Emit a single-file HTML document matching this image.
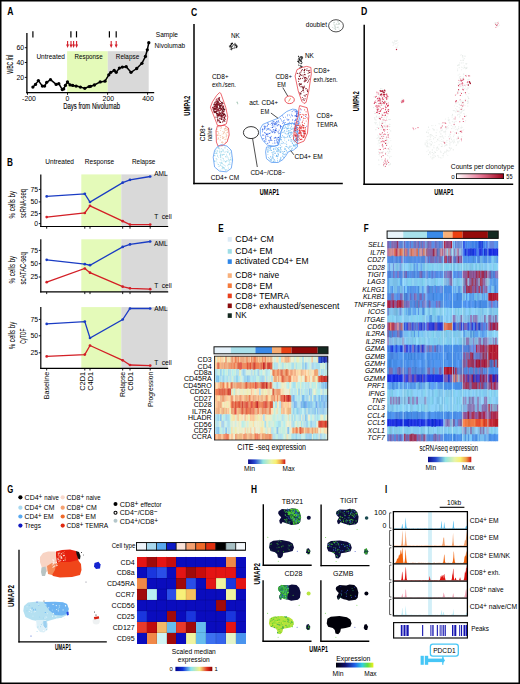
<!DOCTYPE html><html><head><meta charset="utf-8"><style>html,body{margin:0;padding:0;background:#fff;width:520px;height:684px;overflow:hidden}svg{display:block}</style></head><body>
<svg width="520" height="684" viewBox="0 0 520 684" font-family="Liberation Sans, sans-serif">
<rect x="0.00" y="0.00" width="520.00" height="684.00" fill="#fff" />
<text x="7.3" y="14.6" font-size="10.6" font-weight="bold" textLength="6.2" lengthAdjust="spacingAndGlyphs">A</text>
<text x="7.1" y="165.7" font-size="10.6" font-weight="bold" textLength="5.9" lengthAdjust="spacingAndGlyphs">B</text>
<text x="190.9" y="15.9" font-size="10.6" font-weight="bold" textLength="6.2" lengthAdjust="spacingAndGlyphs">C</text>
<text x="361.1" y="14.6" font-size="10.6" font-weight="bold" textLength="6.3" lengthAdjust="spacingAndGlyphs">D</text>
<text x="218.3" y="231.7" font-size="10.6" font-weight="bold" textLength="5.4" lengthAdjust="spacingAndGlyphs">E</text>
<text x="363.8" y="231.7" font-size="10.6" font-weight="bold" textLength="4.9" lengthAdjust="spacingAndGlyphs">F</text>
<text x="7.3" y="492.6" font-size="10.6" font-weight="bold" textLength="6.0" lengthAdjust="spacingAndGlyphs">G</text>
<text x="251.1" y="492.7" font-size="10.6" font-weight="bold" textLength="6.0" lengthAdjust="spacingAndGlyphs">H</text>
<text x="385.0" y="492.7" font-size="10.6" font-weight="bold" textLength="2.2" lengthAdjust="spacingAndGlyphs">I</text>
<rect x="67.10" y="51.20" width="40.70" height="41.50" fill="#e4fab9" />
<rect x="107.80" y="51.20" width="40.90" height="41.50" fill="#d9d9d9" />
<line x1="26.90" y1="33.00" x2="26.90" y2="93.30" stroke="#000" stroke-width="1.3" />
<line x1="26.30" y1="92.70" x2="154.20" y2="92.70" stroke="#000" stroke-width="1.3" />
<line x1="24.80" y1="47.70" x2="26.90" y2="47.70" stroke="#000" stroke-width="0.9" />
<text x="24.2" y="50.1" font-size="6.90" text-anchor="end" >60</text>
<line x1="24.80" y1="62.50" x2="26.90" y2="62.50" stroke="#000" stroke-width="0.9" />
<text x="24.2" y="64.9" font-size="6.90" text-anchor="end" >40</text>
<line x1="24.80" y1="77.40" x2="26.90" y2="77.40" stroke="#000" stroke-width="0.9" />
<text x="24.2" y="79.8" font-size="6.90" text-anchor="end" >20</text>
<line x1="27.50" y1="92.70" x2="27.50" y2="94.80" stroke="#000" stroke-width="0.9" />
<line x1="67.50" y1="92.70" x2="67.50" y2="94.80" stroke="#000" stroke-width="0.9" />
<line x1="107.60" y1="92.70" x2="107.60" y2="94.80" stroke="#000" stroke-width="0.9" />
<line x1="147.60" y1="92.70" x2="147.60" y2="94.80" stroke="#000" stroke-width="0.9" />
<text x="29.0" y="101.0" font-size="6.90" text-anchor="middle" >-200</text>
<text x="67.5" y="101.0" font-size="6.90" text-anchor="middle" >0</text>
<text x="108.3" y="101.0" font-size="6.90" text-anchor="middle" >200</text>
<text x="148.0" y="101.0" font-size="6.90" text-anchor="middle" >400</text>
<text x="63.2" y="108.8" font-size="8.69" textLength="56.8" lengthAdjust="spacingAndGlyphs" stroke="#000" stroke-width="0.12">Days from Nivolumab</text>
<text x="13.2" y="73.8" font-size="8.69" textLength="19.2" lengthAdjust="spacingAndGlyphs" transform="rotate(-90 13.2 73.8)" stroke="#000" stroke-width="0.12">WBC /nl</text>
<text x="36.4" y="59.2" font-size="7.31" textLength="28.6" lengthAdjust="spacingAndGlyphs" >Untreated</text>
<text x="74.6" y="59.2" font-size="7.31" textLength="28.0" lengthAdjust="spacingAndGlyphs" >Response</text>
<text x="115.8" y="59.2" font-size="7.31" textLength="23.4" lengthAdjust="spacingAndGlyphs" >Relapse</text>
<text x="155.8" y="37.2" font-size="7.31" textLength="22.2" lengthAdjust="spacingAndGlyphs" >Sample</text>
<text x="154.6" y="48.0" font-size="7.31" textLength="30.5" lengthAdjust="spacingAndGlyphs" >Nivolumab</text>
<line x1="32.90" y1="31.20" x2="32.90" y2="37.40" stroke="#000" stroke-width="1.2" />
<line x1="70.90" y1="31.20" x2="70.90" y2="37.40" stroke="#000" stroke-width="1.2" />
<line x1="76.50" y1="31.20" x2="76.50" y2="37.40" stroke="#000" stroke-width="1.2" />
<line x1="109.40" y1="31.20" x2="109.40" y2="37.40" stroke="#000" stroke-width="1.2" />
<line x1="116.20" y1="31.20" x2="116.20" y2="37.40" stroke="#000" stroke-width="1.2" />
<line x1="67.60" y1="41.00" x2="67.60" y2="45.50" stroke="#d3202a" stroke-width="1.1" />
<polygon points="66.1,44.6 69.1,44.6 67.6,47.9" fill="#d3202a" stroke="none" stroke-width="1" />
<line x1="71.00" y1="41.00" x2="71.00" y2="45.50" stroke="#d3202a" stroke-width="1.1" />
<polygon points="69.5,44.6 72.5,44.6 71.0,47.9" fill="#d3202a" stroke="none" stroke-width="1" />
<line x1="73.60" y1="41.00" x2="73.60" y2="45.50" stroke="#d3202a" stroke-width="1.1" />
<polygon points="72.1,44.6 75.1,44.6 73.6,47.9" fill="#d3202a" stroke="none" stroke-width="1" />
<line x1="76.60" y1="41.00" x2="76.60" y2="45.50" stroke="#d3202a" stroke-width="1.1" />
<polygon points="75.1,44.6 78.1,44.6 76.6,47.9" fill="#d3202a" stroke="none" stroke-width="1" />
<line x1="111.20" y1="41.00" x2="111.20" y2="45.50" stroke="#d3202a" stroke-width="1.1" />
<polygon points="109.7,44.6 112.7,44.6 111.2,47.9" fill="#d3202a" stroke="none" stroke-width="1" />
<line x1="116.20" y1="41.00" x2="116.20" y2="45.50" stroke="#d3202a" stroke-width="1.1" />
<polygon points="114.7,44.6 117.7,44.6 116.2,47.9" fill="#d3202a" stroke="none" stroke-width="1" />
<polyline points="32.9,87.1 35.5,84.4 38.4,80.6 42.4,86.1 44.6,86.1 46.7,82.3 50.5,79.7 56.2,84.4 58.8,83.7 62.3,89.6 63.7,88.9 65.4,85.4 67.5,82.0 70.1,84.9 72.7,85.4 76.1,86.1 80.4,87.1 84.8,88.3 89.1,86.6 90.6,86.3 94.4,85.0 100.2,81.9 105.0,81.2 108.8,74.8 110.8,72.3 114.2,70.4 116.2,72.3 119.4,68.1 122.3,67.1 126.2,66.7 131.0,72.3 136.7,68.5 141.9,63.3 145.4,56.5 147.3,49.8 148.8,42.7" fill="none" stroke="#000" stroke-width="1.5" stroke-linejoin="round"/>
<circle cx="32.9" cy="87.1" r="1.65" fill="#000"/>
<circle cx="35.5" cy="84.4" r="1.65" fill="#000"/>
<circle cx="38.4" cy="80.6" r="1.65" fill="#000"/>
<circle cx="42.4" cy="86.1" r="1.65" fill="#000"/>
<circle cx="44.6" cy="86.1" r="1.65" fill="#000"/>
<circle cx="46.7" cy="82.3" r="1.65" fill="#000"/>
<circle cx="50.5" cy="79.7" r="1.65" fill="#000"/>
<circle cx="56.2" cy="84.4" r="1.65" fill="#000"/>
<circle cx="58.8" cy="83.7" r="1.65" fill="#000"/>
<circle cx="62.3" cy="89.6" r="1.65" fill="#000"/>
<circle cx="63.7" cy="88.9" r="1.65" fill="#000"/>
<circle cx="65.4" cy="85.4" r="1.65" fill="#000"/>
<circle cx="67.5" cy="82.0" r="1.65" fill="#000"/>
<circle cx="70.1" cy="84.9" r="1.65" fill="#000"/>
<circle cx="72.7" cy="85.4" r="1.65" fill="#000"/>
<circle cx="76.1" cy="86.1" r="1.65" fill="#000"/>
<circle cx="80.4" cy="87.1" r="1.65" fill="#000"/>
<circle cx="84.8" cy="88.3" r="1.65" fill="#000"/>
<circle cx="89.1" cy="86.6" r="1.65" fill="#000"/>
<circle cx="90.6" cy="86.3" r="1.65" fill="#000"/>
<circle cx="94.4" cy="85.0" r="1.65" fill="#000"/>
<circle cx="100.2" cy="81.9" r="1.65" fill="#000"/>
<circle cx="105.0" cy="81.2" r="1.65" fill="#000"/>
<circle cx="108.8" cy="74.8" r="1.65" fill="#000"/>
<circle cx="110.8" cy="72.3" r="1.65" fill="#000"/>
<circle cx="114.2" cy="70.4" r="1.65" fill="#000"/>
<circle cx="116.2" cy="72.3" r="1.65" fill="#000"/>
<circle cx="119.4" cy="68.1" r="1.65" fill="#000"/>
<circle cx="122.3" cy="67.1" r="1.65" fill="#000"/>
<circle cx="126.2" cy="66.7" r="1.65" fill="#000"/>
<circle cx="131.0" cy="72.3" r="1.65" fill="#000"/>
<circle cx="136.7" cy="68.5" r="1.65" fill="#000"/>
<circle cx="141.9" cy="63.3" r="1.65" fill="#000"/>
<circle cx="145.4" cy="56.5" r="1.65" fill="#000"/>
<circle cx="147.3" cy="49.8" r="1.65" fill="#000"/>
<circle cx="148.8" cy="42.7" r="1.65" fill="#000"/>
<text x="45.3" y="163.8" font-size="7.31" textLength="28.7" lengthAdjust="spacingAndGlyphs" >Untreated</text>
<text x="84.8" y="163.8" font-size="7.31" textLength="29.4" lengthAdjust="spacingAndGlyphs" >Response</text>
<text x="132.0" y="163.8" font-size="7.31" textLength="23.4" lengthAdjust="spacingAndGlyphs" >Relapse</text>
<rect x="81.30" y="174.40" width="40.00" height="52.10" fill="#e4fab9" />
<rect x="121.30" y="174.40" width="46.40" height="52.10" fill="#d9d9d9" />
<line x1="40.80" y1="174.40" x2="40.80" y2="227.10" stroke="#000" stroke-width="1.2" />
<line x1="40.20" y1="226.50" x2="168.20" y2="226.50" stroke="#000" stroke-width="1.2" />
<line x1="38.80" y1="189.40" x2="40.80" y2="189.40" stroke="#000" stroke-width="0.9" />
<text x="38.2" y="191.8" font-size="6.90" text-anchor="end" >75</text>
<line x1="38.80" y1="201.90" x2="40.80" y2="201.90" stroke="#000" stroke-width="0.9" />
<text x="38.2" y="204.3" font-size="6.90" text-anchor="end" >50</text>
<line x1="38.80" y1="213.60" x2="40.80" y2="213.60" stroke="#000" stroke-width="0.9" />
<text x="38.2" y="216.0" font-size="6.90" text-anchor="end" >25</text>
<line x1="38.80" y1="223.60" x2="40.80" y2="223.60" stroke="#000" stroke-width="0.9" />
<text x="38.2" y="226.0" font-size="6.90" text-anchor="end" >0</text>
<line x1="46.70" y1="226.50" x2="46.70" y2="228.70" stroke="#000" stroke-width="0.9" />
<line x1="84.80" y1="226.50" x2="84.80" y2="228.70" stroke="#000" stroke-width="0.9" />
<line x1="90.00" y1="226.50" x2="90.00" y2="228.70" stroke="#000" stroke-width="0.9" />
<line x1="122.70" y1="226.50" x2="122.70" y2="228.70" stroke="#000" stroke-width="0.9" />
<line x1="130.00" y1="226.50" x2="130.00" y2="228.70" stroke="#000" stroke-width="0.9" />
<line x1="150.20" y1="226.50" x2="150.20" y2="228.70" stroke="#000" stroke-width="0.9" />
<polyline points="46.7,196.4 84.8,193.8 90.0,202.0 122.7,182.7 130.0,179.8 150.2,176.5" fill="none" stroke="#1a3cc4" stroke-width="1.3" />
<polyline points="46.7,217.1 84.8,213.0 90.0,205.8 122.7,221.2 130.0,224.6 150.2,224.6" fill="none" stroke="#d31f26" stroke-width="1.3" />
<circle cx="46.7" cy="196.4" r="1.35" fill="#1a3cc4"/>
<circle cx="84.8" cy="193.8" r="1.35" fill="#1a3cc4"/>
<circle cx="90.0" cy="202.0" r="1.35" fill="#1a3cc4"/>
<circle cx="122.7" cy="182.7" r="1.35" fill="#1a3cc4"/>
<circle cx="130.0" cy="179.8" r="1.35" fill="#1a3cc4"/>
<circle cx="150.2" cy="176.5" r="1.35" fill="#1a3cc4"/>
<circle cx="46.7" cy="217.1" r="1.35" fill="#d31f26"/>
<circle cx="84.8" cy="213.0" r="1.35" fill="#d31f26"/>
<circle cx="90.0" cy="205.8" r="1.35" fill="#d31f26"/>
<circle cx="122.7" cy="221.2" r="1.35" fill="#d31f26"/>
<circle cx="130.0" cy="224.6" r="1.35" fill="#d31f26"/>
<circle cx="150.2" cy="224.6" r="1.35" fill="#d31f26"/>
<text x="154.2" y="176.3" font-size="7.42" textLength="13.4" lengthAdjust="spacingAndGlyphs" >AML</text>
<text x="154.2" y="219.1" font-size="7.42" textLength="4.0" lengthAdjust="spacingAndGlyphs" >T</text>
<text x="161.7" y="219.1" font-size="7.42" textLength="10.0" lengthAdjust="spacingAndGlyphs" >cell</text>
<text x="15.4" y="204.7" font-size="8.69" text-anchor="middle" textLength="27.6" lengthAdjust="spacingAndGlyphs" transform="rotate(-90 15.4 204.7)" >% cells by</text>
<text x="25.9" y="203.6" font-size="8.69" text-anchor="middle" textLength="28.9" lengthAdjust="spacingAndGlyphs" transform="rotate(-90 25.9 203.6)" >scRNA-seq</text>
<rect x="81.30" y="239.30" width="40.00" height="52.60" fill="#e4fab9" />
<rect x="121.30" y="239.30" width="46.40" height="52.60" fill="#d9d9d9" />
<line x1="40.80" y1="239.30" x2="40.80" y2="292.50" stroke="#000" stroke-width="1.2" />
<line x1="40.20" y1="291.90" x2="168.20" y2="291.90" stroke="#000" stroke-width="1.2" />
<line x1="38.80" y1="250.40" x2="40.80" y2="250.40" stroke="#000" stroke-width="0.9" />
<text x="38.2" y="252.8" font-size="6.90" text-anchor="end" >75</text>
<line x1="38.80" y1="263.70" x2="40.80" y2="263.70" stroke="#000" stroke-width="0.9" />
<text x="38.2" y="266.1" font-size="6.90" text-anchor="end" >50</text>
<line x1="38.80" y1="277.00" x2="40.80" y2="277.00" stroke="#000" stroke-width="0.9" />
<text x="38.2" y="279.4" font-size="6.90" text-anchor="end" >25</text>
<line x1="46.70" y1="291.90" x2="46.70" y2="294.10" stroke="#000" stroke-width="0.9" />
<line x1="84.80" y1="291.90" x2="84.80" y2="294.10" stroke="#000" stroke-width="0.9" />
<line x1="90.00" y1="291.90" x2="90.00" y2="294.10" stroke="#000" stroke-width="0.9" />
<line x1="122.70" y1="291.90" x2="122.70" y2="294.10" stroke="#000" stroke-width="0.9" />
<line x1="130.00" y1="291.90" x2="130.00" y2="294.10" stroke="#000" stroke-width="0.9" />
<line x1="150.20" y1="291.90" x2="150.20" y2="294.10" stroke="#000" stroke-width="0.9" />
<polyline points="46.7,259.8 84.8,264.2 90.0,265.2 122.7,246.9 130.0,244.4 150.2,241.5" fill="none" stroke="#1a3cc4" stroke-width="1.3" />
<polyline points="46.7,282.2 84.8,268.5 90.0,272.7 122.7,286.7 130.0,288.3 150.2,289.2" fill="none" stroke="#d31f26" stroke-width="1.3" />
<circle cx="46.7" cy="259.8" r="1.35" fill="#1a3cc4"/>
<circle cx="84.8" cy="264.2" r="1.35" fill="#1a3cc4"/>
<circle cx="90.0" cy="265.2" r="1.35" fill="#1a3cc4"/>
<circle cx="122.7" cy="246.9" r="1.35" fill="#1a3cc4"/>
<circle cx="130.0" cy="244.4" r="1.35" fill="#1a3cc4"/>
<circle cx="150.2" cy="241.5" r="1.35" fill="#1a3cc4"/>
<circle cx="46.7" cy="282.2" r="1.35" fill="#d31f26"/>
<circle cx="84.8" cy="268.5" r="1.35" fill="#d31f26"/>
<circle cx="90.0" cy="272.7" r="1.35" fill="#d31f26"/>
<circle cx="122.7" cy="286.7" r="1.35" fill="#d31f26"/>
<circle cx="130.0" cy="288.3" r="1.35" fill="#d31f26"/>
<circle cx="150.2" cy="289.2" r="1.35" fill="#d31f26"/>
<text x="154.2" y="246.1" font-size="7.42" textLength="13.4" lengthAdjust="spacingAndGlyphs" >AML</text>
<text x="154.2" y="288.3" font-size="7.42" textLength="4.0" lengthAdjust="spacingAndGlyphs" >T</text>
<text x="161.7" y="288.3" font-size="7.42" textLength="10.0" lengthAdjust="spacingAndGlyphs" >cell</text>
<text x="15.4" y="269.6" font-size="8.69" text-anchor="middle" textLength="27.6" lengthAdjust="spacingAndGlyphs" transform="rotate(-90 15.4 269.6)" >% cells by</text>
<text x="25.9" y="268.3" font-size="8.69" text-anchor="middle" textLength="32.2" lengthAdjust="spacingAndGlyphs" transform="rotate(-90 25.9 268.3)" >scATAC-seq</text>
<rect x="81.30" y="307.10" width="40.00" height="61.20" fill="#e4fab9" />
<rect x="121.30" y="307.10" width="46.40" height="61.20" fill="#d9d9d9" />
<line x1="40.80" y1="307.10" x2="40.80" y2="368.90" stroke="#000" stroke-width="1.2" />
<line x1="40.20" y1="368.30" x2="168.20" y2="368.30" stroke="#000" stroke-width="1.2" />
<line x1="38.80" y1="319.40" x2="40.80" y2="319.40" stroke="#000" stroke-width="0.9" />
<text x="38.2" y="321.8" font-size="6.90" text-anchor="end" >75</text>
<line x1="38.80" y1="335.80" x2="40.80" y2="335.80" stroke="#000" stroke-width="0.9" />
<text x="38.2" y="338.2" font-size="6.90" text-anchor="end" >50</text>
<line x1="38.80" y1="352.80" x2="40.80" y2="352.80" stroke="#000" stroke-width="0.9" />
<text x="38.2" y="355.2" font-size="6.90" text-anchor="end" >25</text>
<line x1="46.70" y1="368.30" x2="46.70" y2="370.50" stroke="#000" stroke-width="0.9" />
<line x1="84.80" y1="368.30" x2="84.80" y2="370.50" stroke="#000" stroke-width="0.9" />
<line x1="90.00" y1="368.30" x2="90.00" y2="370.50" stroke="#000" stroke-width="0.9" />
<line x1="122.70" y1="368.30" x2="122.70" y2="370.50" stroke="#000" stroke-width="0.9" />
<line x1="130.00" y1="368.30" x2="130.00" y2="370.50" stroke="#000" stroke-width="0.9" />
<line x1="150.20" y1="368.30" x2="150.20" y2="370.50" stroke="#000" stroke-width="0.9" />
<polyline points="46.7,323.9 84.8,321.6 90.0,338.0 122.7,319.5 130.0,308.5 150.2,308.5" fill="none" stroke="#1a3cc4" stroke-width="1.3" />
<polyline points="46.7,356.4 84.8,354.6 90.0,345.5 122.7,360.3 130.0,365.0 150.2,365.6" fill="none" stroke="#d31f26" stroke-width="1.3" />
<circle cx="46.7" cy="323.9" r="1.35" fill="#1a3cc4"/>
<circle cx="84.8" cy="321.6" r="1.35" fill="#1a3cc4"/>
<circle cx="90.0" cy="338.0" r="1.35" fill="#1a3cc4"/>
<circle cx="122.7" cy="319.5" r="1.35" fill="#1a3cc4"/>
<circle cx="130.0" cy="308.5" r="1.35" fill="#1a3cc4"/>
<circle cx="150.2" cy="308.5" r="1.35" fill="#1a3cc4"/>
<circle cx="46.7" cy="356.4" r="1.35" fill="#d31f26"/>
<circle cx="84.8" cy="354.6" r="1.35" fill="#d31f26"/>
<circle cx="90.0" cy="345.5" r="1.35" fill="#d31f26"/>
<circle cx="122.7" cy="360.3" r="1.35" fill="#d31f26"/>
<circle cx="130.0" cy="365.0" r="1.35" fill="#d31f26"/>
<circle cx="150.2" cy="365.6" r="1.35" fill="#d31f26"/>
<text x="154.2" y="311.2" font-size="7.42" textLength="13.4" lengthAdjust="spacingAndGlyphs" >AML</text>
<text x="154.2" y="364.5" font-size="7.42" textLength="4.0" lengthAdjust="spacingAndGlyphs" >T</text>
<text x="161.7" y="364.5" font-size="7.42" textLength="10.0" lengthAdjust="spacingAndGlyphs" >cell</text>
<text x="15.4" y="335.5" font-size="8.69" text-anchor="middle" textLength="27.6" lengthAdjust="spacingAndGlyphs" transform="rotate(-90 15.4 335.5)" >% cells by</text>
<text x="25.9" y="336.2" font-size="8.69" text-anchor="middle" textLength="15.3" lengthAdjust="spacingAndGlyphs" transform="rotate(-90 25.9 336.2)" >CyTOF</text>
<text x="49.3" y="371.8" font-size="7.95" text-anchor="end" textLength="27.4" lengthAdjust="spacingAndGlyphs" transform="rotate(-90 49.3 371.8)" >Baseline</text>
<text x="85.5" y="371.8" font-size="7.95" text-anchor="end" textLength="19.0" lengthAdjust="spacingAndGlyphs" transform="rotate(-90 85.5 371.8)" >C2D1</text>
<text x="93.1" y="371.8" font-size="7.95" text-anchor="end" textLength="19.0" lengthAdjust="spacingAndGlyphs" transform="rotate(-90 93.1 371.8)" >C4D1</text>
<text x="125.3" y="371.8" font-size="7.95" text-anchor="end" textLength="25.3" lengthAdjust="spacingAndGlyphs" transform="rotate(-90 125.3 371.8)" >Relapse</text>
<text x="132.9" y="371.8" font-size="7.95" text-anchor="end" textLength="19.0" lengthAdjust="spacingAndGlyphs" transform="rotate(-90 132.9 371.8)" >C6D1</text>
<text x="152.8" y="371.8" font-size="7.95" text-anchor="end" textLength="35.3" lengthAdjust="spacingAndGlyphs" transform="rotate(-90 152.8 371.8)" >Progression</text>
<line x1="194.00" y1="24.00" x2="194.00" y2="184.20" stroke="#000" stroke-width="1.5" />
<line x1="193.30" y1="183.50" x2="342.80" y2="183.50" stroke="#000" stroke-width="1.5" />
<text x="190.3" y="105.8" font-size="9.54" text-anchor="middle" font-weight="bold" textLength="20" lengthAdjust="spacingAndGlyphs" transform="rotate(-90 190.3 105.8)" >UMPA2</text>
<text x="269.5" y="194.5" font-size="9.54" text-anchor="middle" font-weight="bold" textLength="19.4" lengthAdjust="spacingAndGlyphs" >UMAP1</text>
<path d="M219.7 104.8h0M221.5 105.0h0M222.2 106.9h0M219.5 121.8h0M213.0 108.9h0M215.2 106.5h0M214.5 108.8h0M216.8 111.5h0M217.2 105.9h0M214.8 104.2h0M219.6 97.5h0M216.1 100.0h0M225.2 119.5h0M224.6 117.3h0M219.1 110.4h0M223.8 109.6h0M222.6 121.9h0M213.2 107.0h0M222.4 106.8h0M219.0 120.5h0M213.1 107.5h0M220.6 110.3h0M223.5 114.6h0M223.2 119.7h0M219.2 120.5h0M220.1 113.6h0M219.0 105.4h0M222.1 115.7h0M219.4 108.1h0M225.8 116.1h0M218.2 102.7h0M216.7 106.9h0M218.6 104.1h0M218.4 111.0h0M215.6 108.0h0M219.1 115.1h0M216.9 103.7h0M215.3 104.3h0M217.1 101.0h0M224.4 117.3h0M220.5 103.5h0M218.7 120.0h0M220.8 113.3h0M224.2 110.9h0M217.3 111.0h0M215.8 111.5h0M216.6 106.5h0M216.9 109.4h0" stroke="#8c1a28" stroke-width="1.20" stroke-linecap="round" fill="none"/>
<path d="M217.8 120.2h0M220.4 105.8h0M217.7 117.9h0M220.5 107.8h0M214.9 104.8h0M223.5 108.6h0M214.6 112.2h0M216.6 107.9h0M223.0 111.2h0M221.4 119.4h0M219.6 100.6h0M222.7 113.8h0M223.0 114.1h0M220.6 122.4h0M222.3 115.8h0M221.3 115.3h0M224.3 117.6h0M218.7 115.4h0M222.2 102.3h0M218.2 101.6h0M214.1 112.0h0M219.3 98.9h0M223.1 107.7h0M221.8 102.6h0M220.3 122.2h0M217.0 103.9h0M217.4 107.5h0M224.8 121.2h0M221.7 118.1h0M221.6 102.7h0M221.5 115.9h0M216.3 106.6h0M224.3 117.3h0M219.2 99.5h0M219.0 98.9h0M213.8 104.8h0M215.9 101.8h0M214.5 106.5h0M221.2 115.1h0M220.3 105.1h0M224.5 114.4h0M214.2 104.9h0" stroke="#5a0a14" stroke-width="1.20" stroke-linecap="round" fill="none"/>
<path d="M215.9 112.2h0M218.3 102.6h0M223.7 111.7h0M218.6 114.8h0M220.0 122.1h0M218.5 108.8h0M219.7 118.6h0M214.3 109.9h0M221.8 119.3h0M216.5 110.9h0M220.2 118.0h0M221.1 109.5h0M221.3 109.7h0M220.3 116.0h0M215.8 102.8h0M223.2 111.0h0M213.7 108.5h0M217.2 109.5h0M217.4 104.2h0M225.5 115.0h0M215.8 104.5h0M218.7 109.4h0M213.9 109.5h0M224.4 120.2h0M224.7 109.6h0M220.1 105.8h0M219.0 99.9h0M217.6 110.1h0M219.5 112.1h0M217.7 101.2h0M214.3 106.5h0M222.0 105.2h0M214.5 108.5h0M224.7 118.4h0M221.0 103.5h0M216.0 104.7h0M222.8 107.5h0M223.4 120.9h0M217.5 102.1h0M217.8 120.0h0M218.4 98.0h0" stroke="#7a0f1c" stroke-width="1.20" stroke-linecap="round" fill="none"/>
<path d="M224.2 115.9h0M214.6 111.8h0M222.5 112.5h0M217.1 114.9h0M220.7 101.4h0M219.4 113.2h0M216.4 101.4h0M225.4 115.9h0M217.9 121.7h0M214.8 102.4h0M214.9 106.6h0M218.1 98.7h0M213.4 108.4h0M216.1 109.9h0M220.1 118.8h0M219.3 115.7h0M218.3 110.4h0M212.5 107.4h0M217.3 108.9h0M219.4 103.9h0M220.0 107.3h0M218.3 103.9h0M219.1 98.5h0M215.5 107.9h0M217.2 103.5h0M219.2 110.5h0M223.7 113.2h0M216.9 105.7h0M223.5 114.1h0M223.4 106.4h0M219.2 113.6h0M219.5 115.4h0M217.2 100.1h0M217.5 119.7h0M216.3 101.7h0M217.9 109.1h0M219.2 100.3h0M214.8 112.6h0M216.7 99.2h0" stroke="#a0283a" stroke-width="1.20" stroke-linecap="round" fill="none"/>
<path d="M223.5 114.9h0M217.8 105.0h0M219.7 106.7h0M224.2 113.9h0M213.5 110.1h0M222.4 113.6h0M221.9 108.8h0M219.6 108.3h0M222.5 109.9h0M216.2 112.2h0M221.4 116.3h0M219.8 105.8h0M215.5 111.8h0M217.1 102.7h0M221.4 114.0h0M220.6 105.5h0M216.4 113.6h0M224.6 109.6h0M217.2 113.4h0M222.8 103.2h0M215.2 109.4h0M216.4 104.1h0M214.3 112.1h0M220.5 106.8h0M223.8 109.5h0M219.4 114.3h0M220.9 114.1h0M222.3 111.0h0M214.5 108.8h0M221.4 116.0h0M214.7 111.5h0M217.9 114.1h0M223.9 108.2h0M218.1 104.3h0" stroke="#5a0a14" stroke-width="1.20" stroke-linecap="round" fill="none"/>
<path d="M220.7 108.4h0M216.0 117.2h0M217.9 104.5h0M221.9 108.6h0M221.3 116.1h0M216.1 104.5h0M218.6 116.0h0M221.3 112.0h0M217.4 115.5h0M214.3 103.9h0M223.2 115.4h0M222.1 103.9h0M216.8 108.1h0M217.4 106.1h0M218.2 114.7h0M218.9 115.1h0M221.4 109.5h0M215.8 108.8h0M222.0 112.3h0M215.0 108.3h0M216.0 106.2h0M215.4 112.1h0M214.3 103.9h0M217.8 115.0h0" stroke="#7a0f1c" stroke-width="1.20" stroke-linecap="round" fill="none"/>
<path d="M215.4 111.6h0M219.1 112.2h0M222.8 103.3h0M216.7 105.7h0M217.0 114.2h0M221.5 105.1h0M221.9 117.9h0M222.0 106.2h0M223.6 106.2h0M220.6 113.2h0M218.2 113.8h0M213.8 111.2h0M222.8 116.9h0M224.0 117.9h0M220.6 115.7h0M223.2 111.7h0M219.5 104.1h0M217.2 115.8h0M221.4 115.0h0M217.8 107.5h0M215.5 105.0h0M217.6 116.8h0M217.2 106.2h0M215.3 105.7h0M219.3 103.1h0M216.9 103.6h0M214.2 107.3h0M221.8 108.3h0M221.3 109.5h0M220.6 108.8h0M219.9 114.2h0M221.7 116.7h0" stroke="#8c1a28" stroke-width="1.20" stroke-linecap="round" fill="none"/>
<path d="M217.4 131.6h0M226.0 138.8h0M226.5 132.7h0M224.7 129.7h0M222.0 141.6h0M218.8 133.7h0M223.2 138.5h0M222.6 131.5h0M222.1 134.2h0M218.4 132.8h0M224.7 132.4h0M220.5 130.5h0M216.7 131.3h0M218.7 135.5h0M217.6 129.3h0M222.6 136.6h0M221.6 127.4h0M220.1 140.1h0M227.4 129.1h0M223.5 137.3h0M228.1 135.7h0M226.2 134.1h0M225.2 133.7h0M224.7 128.5h0" stroke="#f8d4bc" stroke-width="1.00" stroke-linecap="round" fill="none"/>
<path d="M218.5 138.7h0M225.5 142.2h0M226.3 135.1h0M226.3 130.1h0M224.6 132.0h0M222.4 138.3h0M218.0 131.6h0M223.5 132.1h0M217.0 131.4h0M224.0 137.3h0M227.3 129.2h0M223.1 138.0h0M218.8 126.9h0M225.2 130.4h0M218.2 137.8h0M225.7 128.6h0M217.2 135.4h0M226.0 128.3h0M226.3 136.8h0M220.7 135.6h0M227.5 132.5h0M225.4 128.0h0M221.0 128.4h0M224.3 128.9h0M222.9 142.5h0M217.1 135.1h0M227.3 129.8h0M217.6 135.1h0" stroke="#eeb898" stroke-width="1.00" stroke-linecap="round" fill="none"/>
<path d="M217.9 139.2h0M225.3 139.6h0M222.4 142.1h0M221.1 127.1h0M220.6 137.4h0M219.9 135.6h0M227.1 139.3h0M221.5 142.5h0M222.2 136.9h0M222.4 144.1h0M220.2 139.8h0M218.8 133.9h0M228.0 131.2h0M223.3 133.7h0M223.6 133.6h0M226.8 135.2h0M224.9 139.6h0M226.2 136.7h0" stroke="#f4c4a8" stroke-width="1.00" stroke-linecap="round" fill="none"/>
<path d="M228.8 161.0h0M230.1 164.4h0M222.0 163.4h0M228.7 159.5h0M226.9 169.8h0M225.0 148.2h0M223.0 149.7h0M223.2 164.7h0M222.3 154.8h0M220.8 154.9h0M220.4 165.0h0M217.7 147.8h0M227.5 149.6h0M222.0 168.8h0M221.7 148.7h0M226.2 161.7h0M225.6 170.3h0M226.1 151.4h0M220.1 170.0h0M220.1 151.3h0M227.5 151.8h0M229.4 162.0h0M229.6 160.0h0M221.0 159.9h0M216.8 153.5h0M222.0 146.0h0M225.2 169.6h0M227.6 152.5h0M230.5 152.9h0M216.9 159.5h0M230.2 150.6h0M223.9 161.1h0M226.3 170.0h0" stroke="#a8dcee" stroke-width="1.00" stroke-linecap="round" fill="none"/>
<path d="M229.4 160.5h0M219.4 152.0h0M228.0 165.9h0M228.3 158.2h0M223.6 159.3h0M220.7 159.3h0M223.6 154.3h0M223.3 151.7h0M229.4 153.4h0M228.8 152.6h0M224.4 154.4h0M228.3 167.9h0M222.8 168.2h0M224.2 160.6h0M221.9 160.8h0M220.4 163.8h0M222.6 167.6h0M225.6 169.7h0M219.4 151.0h0M217.8 164.2h0M228.0 157.8h0M227.7 160.7h0M220.6 156.7h0M230.5 157.4h0M231.2 155.1h0M220.3 153.7h0M221.3 151.4h0M218.3 147.7h0M222.0 157.8h0M225.4 166.0h0M217.8 151.2h0M221.1 152.2h0M223.3 150.9h0M216.6 161.0h0M227.4 165.3h0M231.0 158.8h0M219.9 152.3h0M228.3 168.2h0M224.4 169.0h0M227.4 156.8h0M222.2 151.2h0M221.8 154.2h0M218.5 157.3h0M224.6 165.3h0M226.2 157.2h0M219.5 148.7h0M226.4 154.3h0M230.1 162.7h0M217.1 162.8h0M219.9 149.2h0M231.3 156.6h0M231.0 160.3h0M217.5 155.2h0M219.5 152.0h0M221.3 162.8h0" stroke="#bce6f2" stroke-width="1.00" stroke-linecap="round" fill="none"/>
<path d="M220.7 154.9h0M228.2 151.1h0M218.8 148.5h0M222.6 155.0h0M228.5 164.3h0M214.4 155.5h0M223.0 150.2h0M220.4 157.3h0M214.8 153.3h0M225.0 147.2h0M218.6 147.3h0M229.6 153.9h0M229.7 154.8h0M215.2 153.3h0M221.8 162.4h0M214.7 161.5h0M219.0 166.5h0M216.2 158.6h0M231.1 159.9h0M221.6 151.8h0M220.8 156.0h0M225.6 156.7h0M223.1 158.5h0M221.8 166.1h0M216.9 153.0h0M223.3 167.5h0M215.0 155.8h0M224.4 168.0h0M218.9 147.6h0M215.8 151.3h0M214.9 161.5h0M216.5 153.2h0M230.4 159.4h0M217.6 150.9h0M226.7 160.9h0M220.2 155.6h0M229.5 164.1h0M217.6 156.1h0M225.3 161.7h0M214.8 160.7h0M223.1 168.7h0M218.5 164.6h0M222.0 163.5h0M223.8 154.6h0M222.5 166.9h0M220.0 162.5h0M223.2 167.3h0M220.1 165.4h0M215.9 150.2h0M225.0 152.2h0M225.4 161.8h0M226.8 155.9h0" stroke="#94d2e8" stroke-width="1.00" stroke-linecap="round" fill="none"/>
<polygon points="219.4,92.6 220.8,93.3 225.7,107.2 227.8,117.0 226.4,123.9 220.8,126.0 217.4,125.3 215.3,119.7 210.4,107.2 212.5,101.7 216.7,95.4" fill="none" stroke="#e8414a" stroke-width="0.8" />
<polygon points="217.4,126.0 224.3,125.3 228.5,128.0 229.2,135.0 227.1,142.0 222.9,145.4 218.0,146.1 216.4,142.0 216.0,130.8" fill="none" stroke="#e8414a" stroke-width="0.8" />
<polygon points="221.5,144.7 227.0,146.1 231.3,150.3 232.6,160.0 231.3,168.3 226.4,171.8 219.4,171.1 214.6,167.0 213.2,157.2 214.6,150.3 218.0,146.1" fill="none" stroke="#5b9cf3" stroke-width="0.8" />
<path d="M229.4 46.0h0M230.3 49.0h0M232.0 43.9h0M231.3 43.3h0M236.7 47.4h0M236.6 47.5h0M232.3 48.6h0M230.5 45.5h0M230.0 47.0h0M231.1 44.1h0M231.9 43.8h0M235.0 43.3h0M230.1 46.3h0M235.1 45.7h0M230.9 46.3h0" stroke="#222" stroke-width="1.20" stroke-linecap="round" fill="none"/>
<path d="M235.7 45.1h0M234.0 48.2h0M233.7 44.8h0M232.5 43.5h0M236.0 47.7h0M231.7 48.6h0M232.0 46.3h0M232.3 43.0h0M237.2 46.2h0M236.3 45.2h0M230.9 45.1h0M236.4 46.6h0M235.7 44.6h0M236.0 45.5h0M231.4 44.5h0M230.4 45.5h0" stroke="#111" stroke-width="1.20" stroke-linecap="round" fill="none"/>
<path d="M231.6 49.7h0M230.7 46.7h0M234.5 47.0h0M230.4 46.9h0M234.3 44.6h0M231.6 47.6h0M231.5 47.3h0M232.3 45.9h0M231.3 49.6h0" stroke="#444" stroke-width="1.20" stroke-linecap="round" fill="none"/>
<ellipse cx="251" cy="132.6" rx="7.6" ry="6.0" fill="none" stroke="#222" stroke-width="0.9"/>
<line x1="252.60" y1="138.70" x2="257.30" y2="167.00" stroke="#222" stroke-width="0.8" />
<ellipse cx="336" cy="25.8" rx="7.4" ry="6.1" fill="none" stroke="#222" stroke-width="0.8"/>
<path d="M337.1 24.6h0M338.5 23.9h0M339.0 29.0h0M337.9 27.4h0M333.8 24.1h0M338.2 24.5h0M339.0 23.9h0M337.5 21.9h0M332.8 27.4h0M335.8 29.4h0" stroke="#c8d4cc" stroke-width="1.00" stroke-linecap="round" fill="none"/>
<path d="M336.5 24.0h0M334.0 22.6h0M335.6 29.2h0M338.1 27.1h0M335.2 25.0h0M334.2 28.7h0M335.2 26.8h0M338.4 21.8h0M334.8 26.9h0M337.1 27.6h0M334.3 25.2h0M334.2 22.4h0M339.1 23.3h0M335.5 27.9h0M339.5 23.9h0" stroke="#b8c8c0" stroke-width="1.00" stroke-linecap="round" fill="none"/>
<text x="305.8" y="27.2" font-size="6.89" textLength="21.2" lengthAdjust="spacingAndGlyphs" >doublet</text>
<path d="M301.2 58.6h0M298.9 62.3h0M300.6 59.9h0M301.7 57.7h0M300.1 65.5h0M301.4 61.4h0M300.1 60.3h0M301.7 56.6h0M300.2 61.2h0M299.0 58.7h0M301.6 59.8h0M300.6 60.3h0M298.6 65.0h0" stroke="#222" stroke-width="1.20" stroke-linecap="round" fill="none"/>
<path d="M300.0 67.8h0M299.5 59.4h0M301.2 63.3h0M302.1 57.0h0M299.2 60.2h0M298.5 56.4h0M300.6 56.9h0M299.2 57.9h0M301.0 66.6h0M301.8 66.4h0M302.1 58.6h0M301.4 67.4h0M298.5 61.3h0M297.8 61.3h0" stroke="#111" stroke-width="1.20" stroke-linecap="round" fill="none"/>
<path d="M302.4 57.4h0M302.0 62.7h0M298.7 56.3h0M299.1 58.1h0M298.2 59.8h0M298.6 62.6h0M301.1 63.7h0M301.8 66.5h0M302.6 57.7h0M299.3 60.3h0M301.0 66.2h0M300.3 57.6h0M299.2 63.1h0" stroke="#444" stroke-width="1.20" stroke-linecap="round" fill="none"/>
<path d="M305.1 96.5h0M304.5 81.8h0M301.5 70.6h0M305.2 98.8h0M304.2 100.4h0M307.2 79.1h0M308.5 71.0h0M303.8 92.0h0M303.2 76.1h0M307.6 89.9h0M298.9 79.4h0M305.2 78.8h0M305.7 88.7h0M305.7 95.1h0M301.0 71.9h0M310.0 72.4h0M302.6 78.4h0M309.7 70.4h0M305.6 81.3h0M304.2 81.6h0M305.3 74.7h0M308.4 76.9h0" stroke="#a0283a" stroke-width="1.10" stroke-linecap="round" fill="none"/>
<path d="M305.0 77.4h0M299.9 79.1h0M303.7 87.4h0M304.0 70.6h0M304.4 70.6h0M306.7 94.5h0M308.5 80.9h0M300.0 92.6h0M299.2 73.6h0M302.3 97.5h0M304.1 77.2h0M306.2 80.5h0M304.3 86.0h0M306.1 77.7h0M303.3 90.0h0M300.8 86.8h0M300.1 93.4h0M304.6 69.4h0M299.6 76.0h0M307.2 90.5h0M307.0 68.8h0M299.2 76.1h0M305.5 77.5h0M300.5 84.4h0M309.5 72.4h0" stroke="#8c1a28" stroke-width="1.10" stroke-linecap="round" fill="none"/>
<path d="M302.9 90.4h0M305.8 80.2h0M299.2 84.6h0M304.1 74.8h0M303.4 88.2h0M304.7 74.3h0M309.2 72.6h0M308.1 70.6h0M304.5 70.6h0M308.1 73.3h0M301.5 84.1h0M305.0 69.2h0M300.4 74.4h0M304.4 80.8h0M304.5 78.8h0M299.5 76.5h0M305.4 79.9h0M300.6 78.4h0M302.3 87.5h0M307.6 82.3h0M298.6 81.2h0M303.8 98.9h0M298.5 78.5h0M301.7 91.6h0M306.8 78.6h0M304.6 87.0h0M302.1 75.0h0M306.2 88.6h0" stroke="#7a0f1c" stroke-width="1.10" stroke-linecap="round" fill="none"/>
<path d="M302.3 69.6h0M309.1 75.8h0M306.8 70.2h0M304.2 95.2h0M307.5 91.6h0M301.1 93.8h0M300.9 83.8h0M301.1 75.4h0M300.0 72.7h0M302.9 99.8h0M309.3 79.1h0M297.3 73.4h0M303.1 88.6h0M299.3 83.6h0M302.0 86.4h0M300.5 93.9h0M299.6 85.8h0M303.2 87.0h0M303.2 90.0h0M304.3 72.2h0" stroke="#5a0a14" stroke-width="1.10" stroke-linecap="round" fill="none"/>
<path d="M262.8 135.1h0M269.5 133.5h0M275.0 130.8h0M269.0 140.4h0M274.9 143.0h0M268.6 124.3h0M274.9 123.6h0M266.5 134.4h0M275.7 130.3h0M262.4 129.3h0M272.3 132.5h0M280.5 127.9h0M265.6 137.7h0M271.8 131.1h0M278.5 137.4h0M274.8 132.6h0M270.9 139.0h0M273.2 121.6h0M275.6 129.8h0M274.5 140.8h0M271.7 123.3h0M277.8 139.0h0" stroke="#2a5ae6" stroke-width="1.10" stroke-linecap="round" fill="none"/>
<path d="M275.4 130.5h0M273.1 131.3h0M275.1 123.0h0M274.9 132.6h0M274.3 138.0h0M280.3 125.6h0M277.4 142.9h0M276.1 128.8h0M278.8 124.6h0M279.1 133.3h0M262.8 129.0h0M269.3 142.0h0M265.4 136.0h0M275.9 122.7h0M278.1 131.9h0M272.2 123.1h0M270.3 130.0h0M270.4 138.7h0M275.8 137.7h0M267.9 123.1h0M265.2 126.3h0M267.4 134.2h0M278.5 140.0h0M276.2 130.8h0M267.4 125.8h0M272.4 127.4h0M274.9 124.7h0M271.8 140.3h0M267.7 143.2h0" stroke="#1f4ad8" stroke-width="1.10" stroke-linecap="round" fill="none"/>
<path d="M274.6 131.2h0M277.6 141.6h0M269.6 137.3h0M272.0 131.8h0M266.0 141.1h0M262.7 130.6h0M269.3 129.8h0M278.8 133.8h0M270.5 140.4h0M276.7 140.9h0M279.0 122.2h0M277.3 137.6h0M267.5 125.7h0M268.0 129.4h0M276.9 124.2h0M264.4 129.2h0M273.0 122.1h0M265.5 139.1h0M264.7 126.9h0M277.6 122.8h0" stroke="#7aa6f4" stroke-width="1.10" stroke-linecap="round" fill="none"/>
<path d="M268.2 133.2h0M264.6 128.5h0M279.1 130.1h0M271.3 136.2h0M277.8 125.6h0M263.7 135.1h0M263.8 138.6h0M270.2 133.0h0M273.8 129.6h0M276.5 123.3h0M276.7 139.9h0M272.5 124.6h0M275.6 124.2h0M262.5 131.7h0M277.1 142.5h0M273.2 126.8h0M264.2 126.8h0M266.2 133.8h0M280.9 126.4h0M275.7 124.5h0M274.1 121.8h0M266.1 139.1h0M278.2 120.9h0" stroke="#5a8cf2" stroke-width="1.10" stroke-linecap="round" fill="none"/>
<path d="M274.9 140.5h0M268.3 134.3h0M274.7 142.7h0M267.8 128.4h0M267.4 136.2h0M266.8 126.6h0M274.1 132.6h0M267.4 133.2h0M266.6 130.4h0M273.8 125.7h0M265.3 141.4h0M277.6 121.8h0M272.8 143.3h0M263.9 129.6h0M267.7 123.9h0M274.9 126.8h0M275.3 127.0h0M266.2 128.9h0M274.9 138.0h0M270.2 124.2h0M276.3 124.3h0M271.1 127.6h0M276.7 121.9h0M276.3 138.1h0M268.5 136.2h0" stroke="#9abcf6" stroke-width="1.10" stroke-linecap="round" fill="none"/>
<path d="M277.1 125.8h0M268.9 128.5h0M264.7 132.5h0M281.1 126.6h0M265.2 133.1h0M280.4 126.6h0M267.9 129.1h0M265.2 127.7h0M270.6 137.4h0M267.1 136.0h0M274.8 124.5h0M264.6 128.1h0M273.2 129.7h0M278.6 121.0h0M264.2 126.0h0M272.2 125.2h0M276.6 121.3h0M264.6 140.9h0M262.8 138.7h0M273.4 123.8h0M275.4 137.4h0" stroke="#3f6ff0" stroke-width="1.10" stroke-linecap="round" fill="none"/>
<path d="M288.9 119.7h0M283.5 117.4h0M280.2 118.9h0M297.0 119.4h0M287.0 119.1h0M296.4 119.2h0M287.5 115.8h0M289.6 115.1h0M289.7 122.3h0M284.1 122.9h0M281.5 120.1h0" stroke="#5a8cf2" stroke-width="1.00" stroke-linecap="round" fill="none"/>
<path d="M292.5 120.0h0M282.3 115.9h0M294.0 110.4h0M296.7 113.7h0M283.8 122.4h0M288.2 123.4h0M287.9 120.1h0M297.4 121.5h0M282.7 123.3h0M296.5 115.7h0M288.2 119.8h0M296.5 112.1h0M292.4 115.9h0M296.5 114.0h0" stroke="#3f6ff0" stroke-width="1.00" stroke-linecap="round" fill="none"/>
<path d="M292.8 119.8h0M287.8 114.6h0M283.4 120.5h0M290.7 117.1h0M280.6 118.6h0M282.1 121.5h0M284.6 123.5h0M296.1 118.6h0M284.6 120.2h0M291.3 115.1h0M283.7 121.8h0M294.8 115.9h0M292.1 115.6h0M291.7 114.2h0M295.4 111.0h0M294.5 120.5h0M292.6 111.3h0M285.5 122.5h0M285.4 117.2h0M292.0 111.7h0" stroke="#7aa6f4" stroke-width="1.00" stroke-linecap="round" fill="none"/>
<path d="M294.4 130.3h0M295.6 131.0h0M295.2 111.8h0M296.0 126.6h0M297.7 113.3h0M297.6 116.3h0M297.8 134.3h0M296.3 122.7h0M297.3 127.5h0M295.5 139.6h0M294.3 124.3h0M294.6 123.6h0M296.0 120.3h0M294.9 122.1h0M295.3 115.8h0M297.2 115.9h0M295.2 126.8h0M297.9 131.7h0" stroke="#3a5ae0" stroke-width="1.10" stroke-linecap="round" fill="none"/>
<path d="M296.8 114.2h0M295.0 128.9h0M295.5 119.9h0M296.6 116.5h0M296.4 110.9h0M294.3 128.9h0M295.8 125.4h0M296.6 116.8h0M297.1 131.3h0M297.3 125.5h0M296.0 115.9h0M297.2 111.9h0" stroke="#2a4ad8" stroke-width="1.10" stroke-linecap="round" fill="none"/>
<path d="M279.8 152.0h0M278.0 155.1h0M292.9 128.4h0M284.6 138.0h0M286.6 150.4h0M278.3 154.1h0M291.6 124.6h0M288.6 130.5h0M291.5 126.2h0M275.4 153.1h0M285.0 143.6h0M285.4 148.7h0M295.4 136.1h0M279.8 150.2h0M290.5 130.1h0M291.4 134.3h0M292.7 132.4h0M287.1 137.3h0M281.8 146.9h0M289.9 146.1h0M288.7 128.5h0M282.8 156.5h0M291.7 148.8h0M284.6 154.7h0M287.5 126.0h0M289.6 147.7h0M280.9 149.6h0M288.6 148.6h0M273.1 152.1h0M277.3 149.2h0M286.2 150.9h0M288.2 133.5h0M278.1 151.4h0M291.6 126.8h0M283.9 128.5h0M269.1 148.1h0M285.3 126.6h0M273.8 149.4h0M286.2 134.1h0M282.8 155.9h0M276.2 156.5h0M292.1 133.6h0M290.1 132.7h0M273.8 148.9h0M276.8 156.3h0M280.4 136.5h0M267.8 152.3h0M296.5 135.3h0M292.5 143.5h0M287.3 128.7h0M271.5 159.0h0M283.5 153.0h0M293.7 137.4h0M296.5 143.2h0M288.6 133.8h0M296.2 141.7h0M277.0 150.3h0M277.5 156.7h0M291.2 146.3h0M287.5 136.5h0M296.2 144.7h0M269.3 158.5h0M286.3 141.9h0M271.9 152.6h0M268.6 157.5h0M290.0 146.6h0M285.3 149.6h0M273.1 161.5h0" stroke="#86c6f2" stroke-width="1.00" stroke-linecap="round" fill="none"/>
<path d="M291.1 141.4h0M278.6 149.6h0M292.2 142.9h0M283.3 137.0h0M270.4 147.0h0M280.4 139.2h0M294.1 130.2h0M296.1 140.5h0M288.5 133.1h0M273.1 158.0h0M285.9 137.6h0M286.4 146.4h0M276.7 155.9h0M270.7 149.1h0M284.1 131.9h0M291.1 133.0h0M277.4 148.4h0M280.9 157.4h0M267.2 149.2h0M280.8 160.0h0M283.8 157.4h0M280.8 152.3h0M286.7 128.8h0M296.0 138.9h0M275.0 161.2h0M293.8 139.7h0M294.7 145.6h0M271.5 150.4h0M271.4 160.9h0M291.1 132.3h0M290.4 128.1h0M282.9 151.7h0M273.0 154.5h0M291.2 132.2h0M288.0 147.3h0M294.8 131.2h0M289.0 125.3h0M270.5 159.8h0M282.0 143.6h0M290.6 137.7h0M280.1 159.6h0M295.1 128.2h0M274.9 153.4h0M294.9 141.7h0M270.4 156.8h0M289.7 136.6h0M295.1 139.3h0M277.9 156.2h0M276.5 155.4h0M289.4 135.4h0M277.4 160.9h0M272.7 157.9h0M277.9 151.1h0M283.3 142.8h0M270.3 148.0h0M291.6 139.8h0M284.6 151.5h0M287.6 128.7h0M268.0 150.7h0M296.9 139.0h0M293.6 145.7h0M289.2 137.1h0M287.1 152.1h0M285.3 154.1h0M297.0 137.3h0" stroke="#58a8ec" stroke-width="1.00" stroke-linecap="round" fill="none"/>
<path d="M276.1 147.7h0M286.3 131.2h0M284.8 128.1h0M267.8 151.6h0M295.1 146.7h0M291.7 129.5h0M293.2 145.0h0M293.1 140.1h0M286.7 144.3h0M274.0 151.3h0M288.0 131.3h0M288.1 135.1h0M287.9 133.9h0M278.8 150.3h0M272.9 156.8h0M284.6 149.2h0M293.2 128.2h0M296.8 137.4h0M277.9 153.2h0M274.2 159.5h0M280.5 151.9h0M283.0 132.3h0M296.3 132.3h0M272.6 156.0h0M296.7 135.8h0M285.3 133.3h0M280.3 145.2h0M295.2 127.2h0M273.5 149.0h0M279.6 160.8h0M284.3 137.1h0M290.4 135.0h0M282.5 135.7h0M284.6 130.6h0M275.7 149.2h0M294.0 141.3h0M282.7 153.7h0M280.7 147.5h0M273.5 161.4h0M270.1 160.1h0M293.8 144.7h0M293.8 131.5h0M278.6 154.7h0M280.8 158.5h0M293.9 145.7h0M281.3 139.5h0M288.1 128.0h0M288.8 140.0h0M295.7 131.0h0M283.8 154.4h0M295.5 131.3h0M295.8 145.2h0M276.6 151.3h0M289.8 132.4h0M294.9 131.1h0M280.5 148.3h0M290.4 132.8h0M278.9 147.5h0M281.7 137.4h0M294.6 136.9h0M295.2 144.3h0M296.3 144.8h0M295.6 140.2h0M286.0 127.5h0" stroke="#6cb6f0" stroke-width="1.00" stroke-linecap="round" fill="none"/>
<path d="M294.3 142.2h0M273.5 158.8h0M284.6 148.2h0M288.5 140.4h0M288.7 132.5h0M292.3 148.1h0M295.8 131.8h0M285.7 146.5h0M291.9 141.1h0M269.6 148.7h0M268.6 151.9h0M269.3 150.4h0M292.3 135.5h0M296.0 139.2h0M290.0 132.9h0M274.0 161.1h0M286.9 146.7h0M280.0 151.8h0M291.6 149.5h0M271.8 158.8h0M278.0 148.8h0M289.0 128.6h0M288.7 126.8h0M272.8 152.4h0M282.6 132.5h0M271.1 157.2h0M277.5 158.7h0M281.1 143.3h0M296.3 142.5h0M280.3 139.2h0M274.3 160.2h0M281.0 149.8h0M288.4 140.3h0M292.7 148.4h0M273.9 155.5h0M294.0 146.3h0M268.6 147.7h0M271.7 159.7h0M270.6 150.4h0M268.6 149.2h0M279.3 144.1h0M289.1 131.8h0M275.0 148.3h0M272.9 153.5h0M277.4 151.3h0M281.1 151.2h0M295.9 147.5h0M290.4 139.9h0M292.0 136.5h0M290.3 147.0h0M289.7 149.8h0M284.7 140.1h0M289.3 130.5h0M285.1 133.3h0M282.2 141.6h0M271.3 146.9h0M267.9 154.5h0M281.9 130.3h0M281.1 140.4h0M292.2 129.4h0M291.7 128.9h0M274.1 152.0h0M293.4 138.3h0" stroke="#a0d4f4" stroke-width="1.00" stroke-linecap="round" fill="none"/>
<path d="M302.5 122.0h0M305.0 118.5h0M301.7 116.6h0M303.6 118.2h0M305.7 114.7h0M300.0 114.6h0M302.9 130.7h0M300.1 128.8h0M298.1 135.9h0M303.8 114.9h0M304.7 109.9h0M297.1 129.7h0" stroke="#e02a2a" stroke-width="1.00" stroke-linecap="round" fill="none"/>
<path d="M297.4 135.1h0M305.6 116.5h0M300.1 112.4h0M296.5 133.3h0M300.3 119.9h0M306.8 126.3h0M298.9 130.5h0M298.6 123.6h0M303.3 132.8h0M295.7 135.5h0M301.2 109.8h0M299.9 118.3h0M299.7 123.0h0" stroke="#5a6ee8" stroke-width="1.00" stroke-linecap="round" fill="none"/>
<path d="M294.6 134.3h0M294.5 135.3h0M301.4 134.1h0M297.4 122.9h0M297.1 123.4h0M304.2 130.8h0M299.0 115.1h0M303.1 120.2h0M303.9 115.2h0M304.5 135.7h0M306.2 121.1h0M298.1 128.1h0M300.7 132.4h0M301.8 116.8h0M298.7 121.2h0M298.6 121.6h0M294.9 132.6h0M302.2 125.3h0M300.5 114.6h0M298.1 123.5h0M304.4 123.4h0M300.5 128.4h0M307.6 118.9h0" stroke="#f06060" stroke-width="1.00" stroke-linecap="round" fill="none"/>
<path d="M300.3 131.7h0M302.4 124.6h0M302.1 122.7h0M306.1 111.8h0M301.6 117.5h0M300.0 128.4h0M295.2 129.5h0M303.9 133.4h0M300.4 108.9h0M300.1 133.6h0M304.5 133.7h0M297.6 125.1h0M296.3 135.4h0M296.6 127.7h0M302.2 114.4h0M306.5 114.8h0M300.7 135.0h0M299.6 130.5h0M301.4 126.6h0M296.1 128.4h0M306.9 117.4h0M299.1 132.8h0" stroke="#e84040" stroke-width="1.00" stroke-linecap="round" fill="none"/>
<path d="M303.2 130.6h0M295.7 135.0h0M297.6 139.2h0M296.8 140.2h0M295.3 135.2h0M305.1 133.9h0M303.2 137.4h0M299.2 133.4h0M303.8 125.7h0M304.1 133.9h0M301.4 135.3h0M296.7 125.8h0M305.2 127.6h0M300.0 125.2h0M302.9 125.8h0M300.0 127.2h0M300.9 132.3h0M300.9 139.6h0M298.0 136.8h0" stroke="#d01818" stroke-width="1.20" stroke-linecap="round" fill="none"/>
<path d="M304.0 135.8h0M304.7 131.9h0M304.0 136.4h0M300.6 139.5h0M298.4 125.2h0M297.7 140.7h0M303.8 137.2h0M299.7 127.5h0M299.9 133.1h0M303.6 127.6h0M296.2 128.0h0M304.5 131.0h0M301.1 127.4h0M300.0 133.7h0M297.0 138.1h0M298.0 137.1h0M297.1 134.3h0M301.9 136.4h0M297.4 129.4h0M299.8 130.7h0M303.6 137.0h0M303.2 131.4h0M305.2 131.1h0M305.4 133.2h0M295.4 130.6h0M301.8 139.2h0M302.9 127.7h0M301.9 135.8h0M299.6 129.8h0M296.0 136.1h0" stroke="#e02a2a" stroke-width="1.20" stroke-linecap="round" fill="none"/>
<path d="M296.5 138.9h0M295.9 126.9h0M297.3 136.5h0M298.7 133.2h0M297.7 135.4h0M300.0 130.8h0M295.9 138.0h0M297.9 139.5h0M303.9 131.9h0M299.2 133.2h0M295.5 128.5h0M295.8 128.0h0M295.7 136.5h0M298.1 125.3h0M299.6 131.9h0M301.1 128.4h0" stroke="#e84040" stroke-width="1.20" stroke-linecap="round" fill="none"/>
<path d="M297.9 129.0h0M299.6 138.3h0M297.1 125.6h0M301.5 139.5h0M296.2 136.6h0M299.8 138.1h0M305.5 129.1h0M299.1 128.0h0M304.6 130.4h0M296.9 130.3h0M302.9 135.8h0M302.8 130.4h0M301.2 127.9h0M303.7 128.6h0M303.5 136.2h0M296.2 127.3h0M299.6 133.1h0M301.1 133.7h0M302.0 130.7h0M296.3 133.9h0M295.5 132.8h0M299.2 140.0h0M299.2 135.9h0M299.9 126.4h0M301.4 130.1h0" stroke="#f06060" stroke-width="1.20" stroke-linecap="round" fill="none"/>
<polygon points="260.3,128.8 262.7,124.5 269.4,121.6 278.1,118.3 286.7,111.5 292.5,109.1 296.3,109.6 298.8,113.5 299.2,118.3 298.3,125.0 292.5,123.1 283.8,125.0 281.0,131.7 279.5,140.4 278.1,145.2 274.2,146.2 267.5,145.2 262.7,140.4 260.3,134.6" fill="none" stroke="#5b9cf3" stroke-width="0.8" />
<polygon points="283.8,125.0 292.5,123.1 296.0,126.0 298.0,135.0 297.3,147.1 293.5,150.0 288.2,151.9 285.8,155.8 282.9,159.6 278.1,162.5 271.3,162.5 266.5,158.7 265.6,151.9 266.5,147.1 274.2,146.2 278.1,145.2 279.5,140.4 281.0,131.7" fill="none" stroke="#5b9cf3" stroke-width="0.8" />
<polygon points="306.7,66.4 310.9,67.5 311.3,73.8 308.8,90.8 306.1,102.4 304.0,103.5 301.8,101.3 298.2,90.8 295.1,76.0 297.0,69.6 301.8,67.5" fill="none" stroke="#e8414a" stroke-width="0.8" />
<polygon points="299.7,105.6 307.1,107.7 308.8,116.2 307.5,133.0 304.0,141.1 297.6,143.7 293.4,139.4 294.4,128.8 298.2,116.2 299.1,107.7" fill="none" stroke="#e8414a" stroke-width="0.8" />
<ellipse cx="289.6" cy="99.8" rx="4.7" ry="3.8" fill="none" stroke="#e8414a" stroke-width="0.9"/>
<line x1="288.60" y1="101.50" x2="290.60" y2="98.20" stroke="#f08030" stroke-width="0.8" />
<path d="M237.1 102.4h0M237.7 103.7h0M237.4 102.6h0M237.1 102.0h0" stroke="#a8c8b8" stroke-width="1.20" stroke-linecap="round" fill="none"/>
<line x1="282.80" y1="87.60" x2="287.70" y2="96.00" stroke="#222" stroke-width="0.8" />
<line x1="270.90" y1="113.00" x2="278.10" y2="118.30" stroke="#222" stroke-width="0.8" />
<line x1="290.60" y1="150.50" x2="293.90" y2="154.80" stroke="#222" stroke-width="0.8" />
<text x="230.9" y="38.0" font-size="6.89" textLength="8.9" lengthAdjust="spacingAndGlyphs" >NK</text>
<text x="211.9" y="79.2" font-size="6.50" >CD8<tspan font-size="92%" baseline-shift="1.0">+</tspan></text>
<text x="211.9" y="87.4" font-size="6.89" textLength="24.1" lengthAdjust="spacingAndGlyphs" >exh./sen.</text>
<text x="204.6" y="133.0" font-size="6.50" text-anchor="middle" transform="rotate(-90 204.6 133.0)" >CD8<tspan font-size="92%" baseline-shift="1.0">+</tspan></text>
<text x="212.2" y="134.3" font-size="6.89" text-anchor="middle" textLength="13.8" lengthAdjust="spacingAndGlyphs" transform="rotate(-90 212.2 134.3)" >naive</text>
<text x="210.7" y="180.2" font-size="6.50" >CD4<tspan font-size="92%" baseline-shift="1.0">+</tspan> CM</text>
<text x="250.4" y="174.6" font-size="6.50" >CD4<tspan font-size="92%" baseline-shift="1.0">−</tspan>/CD8<tspan font-size="92%" baseline-shift="1.0">−</tspan></text>
<text x="249.2" y="104.6" font-size="6.50" >act. CD4<tspan font-size="92%" baseline-shift="1.0">+</tspan></text>
<text x="260.6" y="114.2" font-size="6.89" textLength="8.6" lengthAdjust="spacingAndGlyphs" >EM</text>
<text x="275.4" y="79.0" font-size="6.50" >CD8<tspan font-size="92%" baseline-shift="1.0">+</tspan></text>
<text x="277.2" y="87.2" font-size="6.89" textLength="8.6" lengthAdjust="spacingAndGlyphs" >EM</text>
<text x="305.0" y="57.8" font-size="6.89" textLength="8.9" lengthAdjust="spacingAndGlyphs" >NK</text>
<text x="313.5" y="73.3" font-size="6.50" >CD8<tspan font-size="92%" baseline-shift="1.0">+</tspan></text>
<text x="313.5" y="81.6" font-size="6.89" textLength="24.1" lengthAdjust="spacingAndGlyphs" >exh./sen.</text>
<text x="316.6" y="118.3" font-size="6.50" >CD8<tspan font-size="92%" baseline-shift="1.0">+</tspan></text>
<text x="316.6" y="126.7" font-size="6.89" textLength="20.8" lengthAdjust="spacingAndGlyphs" >TEMRA</text>
<text x="294.6" y="159.0" font-size="6.50" >CD4<tspan font-size="92%" baseline-shift="1.0">+</tspan> EM</text>
<line x1="364.20" y1="24.80" x2="364.20" y2="185.00" stroke="#000" stroke-width="1.5" />
<line x1="363.40" y1="184.30" x2="513.20" y2="184.30" stroke="#000" stroke-width="1.5" />
<text x="358.8" y="101.2" font-size="9.54" text-anchor="middle" font-weight="bold" textLength="20" lengthAdjust="spacingAndGlyphs" transform="rotate(-90 358.8 101.2)" >UMPA2</text>
<text x="444.0" y="195.2" font-size="9.54" text-anchor="middle" font-weight="bold" textLength="19.4" lengthAdjust="spacingAndGlyphs" >UMAP1</text>
<path d="M385.1 128.2h0M378.5 112.0h0M381.3 124.7h0M383.4 97.4h0M377.9 144.0h0M390.0 164.6h0M380.4 142.5h0M380.6 119.1h0M380.4 98.4h0M382.7 114.3h0M383.6 90.0h0M383.4 101.3h0M383.1 125.8h0M374.6 103.7h0M381.4 138.1h0M377.6 135.1h0M381.8 121.0h0M387.5 134.9h0M383.8 161.5h0M386.1 101.2h0M385.9 144.2h0M377.0 103.9h0M377.4 98.2h0M380.9 91.6h0M382.4 117.3h0M384.9 120.2h0M383.0 95.4h0M382.6 89.0h0M389.9 151.7h0M389.8 138.4h0M378.5 141.0h0M386.3 149.0h0M386.9 154.8h0M387.2 145.2h0M391.6 149.3h0M388.3 153.4h0M389.8 164.1h0M375.9 123.3h0M374.4 117.8h0M376.5 122.5h0M376.8 111.8h0M387.1 161.5h0M374.8 119.6h0M384.9 96.5h0M384.2 122.3h0M379.6 123.8h0M379.9 155.9h0M381.0 110.7h0M375.2 122.4h0M381.4 102.2h0M381.1 127.1h0M388.9 165.1h0M374.6 118.8h0M385.6 142.6h0M381.6 122.1h0M387.2 148.6h0M390.8 140.6h0M377.6 137.8h0M382.7 140.6h0M378.7 159.9h0M386.9 101.0h0M390.1 148.5h0M374.2 111.6h0M379.9 109.2h0M383.5 118.1h0M381.2 138.2h0M380.1 127.4h0M389.4 133.6h0M381.3 139.5h0M378.6 142.8h0M388.2 137.6h0M376.7 98.9h0M387.4 120.5h0M385.2 123.9h0M390.0 149.0h0M377.2 105.6h0M378.0 114.7h0" stroke="#f0f3f1" stroke-width="1.20" stroke-linecap="round" fill="none"/>
<path d="M379.5 116.9h0M382.7 135.2h0M384.4 106.5h0M391.0 156.4h0M379.8 142.9h0M383.0 121.0h0M383.7 166.1h0M384.4 166.7h0M377.2 124.8h0M385.7 94.3h0M381.5 104.2h0M375.8 119.3h0M390.0 124.5h0M379.6 100.0h0M387.9 140.8h0M379.4 122.1h0M376.7 110.5h0M387.1 163.4h0M377.9 109.2h0M379.3 145.9h0M382.2 90.8h0M382.6 94.0h0M381.2 104.9h0M389.0 156.1h0M374.9 117.7h0M379.0 164.7h0M382.5 122.0h0M386.9 125.0h0M381.0 135.3h0M379.7 125.0h0M388.7 119.4h0M385.5 121.9h0M384.0 98.8h0M376.1 108.3h0M384.7 98.5h0M374.9 122.6h0M389.0 164.9h0M378.5 117.0h0M388.9 142.2h0M389.2 124.2h0M378.8 160.1h0M382.9 152.4h0M375.5 102.0h0M386.4 118.8h0M383.3 122.9h0M376.4 103.8h0M375.4 123.8h0M378.8 137.4h0M374.7 96.6h0M380.5 105.8h0M386.3 138.9h0M382.7 102.5h0M376.0 120.2h0M388.8 110.3h0M384.2 136.6h0M383.2 127.3h0M381.1 88.6h0M386.3 142.3h0M383.8 138.3h0M377.1 127.4h0M380.8 93.2h0M376.9 94.5h0M387.2 116.3h0M375.7 113.3h0M381.1 97.1h0M374.5 113.3h0M388.4 148.8h0M384.8 112.8h0M377.0 138.3h0M379.8 143.4h0M385.3 127.3h0M387.8 143.3h0M389.1 110.1h0M382.3 101.9h0M380.9 110.1h0M385.9 161.6h0M379.5 140.3h0M391.5 146.0h0" stroke="#eaeeec" stroke-width="1.20" stroke-linecap="round" fill="none"/>
<path d="M379.0 154.4h0M388.2 97.9h0M378.7 151.9h0M378.4 140.3h0M376.3 116.1h0M387.8 159.3h0M381.7 113.9h0M389.4 129.5h0M390.5 163.9h0M384.9 134.5h0M389.8 126.3h0M382.5 128.1h0M373.7 107.6h0M381.2 129.4h0M381.5 124.8h0M385.7 102.2h0M388.9 152.9h0M389.8 147.2h0M379.4 138.1h0M389.3 126.7h0M387.6 155.6h0M378.8 136.1h0M382.0 159.7h0M384.5 91.3h0M378.8 106.0h0M386.9 111.6h0M383.0 151.5h0M374.0 96.9h0M387.2 113.4h0M390.7 130.9h0M387.3 126.5h0M381.5 152.3h0M384.5 101.9h0M384.7 117.1h0M385.9 152.3h0M390.3 119.5h0M380.5 103.3h0M389.6 151.4h0M379.5 138.9h0M383.6 145.6h0M375.4 113.3h0M389.6 149.8h0M384.8 101.0h0M377.8 127.5h0M388.2 109.2h0M389.6 157.8h0M376.9 117.1h0M380.4 105.3h0M378.9 96.3h0M379.3 118.2h0M378.7 93.4h0M375.9 129.7h0M389.4 119.6h0M386.8 117.1h0M381.9 99.9h0M387.5 163.6h0M383.9 104.9h0M383.7 125.7h0M387.3 134.7h0M386.2 138.1h0M384.4 104.0h0M380.6 88.8h0M380.1 134.7h0M387.8 151.6h0M386.9 139.4h0" stroke="#e4e9e6" stroke-width="1.20" stroke-linecap="round" fill="none"/>
<path d="M396.3 41.5h0M398.0 45.1h0M393.1 45.5h0M393.7 42.7h0M392.4 42.6h0M397.0 40.5h0M393.9 44.2h0M394.1 42.4h0" stroke="#eaeeec" stroke-width="1.20" stroke-linecap="round" fill="none"/>
<path d="M396.1 41.1h0M397.3 47.0h0M395.7 43.8h0M396.2 47.6h0M394.6 40.9h0M396.0 41.4h0M396.5 41.2h0" stroke="#e4e9e6" stroke-width="1.20" stroke-linecap="round" fill="none"/>
<path d="M392.7 41.9h0M395.8 47.0h0M393.7 43.3h0M395.5 40.9h0M398.0 42.7h0M396.6 41.2h0M397.5 40.4h0M396.6 43.4h0M396.1 41.2h0M396.9 43.5h0" stroke="#f0f3f1" stroke-width="1.20" stroke-linecap="round" fill="none"/>
<path d="M468.5 98.6h0M435.5 152.3h0M463.7 110.3h0M444.4 146.0h0M461.7 86.0h0M426.5 132.2h0M450.0 123.1h0M463.8 74.2h0M442.3 135.9h0M451.8 128.6h0M438.0 140.1h0M441.0 136.8h0M428.4 132.9h0M432.3 152.4h0M443.4 153.5h0M458.4 82.7h0M437.0 150.3h0M432.3 149.9h0M452.7 141.1h0M441.4 146.4h0M462.5 78.4h0M446.7 150.1h0M454.1 122.0h0M459.0 114.3h0M430.5 137.0h0M425.1 143.0h0M456.0 121.3h0M428.5 154.6h0M458.1 136.3h0M467.0 89.7h0M452.5 114.3h0M461.9 111.2h0M435.1 137.6h0M468.9 93.6h0M448.8 136.7h0M462.4 88.8h0M462.6 55.7h0M431.3 141.5h0M456.9 102.8h0M450.3 134.4h0M460.1 109.0h0M448.4 120.6h0M447.0 140.6h0M446.4 144.7h0M450.7 137.0h0M457.8 110.9h0M453.4 142.8h0M461.7 104.8h0M467.4 101.6h0M431.5 144.7h0M458.7 65.0h0M441.0 152.2h0M441.2 130.7h0M445.6 131.2h0M437.9 155.7h0M444.1 131.5h0M462.5 78.8h0M450.0 148.5h0M467.6 103.3h0M427.6 146.1h0M466.0 67.3h0M453.3 149.8h0M435.3 156.2h0M459.5 104.7h0M428.5 127.2h0M468.0 79.6h0M430.2 134.7h0M466.2 63.9h0M466.0 63.7h0M464.6 85.5h0M468.8 82.2h0M443.7 138.1h0M454.2 124.9h0M437.6 139.3h0M459.1 114.0h0M460.9 60.4h0M460.2 92.3h0M457.5 115.0h0M457.1 106.5h0M466.7 68.2h0M463.3 60.4h0M468.8 98.3h0M446.7 145.0h0M459.2 111.1h0M431.2 134.8h0M438.7 157.0h0M455.8 111.9h0M441.9 141.5h0M466.8 84.6h0M457.7 65.6h0M459.9 100.5h0M458.7 126.8h0M443.1 141.0h0M440.0 136.6h0M461.0 100.8h0M449.3 147.6h0M461.1 81.7h0M453.2 149.8h0M449.8 138.6h0M468.5 82.0h0M457.6 141.9h0M461.0 80.8h0M468.2 88.0h0M467.8 106.0h0M447.9 150.3h0M461.2 112.7h0M458.7 128.7h0M466.6 115.8h0M457.4 91.4h0M453.3 110.6h0M466.5 68.4h0M456.2 145.5h0M464.9 116.5h0M461.3 127.8h0M454.0 139.9h0M459.4 84.7h0M462.2 108.9h0M446.7 128.9h0M459.4 77.9h0M427.4 143.2h0M437.2 147.3h0M441.3 126.3h0M464.5 67.6h0M458.2 102.1h0M433.6 138.8h0M460.7 76.6h0M465.4 101.5h0M430.1 151.9h0M436.2 135.6h0M459.4 116.9h0M468.4 85.3h0" stroke="#e4e9e6" stroke-width="1.20" stroke-linecap="round" fill="none"/>
<path d="M433.9 130.1h0M459.2 67.7h0M434.0 147.8h0M462.9 130.4h0M464.1 56.0h0M430.8 156.9h0M426.2 140.8h0M466.2 89.0h0M462.0 67.5h0M461.7 107.8h0M459.4 81.8h0M455.0 132.5h0M432.6 155.0h0M461.9 136.7h0M461.1 101.7h0M463.0 86.1h0M460.0 112.1h0M456.6 132.4h0M459.8 62.9h0M430.2 153.8h0M462.5 56.7h0M445.0 132.4h0M449.5 119.9h0M463.9 113.6h0M439.1 144.7h0M445.0 122.5h0M427.2 145.1h0M452.9 126.8h0M434.4 129.9h0M441.9 130.4h0M467.6 87.9h0M466.1 94.7h0M464.7 88.7h0M456.7 94.2h0M458.8 90.4h0M463.0 101.2h0M456.9 138.9h0M461.7 103.8h0M459.9 80.3h0M461.7 62.9h0M463.4 60.0h0M451.3 125.3h0M456.9 129.0h0M462.9 87.6h0M444.8 151.9h0M463.2 62.8h0M446.8 151.6h0M451.6 148.2h0M451.4 139.6h0M458.8 90.1h0M466.9 75.2h0M462.9 60.1h0M458.3 91.4h0M437.2 147.6h0M428.2 146.8h0M455.6 117.8h0M469.1 75.6h0M444.7 152.3h0M434.6 151.9h0M448.3 119.2h0M454.5 122.3h0M454.2 141.4h0M450.4 142.8h0M437.7 147.1h0M443.4 155.2h0M427.3 136.6h0M462.4 85.4h0M458.2 111.5h0M447.3 126.5h0M459.2 64.6h0M462.2 127.3h0M442.3 129.9h0M463.0 83.8h0M453.6 118.7h0M464.2 65.9h0M467.9 96.3h0M458.1 65.0h0M454.0 135.1h0M458.3 141.8h0M458.1 84.3h0M446.9 144.9h0M446.3 127.6h0M468.2 97.3h0M429.5 152.3h0M457.6 69.0h0M459.1 104.2h0M426.7 145.9h0M462.4 102.8h0M455.4 126.7h0M433.8 157.6h0M463.8 92.8h0M445.5 145.6h0M458.2 75.0h0M449.2 140.0h0M449.4 122.7h0M440.0 140.9h0M432.3 152.5h0M466.3 76.6h0M445.3 127.6h0M458.3 133.4h0M458.0 143.1h0M445.9 152.0h0M427.0 146.8h0M468.5 101.9h0M463.4 74.2h0M459.3 140.9h0M441.8 128.5h0M464.3 58.7h0M454.7 110.7h0M430.2 144.0h0M442.8 136.9h0M433.8 153.4h0M452.6 115.3h0M469.0 79.3h0M469.0 79.4h0M442.4 146.1h0M466.8 63.6h0M440.4 151.2h0M432.7 158.8h0M449.7 141.7h0M432.3 135.6h0M459.2 107.7h0M465.2 56.2h0M457.5 129.9h0M440.2 157.5h0M445.4 119.0h0M445.6 134.0h0M428.0 130.1h0M453.5 136.6h0M428.2 150.1h0M436.2 132.7h0M439.8 131.9h0M430.0 139.2h0M437.0 148.4h0M463.1 110.3h0M461.0 102.1h0M448.3 127.9h0M429.1 143.1h0M455.9 103.7h0M440.7 133.9h0M465.4 68.7h0M433.6 129.2h0M452.4 121.7h0M460.9 127.8h0M457.6 70.7h0M425.4 144.1h0M432.4 142.8h0M451.5 139.2h0M438.6 148.8h0M465.3 116.1h0M465.7 120.7h0M458.7 111.2h0" stroke="#eaeeec" stroke-width="1.20" stroke-linecap="round" fill="none"/>
<path d="M447.8 155.5h0M462.8 101.0h0M436.3 149.8h0M452.0 115.7h0M433.5 157.0h0M455.1 127.2h0M450.1 144.9h0M450.6 148.0h0M465.0 122.1h0M448.3 117.6h0M456.7 109.7h0M435.5 125.4h0M467.9 100.4h0M430.9 143.5h0M461.2 54.5h0M454.0 128.7h0M462.1 95.8h0M456.8 110.9h0M444.9 144.0h0M452.1 117.2h0M457.0 139.7h0M463.5 102.5h0M469.2 86.9h0M450.5 149.6h0M462.9 85.1h0M432.9 125.6h0M448.6 125.3h0M430.3 144.8h0M432.6 157.3h0M467.2 67.3h0M453.2 119.4h0M463.8 103.2h0M446.1 141.9h0M464.4 109.8h0M455.7 108.5h0M432.0 158.8h0M442.0 144.3h0M439.9 123.9h0M429.8 147.0h0M468.3 103.0h0M463.4 76.9h0M449.4 122.2h0M461.5 126.0h0M463.4 68.2h0M461.2 109.7h0M469.0 83.2h0M430.5 135.9h0M446.7 154.0h0M426.9 151.6h0M431.5 125.6h0M465.8 99.2h0M456.7 144.7h0M464.6 100.1h0M459.8 87.7h0M461.7 69.7h0M455.7 129.6h0M441.0 143.5h0M463.2 80.3h0M433.6 136.6h0M431.2 135.9h0M434.0 145.4h0M461.7 67.1h0M457.7 93.8h0M426.4 142.3h0M430.9 145.3h0M425.3 145.0h0M441.7 139.4h0M445.2 136.5h0M463.5 85.8h0M459.7 74.2h0M444.3 152.8h0M428.8 136.6h0M440.6 157.8h0M438.8 149.2h0M449.9 150.5h0M429.3 139.9h0M429.9 153.5h0M454.9 142.3h0M463.8 129.6h0M460.2 112.5h0M449.7 145.1h0M457.5 114.7h0M432.1 158.2h0M433.7 147.2h0M449.3 143.7h0M445.3 128.8h0M439.0 138.2h0M447.6 127.9h0M465.2 105.6h0M434.8 142.4h0M465.6 86.7h0M425.0 144.6h0M454.7 105.8h0M427.4 141.5h0M454.3 134.0h0M434.2 155.5h0M460.5 115.6h0M443.9 142.1h0M441.2 134.0h0M432.5 128.7h0M459.5 76.5h0M438.9 123.7h0M427.9 132.1h0M460.8 55.2h0M429.1 135.9h0M429.7 129.7h0M467.1 92.0h0M430.9 139.6h0M449.7 135.2h0M463.4 77.9h0M459.4 65.1h0M464.5 114.1h0M468.0 88.2h0M447.0 142.6h0M434.0 157.7h0M451.6 142.2h0M450.0 134.1h0M461.9 107.4h0M460.5 132.8h0M442.4 155.4h0M441.8 158.0h0M458.1 111.9h0M442.0 123.7h0M461.7 69.8h0M443.7 132.1h0M433.9 154.8h0M436.7 141.3h0M427.7 144.9h0M453.1 131.3h0M463.2 58.0h0M459.6 116.1h0M448.8 151.4h0M460.7 113.3h0M443.2 156.9h0M462.8 57.2h0M437.0 129.9h0M427.8 139.9h0" stroke="#f0f3f1" stroke-width="1.20" stroke-linecap="round" fill="none"/>
<path d="M495.6 22.6h0M497.7 26.6h0" stroke="#eaeeec" stroke-width="1.20" stroke-linecap="round" fill="none"/>
<path d="M496.9 24.7h0M496.6 22.5h0M494.7 23.2h0M498.2 26.2h0M494.3 22.9h0M497.8 23.6h0M498.4 21.7h0M495.8 26.0h0" stroke="#f0f3f1" stroke-width="1.20" stroke-linecap="round" fill="none"/>
<path d="M496.4 25.1h0M496.0 23.0h0M499.2 25.2h0M498.2 23.6h0" stroke="#e4e9e6" stroke-width="1.20" stroke-linecap="round" fill="none"/>
<path d="M402.5 102.7h0M401.7 102.2h0M403.4 101.6h0" stroke="#f0f3f1" stroke-width="1.20" stroke-linecap="round" fill="none"/>
<path d="M402.1 99.1h0M401.9 101.9h0M400.9 101.4h0M401.4 101.8h0" stroke="#e4e9e6" stroke-width="1.20" stroke-linecap="round" fill="none"/>
<path d="M402.9 101.3h0" stroke="#eaeeec" stroke-width="1.20" stroke-linecap="round" fill="none"/>
<path d="M382.6 98.4h0M383.4 94.3h0M380.1 103.6h0M387.4 105.8h0M381.6 94.1h0M379.8 100.1h0M383.1 108.6h0M379.2 106.2h0M376.9 92.2h0M382.9 115.4h0M385.5 106.2h0M377.0 107.4h0M386.7 98.2h0M387.9 113.7h0M377.9 106.8h0M381.7 105.1h0" stroke="#ea7890" stroke-width="1.20" stroke-linecap="round" fill="none"/>
<path d="M380.2 107.3h0M383.8 103.4h0M377.4 98.9h0M381.0 103.1h0M378.7 92.9h0M377.6 111.8h0M385.5 112.6h0M386.4 94.2h0M374.6 102.3h0M380.8 98.5h0M388.3 102.9h0M383.4 95.7h0M383.9 95.3h0M382.7 94.2h0M380.9 103.1h0M377.8 109.4h0M377.3 108.0h0M382.5 103.5h0M385.3 97.6h0M377.1 92.9h0M379.1 113.4h0M378.4 94.2h0M375.6 100.9h0M382.6 99.3h0M384.0 103.2h0" stroke="#f0a0b4" stroke-width="1.20" stroke-linecap="round" fill="none"/>
<path d="M374.3 103.3h0M378.7 100.6h0M383.9 102.8h0M380.3 99.9h0M385.2 115.3h0M377.2 109.3h0M383.5 102.7h0M387.4 96.0h0M386.7 99.2h0M386.1 94.3h0M382.3 115.0h0M387.5 105.8h0M386.7 103.7h0M388.5 111.3h0M383.2 99.5h0M376.8 112.3h0M380.8 103.4h0M379.0 103.6h0M379.4 113.5h0M384.4 96.0h0" stroke="#c82848" stroke-width="1.20" stroke-linecap="round" fill="none"/>
<path d="M376.6 105.9h0M376.3 96.3h0M387.8 110.0h0M379.1 97.9h0M378.7 105.9h0M380.3 111.4h0M375.5 97.1h0M378.6 109.1h0M386.8 94.2h0M383.1 108.3h0M384.9 112.3h0M379.8 100.9h0M374.7 102.1h0M387.8 106.4h0M387.9 96.4h0M386.2 107.6h0M377.6 110.7h0M384.6 103.2h0M385.7 107.7h0M377.1 105.8h0M380.6 110.7h0M384.8 101.4h0M381.7 95.8h0M385.0 102.2h0M379.1 111.3h0M385.4 115.2h0M388.3 105.2h0M375.8 106.1h0M384.3 96.5h0M384.1 112.8h0" stroke="#e0506e" stroke-width="1.20" stroke-linecap="round" fill="none"/>
<path d="M375.8 102.5h0M381.4 109.1h0M379.5 98.4h0M388.3 105.4h0M386.1 97.7h0M386.7 95.8h0M386.6 111.7h0M377.1 112.6h0M377.7 98.4h0M380.2 102.1h0M386.9 97.8h0M382.4 101.3h0M377.8 101.0h0M386.6 112.8h0M382.6 97.9h0M379.1 99.1h0M388.6 109.6h0M385.5 109.7h0M386.5 104.2h0" stroke="#d83c60" stroke-width="1.20" stroke-linecap="round" fill="none"/>
<path d="M380.3 138.4h0M381.1 141.8h0M383.5 136.3h0M384.9 126.1h0M384.1 120.0h0M381.1 134.0h0M380.2 134.5h0M386.1 140.4h0M383.0 119.8h0M387.3 125.8h0M385.5 134.2h0M385.2 148.4h0M382.8 140.8h0M386.4 137.1h0M382.7 146.3h0" stroke="#ea7890" stroke-width="1.10" stroke-linecap="round" fill="none"/>
<path d="M380.5 118.9h0M381.5 125.6h0M387.2 126.7h0M386.5 145.3h0M384.8 129.9h0M383.6 129.9h0M384.0 134.5h0M381.7 117.3h0" stroke="#d83c60" stroke-width="1.10" stroke-linecap="round" fill="none"/>
<path d="M383.7 141.3h0M387.3 129.5h0M381.8 136.5h0M385.2 148.2h0M382.4 144.3h0M384.2 141.9h0M382.0 141.6h0M382.7 138.2h0M383.7 129.3h0M382.3 145.3h0M388.2 137.1h0" stroke="#e0506e" stroke-width="1.10" stroke-linecap="round" fill="none"/>
<path d="M385.6 120.5h0M378.6 128.4h0M386.5 120.0h0M382.9 146.9h0M382.4 126.4h0M381.3 117.3h0M384.5 131.5h0M387.5 132.3h0M388.0 126.1h0M379.6 133.9h0M382.4 145.5h0M384.5 133.9h0M386.6 140.2h0" stroke="#f0a0b4" stroke-width="1.10" stroke-linecap="round" fill="none"/>
<path d="M382.2 123.2h0M388.2 134.9h0M385.7 143.4h0M385.3 140.5h0M379.4 118.6h0M385.5 143.5h0M382.4 132.8h0M382.4 127.0h0" stroke="#c82848" stroke-width="1.10" stroke-linecap="round" fill="none"/>
<path d="M387.3 161.0h0M385.2 161.7h0M385.4 166.4h0M385.3 159.0h0M385.0 160.4h0M379.9 152.9h0M382.1 152.9h0" stroke="#e0506e" stroke-width="1.00" stroke-linecap="round" fill="none"/>
<path d="M383.6 149.2h0M379.2 149.4h0M388.3 148.8h0" stroke="#ea7890" stroke-width="1.00" stroke-linecap="round" fill="none"/>
<path d="M387.4 160.7h0M386.6 162.9h0M385.5 162.9h0M383.4 162.8h0" stroke="#f0a0b4" stroke-width="1.00" stroke-linecap="round" fill="none"/>
<path d="M388.7 162.4h0M383.1 155.6h0M383.6 164.9h0M381.4 156.9h0M380.6 149.6h0M384.8 163.8h0" stroke="#c82848" stroke-width="1.00" stroke-linecap="round" fill="none"/>
<path d="M385.6 153.9h0M386.4 164.3h0" stroke="#d83c60" stroke-width="1.00" stroke-linecap="round" fill="none"/>
<path d="M380.4 94.9h0M381.1 91.3h0M382.9 91.3h0M384.5 94.6h0M382.3 91.0h0M383.2 92.6h0M381.3 94.2h0M384.6 90.3h0M384.2 92.8h0" stroke="#a01028" stroke-width="1.40" stroke-linecap="round" fill="none"/>
<path d="M384.9 90.9h0M382.9 91.1h0M383.6 94.6h0M380.9 91.1h0M380.2 90.7h0" stroke="#b81838" stroke-width="1.40" stroke-linecap="round" fill="none"/>
<path d="M401.9 101.0h0M402.9 100.8h0" stroke="#c02040" stroke-width="1.20" stroke-linecap="round" fill="none"/>
<path d="M402.9 102.1h0M403.7 100.2h0M401.7 102.6h0M403.7 101.6h0M403.3 100.0h0M402.7 101.0h0" stroke="#e05070" stroke-width="1.20" stroke-linecap="round" fill="none"/>
<path d="M412.9 127.9h0M415.7 128.6h0M413.8 129.6h0" stroke="#f0a0b4" stroke-width="1.10" stroke-linecap="round" fill="none"/>
<path d="M418.0 127.6h0" stroke="#e0506e" stroke-width="1.10" stroke-linecap="round" fill="none"/>
<path d="M413.4 128.3h0" stroke="#ea7890" stroke-width="1.10" stroke-linecap="round" fill="none"/>
<path d="M462.8 83.6h0M460.1 86.0h0M469.7 75.9h0M464.9 85.2h0M458.8 80.4h0M462.7 85.5h0M461.1 83.5h0" stroke="#f0a0b4" stroke-width="1.20" stroke-linecap="round" fill="none"/>
<path d="M458.6 89.7h0M463.6 79.2h0M468.8 75.8h0M461.1 80.4h0M458.5 85.7h0" stroke="#c82848" stroke-width="1.20" stroke-linecap="round" fill="none"/>
<path d="M459.8 84.4h0M465.5 75.5h0M460.7 79.1h0M463.3 90.0h0M467.3 82.6h0M466.2 76.0h0" stroke="#ea7890" stroke-width="1.20" stroke-linecap="round" fill="none"/>
<path d="M461.3 80.9h0M462.4 82.8h0M467.8 81.8h0M463.0 89.4h0M462.7 80.2h0" stroke="#d83c60" stroke-width="1.20" stroke-linecap="round" fill="none"/>
<path d="M462.1 83.9h0" stroke="#e0506e" stroke-width="1.20" stroke-linecap="round" fill="none"/>
<path d="M470.3 83.3h0M469.5 81.6h0M470.3 83.6h0M469.6 82.2h0M470.1 83.1h0M468.3 85.0h0" stroke="#a01028" stroke-width="1.40" stroke-linecap="round" fill="none"/>
<path d="M463.7 105.0h0M465.4 92.6h0M460.2 99.5h0M455.2 117.1h0M457.9 111.4h0" stroke="#f0a0b4" stroke-width="1.10" stroke-linecap="round" fill="none"/>
<path d="M461.5 93.4h0M462.9 118.9h0M460.3 95.4h0M461.1 105.2h0M456.2 100.9h0M457.8 92.9h0M465.5 100.3h0" stroke="#e0506e" stroke-width="1.10" stroke-linecap="round" fill="none"/>
<path d="M462.7 106.0h0M462.9 102.6h0M455.6 101.7h0M461.2 109.2h0M456.3 100.7h0M465.4 92.7h0" stroke="#c82848" stroke-width="1.10" stroke-linecap="round" fill="none"/>
<path d="M455.4 95.1h0M455.0 118.9h0" stroke="#ea7890" stroke-width="1.10" stroke-linecap="round" fill="none"/>
<path d="M463.3 121.5h0M464.7 116.4h0" stroke="#d83c60" stroke-width="1.10" stroke-linecap="round" fill="none"/>
<path d="M450.7 132.0h0M441.1 127.5h0M443.0 122.8h0M445.8 126.9h0M459.8 121.8h0" stroke="#e0506e" stroke-width="1.10" stroke-linecap="round" fill="none"/>
<path d="M461.7 132.0h0M454.1 124.3h0M445.7 123.2h0" stroke="#d83c60" stroke-width="1.10" stroke-linecap="round" fill="none"/>
<path d="M461.3 131.1h0M442.4 125.9h0M445.0 122.9h0" stroke="#ea7890" stroke-width="1.10" stroke-linecap="round" fill="none"/>
<path d="M443.9 142.1h0M440.9 128.6h0M461.5 140.7h0M449.4 138.7h0" stroke="#f0a0b4" stroke-width="1.10" stroke-linecap="round" fill="none"/>
<path d="M444.7 142.9h0M456.4 133.1h0M461.3 139.0h0M460.3 131.4h0M458.2 138.1h0" stroke="#c82848" stroke-width="1.10" stroke-linecap="round" fill="none"/>
<path d="M498.3 23.5h0" stroke="#f0a0b4" stroke-width="1.00" stroke-linecap="round" fill="none"/>
<path d="M497.3 24.9h0M495.7 24.3h0" stroke="#c82848" stroke-width="1.00" stroke-linecap="round" fill="none"/>
<path d="M497.9 22.6h0M495.9 27.5h0" stroke="#ea7890" stroke-width="1.00" stroke-linecap="round" fill="none"/>
<path d="M496.5 25.6h0" stroke="#d83c60" stroke-width="1.00" stroke-linecap="round" fill="none"/>
<circle cx="396.5" cy="49.5" r="0.7" fill="#c02040"/>
<text x="450.8" y="168.6" font-size="7.10" textLength="63.4" lengthAdjust="spacingAndGlyphs" >Counts per clonotype</text>
<defs><linearGradient id="gD" x1="0" x2="1"><stop offset="0" stop-color="#ffffff"/><stop offset="0.5" stop-color="#e87a98"/><stop offset="1" stop-color="#9c0018"/></linearGradient></defs>
<rect x="456.4" y="173.8" width="47.2" height="4.8" fill="url(#gD)" stroke="#000" stroke-width="0.8"/>
<text x="451.3" y="178.6" font-size="6.20" >0</text>
<text x="506.3" y="178.6" font-size="6.57" textLength="6.2" lengthAdjust="spacingAndGlyphs" >55</text>
<rect x="227.70" y="237.10" width="4.10" height="4.60" fill="#dcebf7" />
<text x="235.3" y="242.2" font-size="8.37" textLength="38.7" lengthAdjust="spacingAndGlyphs" >CD4<tspan font-size="92%" baseline-shift="1.0">+</tspan> CM</text>
<rect x="227.70" y="249.10" width="4.10" height="4.60" fill="#9edde6" />
<text x="235.3" y="254.2" font-size="8.37" textLength="37.1" lengthAdjust="spacingAndGlyphs" >CD4<tspan font-size="92%" baseline-shift="1.0">+</tspan> EM</text>
<rect x="227.70" y="259.30" width="4.10" height="4.60" fill="#2e86e8" />
<text x="235.3" y="264.4" font-size="8.37" textLength="73.2" lengthAdjust="spacingAndGlyphs" >activated CD4<tspan font-size="92%" baseline-shift="1.0">+</tspan> EM</text>
<rect x="227.70" y="273.30" width="4.10" height="4.60" fill="#f8b07c" />
<text x="235.3" y="278.4" font-size="8.37" textLength="44" lengthAdjust="spacingAndGlyphs" >CD8<tspan font-size="92%" baseline-shift="1.0">+</tspan> naive</text>
<rect x="227.70" y="283.40" width="4.10" height="4.60" fill="#f47a3c" />
<text x="235.3" y="288.5" font-size="8.37" textLength="37.1" lengthAdjust="spacingAndGlyphs" >CD8<tspan font-size="92%" baseline-shift="1.0">+</tspan> EM</text>
<rect x="227.70" y="293.60" width="4.10" height="4.60" fill="#e8401c" />
<text x="235.3" y="298.7" font-size="8.37" textLength="53.8" lengthAdjust="spacingAndGlyphs" >CD8<tspan font-size="92%" baseline-shift="1.0">+</tspan> TEMRA</text>
<rect x="227.70" y="303.50" width="4.10" height="4.60" fill="#8a0c0c" />
<text x="235.3" y="308.6" font-size="8.37" textLength="104.1" lengthAdjust="spacingAndGlyphs" >CD8<tspan font-size="92%" baseline-shift="1.0">+</tspan> exhausted/senescent</text>
<rect x="227.70" y="313.30" width="4.10" height="4.60" fill="#142820" />
<text x="235.3" y="318.4" font-size="8.37" textLength="11.3" lengthAdjust="spacingAndGlyphs" >NK</text>
<rect x="214.00" y="346.80" width="16.80" height="7.00" fill="#e6f2fa" />
<rect x="230.80" y="346.80" width="24.60" height="7.00" fill="#a8e0ea" />
<rect x="255.40" y="346.80" width="16.60" height="7.00" fill="#3a8ae8" />
<rect x="272.00" y="346.80" width="9.20" height="7.00" fill="#f6ac72" />
<rect x="281.20" y="346.80" width="10.30" height="7.00" fill="#e83e12" />
<rect x="291.50" y="346.80" width="26.20" height="7.00" fill="#900808" />
<rect x="317.70" y="346.80" width="10.30" height="7.00" fill="#142a22" />
<rect x="214.0" y="346.8" width="114.0" height="7.0" fill="none" stroke="#111" stroke-width="1"/>
<path d="M214.5 356.2h1.8v6.8h-1.8zM219.9 356.2h1.8v6.8h-1.8zM219.9 362.6h1.8v6.8h-1.8zM275.1 369.1h1.8v6.8h-1.8zM304.8 369.1h1.8v6.8h-1.8zM306.1 375.5h1.8v6.8h-1.8zM229.3 382.0h1.8v6.8h-1.8zM215.8 394.9h1.8v6.8h-1.8zM267.1 394.9h1.8v6.8h-1.8zM280.5 407.8h1.8v6.8h-1.8zM285.9 407.8h1.8v6.8h-1.8zM291.3 427.1h1.8v6.8h-1.8zM315.6 427.1h1.8v6.8h-1.8z" fill="#fcc48c"/>
<path d="M215.8 356.2h1.8v6.8h-1.8zM277.8 356.2h1.8v6.8h-1.8zM290.0 356.2h1.8v6.8h-1.8zM295.4 356.2h1.8v6.8h-1.8zM300.7 356.2h1.8v6.8h-1.8zM310.2 356.2h1.8v6.8h-1.8zM315.6 356.2h1.8v6.8h-1.8zM277.8 362.6h1.8v6.8h-1.8zM283.2 362.6h1.8v6.8h-1.8zM285.9 362.6h1.8v6.8h-1.8zM323.7 362.6h1.8v6.8h-1.8zM259.0 369.1h1.8v6.8h-1.8zM271.1 369.1h1.8v6.8h-1.8zM232.0 375.5h1.8v6.8h-1.8zM269.8 375.5h1.8v6.8h-1.8zM280.5 382.0h1.8v6.8h-1.8zM283.2 382.0h1.8v6.8h-1.8zM288.6 382.0h1.8v6.8h-1.8zM310.2 382.0h1.8v6.8h-1.8zM238.8 388.4h1.8v6.8h-1.8zM242.8 388.4h1.8v6.8h-1.8zM254.9 388.4h1.8v6.8h-1.8zM299.4 388.4h1.8v6.8h-1.8zM321.0 388.4h1.8v6.8h-1.8zM326.4 388.4h1.8v6.8h-1.8zM308.8 394.9h1.8v6.8h-1.8zM311.5 394.9h1.8v6.8h-1.8zM306.1 407.8h1.8v6.8h-1.8zM221.2 414.2h1.8v6.8h-1.8zM234.7 414.2h1.8v6.8h-1.8zM261.7 414.2h1.8v6.8h-1.8zM267.1 414.2h1.8v6.8h-1.8zM269.8 414.2h3.1v6.8h-3.1zM275.1 414.2h1.8v6.8h-1.8zM303.4 414.2h1.8v6.8h-1.8zM319.6 414.2h1.8v6.8h-1.8zM322.3 414.2h1.8v6.8h-1.8zM326.4 414.2h1.8v6.8h-1.8zM219.9 420.7h1.8v6.8h-1.8zM230.7 420.7h3.1v6.8h-3.1zM237.4 420.7h1.8v6.8h-1.8zM253.6 420.7h1.8v6.8h-1.8zM260.3 420.7h1.8v6.8h-1.8zM267.1 420.7h1.8v6.8h-1.8zM272.4 420.7h1.8v6.8h-1.8zM288.6 420.7h1.8v6.8h-1.8zM232.0 427.1h3.1v6.8h-3.1zM240.1 427.1h1.8v6.8h-1.8zM245.5 427.1h1.8v6.8h-1.8zM250.9 427.1h1.8v6.8h-1.8zM254.9 427.1h1.8v6.8h-1.8zM259.0 427.1h1.8v6.8h-1.8zM264.4 427.1h1.8v6.8h-1.8zM285.9 427.1h1.8v6.8h-1.8zM322.3 427.1h1.8v6.8h-1.8zM287.3 433.6h1.8v6.4h-1.8zM290.0 433.6h1.8v6.4h-1.8zM311.5 433.6h1.8v6.4h-1.8z" fill="#e0eed2"/>
<path d="M217.2 356.2h1.8v6.8h-1.8zM257.6 356.2h1.8v6.8h-1.8zM268.4 356.2h1.8v6.8h-1.8zM214.5 362.6h1.8v6.8h-1.8zM307.5 369.1h1.8v6.8h-1.8zM311.5 375.5h1.8v6.8h-1.8zM314.2 375.5h1.8v6.8h-1.8zM217.2 394.9h1.8v6.8h-1.8zM226.6 394.9h1.8v6.8h-1.8zM229.3 394.9h1.8v6.8h-1.8zM242.8 394.9h1.8v6.8h-1.8zM269.8 394.9h1.8v6.8h-1.8zM284.6 401.3h3.1v6.8h-3.1zM250.9 414.2h1.8v6.8h-1.8zM253.6 414.2h1.8v6.8h-1.8zM294.0 427.1h1.8v6.8h-1.8zM326.4 427.1h1.8v6.8h-1.8zM232.0 433.6h1.8v6.4h-1.8zM246.8 433.6h1.8v6.4h-1.8zM252.2 433.6h1.8v6.4h-1.8z" fill="#fcd29a"/>
<path d="M218.5 356.2h1.8v6.8h-1.8zM222.6 356.2h1.8v6.8h-1.8zM228.0 356.2h1.8v6.8h-1.8zM283.2 356.2h1.8v6.8h-1.8zM295.4 369.1h1.8v6.8h-1.8zM298.1 369.1h3.1v6.8h-3.1zM312.9 369.1h1.8v6.8h-1.8zM272.4 375.5h1.8v6.8h-1.8zM276.5 375.5h1.8v6.8h-1.8zM300.7 375.5h1.8v6.8h-1.8zM307.5 375.5h1.8v6.8h-1.8zM223.9 382.0h1.8v6.8h-1.8zM228.0 382.0h1.8v6.8h-1.8zM218.5 394.9h1.8v6.8h-1.8zM259.0 394.9h1.8v6.8h-1.8zM263.0 394.9h1.8v6.8h-1.8zM268.4 394.9h1.8v6.8h-1.8zM277.8 394.9h1.8v6.8h-1.8zM214.5 401.3h1.8v6.8h-1.8zM221.2 401.3h1.8v6.8h-1.8zM223.9 401.3h1.8v6.8h-1.8zM229.3 401.3h1.8v6.8h-1.8zM276.5 401.3h1.8v6.8h-1.8zM288.6 401.3h1.8v6.8h-1.8zM219.9 407.8h1.8v6.8h-1.8zM232.0 414.2h3.1v6.8h-3.1zM246.8 414.2h1.8v6.8h-1.8zM256.3 414.2h1.8v6.8h-1.8zM287.3 414.2h1.8v6.8h-1.8zM252.2 420.7h1.8v6.8h-1.8zM230.7 427.1h1.8v6.8h-1.8zM260.3 427.1h3.1v6.8h-3.1zM303.4 427.1h1.8v6.8h-1.8zM310.2 427.1h1.8v6.8h-1.8zM323.7 427.1h1.8v6.8h-1.8z" fill="#fce0a8"/>
<path d="M221.2 356.2h1.8v6.8h-1.8zM238.8 356.2h1.8v6.8h-1.8zM249.5 356.2h1.8v6.8h-1.8zM263.0 356.2h1.8v6.8h-1.8zM265.7 356.2h1.8v6.8h-1.8zM280.5 356.2h3.1v6.8h-3.1zM296.7 369.1h1.8v6.8h-1.8zM303.4 369.1h1.8v6.8h-1.8zM294.0 375.5h1.8v6.8h-1.8zM296.7 375.5h1.8v6.8h-1.8zM225.3 382.0h1.8v6.8h-1.8zM267.1 388.4h1.8v6.8h-1.8zM228.0 394.9h1.8v6.8h-1.8zM283.2 401.3h1.8v6.8h-1.8zM290.0 401.3h1.8v6.8h-1.8zM214.5 407.8h1.8v6.8h-1.8zM226.6 407.8h1.8v6.8h-1.8zM244.1 427.1h1.8v6.8h-1.8zM249.5 427.1h1.8v6.8h-1.8zM253.6 427.1h1.8v6.8h-1.8zM319.6 427.1h1.8v6.8h-1.8z" fill="#fcd2a8"/>
<path d="M223.9 356.2h1.8v6.8h-1.8zM275.1 356.2h1.8v6.8h-1.8zM292.7 356.2h1.8v6.8h-1.8zM298.1 356.2h1.8v6.8h-1.8zM294.0 362.6h1.8v6.8h-1.8zM252.2 369.1h1.8v6.8h-1.8zM240.1 375.5h1.8v6.8h-1.8zM264.4 375.5h1.8v6.8h-1.8zM299.4 375.5h1.8v6.8h-1.8zM303.4 375.5h1.8v6.8h-1.8zM281.9 382.0h1.8v6.8h-1.8zM295.4 382.0h1.8v6.8h-1.8zM299.4 382.0h1.8v6.8h-1.8zM236.1 388.4h1.8v6.8h-1.8zM240.1 388.4h3.1v6.8h-3.1zM244.1 388.4h3.1v6.8h-3.1zM248.2 388.4h3.1v6.8h-3.1zM253.6 388.4h1.8v6.8h-1.8zM260.3 388.4h1.8v6.8h-1.8zM263.0 388.4h1.8v6.8h-1.8zM265.7 388.4h1.8v6.8h-1.8zM269.8 388.4h3.1v6.8h-3.1zM283.2 388.4h1.8v6.8h-1.8zM296.7 388.4h1.8v6.8h-1.8zM314.2 388.4h1.8v6.8h-1.8zM222.6 401.3h1.8v6.8h-1.8zM273.8 401.3h1.8v6.8h-1.8zM272.4 407.8h1.8v6.8h-1.8zM275.1 407.8h1.8v6.8h-1.8zM259.0 414.2h1.8v6.8h-1.8zM265.7 414.2h1.8v6.8h-1.8zM268.4 414.2h1.8v6.8h-1.8zM321.0 414.2h1.8v6.8h-1.8zM325.0 414.2h1.8v6.8h-1.8zM238.8 420.7h1.8v6.8h-1.8zM245.5 420.7h1.8v6.8h-1.8zM248.2 420.7h4.5v6.8h-4.5zM256.3 420.7h1.8v6.8h-1.8zM259.0 420.7h1.8v6.8h-1.8zM265.7 420.7h1.8v6.8h-1.8zM285.9 420.7h1.8v6.8h-1.8zM295.4 420.7h1.8v6.8h-1.8zM299.4 420.7h1.8v6.8h-1.8zM236.1 427.1h1.8v6.8h-1.8zM238.8 427.1h1.8v6.8h-1.8zM241.5 427.1h1.8v6.8h-1.8zM248.2 427.1h1.8v6.8h-1.8zM263.0 427.1h1.8v6.8h-1.8zM321.0 427.1h1.8v6.8h-1.8zM318.3 433.6h1.8v6.4h-1.8z" fill="#eeeec4"/>
<path d="M225.3 356.2h1.8v6.8h-1.8zM237.4 356.2h1.8v6.8h-1.8zM250.9 356.2h1.8v6.8h-1.8zM254.9 356.2h1.8v6.8h-1.8zM261.7 356.2h1.8v6.8h-1.8zM264.4 356.2h1.8v6.8h-1.8zM223.9 362.6h1.8v6.8h-1.8zM230.7 362.6h1.8v6.8h-1.8zM241.5 362.6h5.8v6.8h-5.8zM248.2 362.6h1.8v6.8h-1.8zM276.5 369.1h3.1v6.8h-3.1zM281.9 369.1h1.8v6.8h-1.8zM284.6 369.1h1.8v6.8h-1.8zM287.3 369.1h1.8v6.8h-1.8zM283.2 375.5h1.8v6.8h-1.8zM290.0 375.5h1.8v6.8h-1.8zM226.6 382.0h1.8v6.8h-1.8zM236.1 382.0h1.8v6.8h-1.8zM240.1 382.0h1.8v6.8h-1.8zM244.1 382.0h1.8v6.8h-1.8zM264.4 382.0h1.8v6.8h-1.8zM265.7 394.9h1.8v6.8h-1.8zM273.8 394.9h1.8v6.8h-1.8zM276.5 394.9h1.8v6.8h-1.8zM259.0 401.3h3.1v6.8h-3.1zM233.4 407.8h1.8v6.8h-1.8zM240.1 407.8h1.8v6.8h-1.8zM257.6 407.8h1.8v6.8h-1.8zM261.7 407.8h1.8v6.8h-1.8zM264.4 407.8h1.8v6.8h-1.8zM268.4 407.8h3.1v6.8h-3.1zM300.7 427.1h3.1v6.8h-3.1zM214.5 433.6h1.8v6.4h-1.8zM223.9 433.6h1.8v6.4h-1.8zM234.7 433.6h1.8v6.4h-1.8zM244.1 433.6h1.8v6.4h-1.8zM268.4 433.6h3.1v6.4h-3.1z" fill="#ee8c62"/>
<path d="M226.6 356.2h1.8v6.8h-1.8zM229.3 356.2h1.8v6.8h-1.8zM316.9 356.2h1.8v6.8h-1.8zM308.8 369.1h3.1v6.8h-3.1zM234.7 388.4h1.8v6.8h-1.8zM261.7 388.4h1.8v6.8h-1.8zM268.4 388.4h1.8v6.8h-1.8zM281.9 388.4h1.8v6.8h-1.8zM288.6 388.4h1.8v6.8h-1.8zM276.5 407.8h1.8v6.8h-1.8zM236.1 414.2h1.8v6.8h-1.8zM254.9 414.2h1.8v6.8h-1.8zM246.8 427.1h1.8v6.8h-1.8zM267.1 427.1h1.8v6.8h-1.8zM269.8 427.1h1.8v6.8h-1.8zM285.9 433.6h1.8v6.4h-1.8z" fill="#eee0b6"/>
<path d="M230.7 356.2h1.8v6.8h-1.8zM236.1 356.2h1.8v6.8h-1.8zM240.1 356.2h4.5v6.8h-4.5zM252.2 356.2h1.8v6.8h-1.8zM256.3 356.2h1.8v6.8h-1.8zM221.2 362.6h1.8v6.8h-1.8zM225.3 362.6h1.8v6.8h-1.8zM234.7 362.6h1.8v6.8h-1.8zM265.7 362.6h1.8v6.8h-1.8zM279.2 369.1h1.8v6.8h-1.8zM283.2 369.1h1.8v6.8h-1.8zM291.3 369.1h1.8v6.8h-1.8zM294.0 369.1h1.8v6.8h-1.8zM316.9 369.1h1.8v6.8h-1.8zM273.8 375.5h3.1v6.8h-3.1zM277.8 375.5h1.8v6.8h-1.8zM285.9 375.5h1.8v6.8h-1.8zM221.2 382.0h1.8v6.8h-1.8zM233.4 382.0h1.8v6.8h-1.8zM242.8 382.0h1.8v6.8h-1.8zM271.1 382.0h1.8v6.8h-1.8zM275.1 388.4h1.8v6.8h-1.8zM221.2 394.9h1.8v6.8h-1.8zM232.0 394.9h1.8v6.8h-1.8zM234.7 394.9h1.8v6.8h-1.8zM238.8 394.9h1.8v6.8h-1.8zM249.5 394.9h1.8v6.8h-1.8zM257.6 394.9h1.8v6.8h-1.8zM271.1 394.9h3.1v6.8h-3.1zM217.2 401.3h1.8v6.8h-1.8zM219.9 401.3h1.8v6.8h-1.8zM240.1 401.3h1.8v6.8h-1.8zM248.2 401.3h1.8v6.8h-1.8zM222.6 407.8h1.8v6.8h-1.8zM232.0 407.8h1.8v6.8h-1.8zM238.8 407.8h1.8v6.8h-1.8zM265.7 407.8h1.8v6.8h-1.8zM244.1 414.2h1.8v6.8h-1.8zM306.1 427.1h1.8v6.8h-1.8zM314.2 427.1h1.8v6.8h-1.8zM217.2 433.6h4.5v6.4h-4.5zM222.6 433.6h1.8v6.4h-1.8zM236.1 433.6h1.8v6.4h-1.8zM245.5 433.6h1.8v6.4h-1.8zM249.5 433.6h3.1v6.4h-3.1zM253.6 433.6h1.8v6.4h-1.8zM271.1 433.6h1.8v6.4h-1.8z" fill="#eea87e"/>
<path d="M232.0 356.2h1.8v6.8h-1.8zM245.5 356.2h3.1v6.8h-3.1zM287.3 356.2h1.8v6.8h-1.8zM218.5 362.6h1.8v6.8h-1.8zM228.0 362.6h3.1v6.8h-3.1zM232.0 362.6h1.8v6.8h-1.8zM236.1 362.6h1.8v6.8h-1.8zM250.9 362.6h1.8v6.8h-1.8zM259.0 362.6h1.8v6.8h-1.8zM273.8 369.1h1.8v6.8h-1.8zM290.0 369.1h1.8v6.8h-1.8zM314.2 369.1h1.8v6.8h-1.8zM280.5 375.5h1.8v6.8h-1.8zM284.6 375.5h1.8v6.8h-1.8zM287.3 375.5h1.8v6.8h-1.8zM304.8 375.5h1.8v6.8h-1.8zM237.4 382.0h3.1v6.8h-3.1zM246.8 382.0h3.1v6.8h-3.1zM250.9 382.0h1.8v6.8h-1.8zM253.6 382.0h1.8v6.8h-1.8zM257.6 382.0h3.1v6.8h-3.1zM267.1 382.0h3.1v6.8h-3.1zM214.5 388.4h1.8v6.8h-1.8zM225.3 388.4h1.8v6.8h-1.8zM276.5 388.4h4.5v6.8h-4.5zM222.6 394.9h1.8v6.8h-1.8zM230.7 394.9h1.8v6.8h-1.8zM240.1 394.9h1.8v6.8h-1.8zM252.2 394.9h1.8v6.8h-1.8zM233.4 401.3h1.8v6.8h-1.8zM242.8 401.3h1.8v6.8h-1.8zM267.1 401.3h3.1v6.8h-3.1zM217.2 407.8h1.8v6.8h-1.8zM230.7 407.8h1.8v6.8h-1.8zM242.8 407.8h3.1v6.8h-3.1zM250.9 407.8h1.8v6.8h-1.8zM253.6 407.8h1.8v6.8h-1.8zM256.3 407.8h1.8v6.8h-1.8zM263.0 407.8h1.8v6.8h-1.8zM292.7 427.1h1.8v6.8h-1.8zM296.7 427.1h1.8v6.8h-1.8zM307.5 427.1h1.8v6.8h-1.8zM311.5 427.1h1.8v6.8h-1.8zM228.0 433.6h1.8v6.4h-1.8zM242.8 433.6h1.8v6.4h-1.8zM257.6 433.6h3.1v6.4h-3.1zM261.7 433.6h1.8v6.4h-1.8zM264.4 433.6h4.5v6.4h-4.5z" fill="#ee9a70"/>
<path d="M233.4 356.2h1.8v6.8h-1.8zM288.6 356.2h1.8v6.8h-1.8zM311.5 356.2h1.8v6.8h-1.8zM215.8 362.6h1.8v6.8h-1.8zM288.6 369.1h1.8v6.8h-1.8zM292.7 369.1h1.8v6.8h-1.8zM302.1 369.1h1.8v6.8h-1.8zM279.2 375.5h1.8v6.8h-1.8zM292.7 375.5h1.8v6.8h-1.8zM295.4 375.5h1.8v6.8h-1.8zM308.8 375.5h1.8v6.8h-1.8zM217.2 382.0h3.1v6.8h-3.1zM250.9 388.4h1.8v6.8h-1.8zM214.5 394.9h1.8v6.8h-1.8zM225.3 394.9h1.8v6.8h-1.8zM237.4 394.9h1.8v6.8h-1.8zM241.5 394.9h1.8v6.8h-1.8zM250.9 394.9h1.8v6.8h-1.8zM256.3 394.9h1.8v6.8h-1.8zM275.1 394.9h1.8v6.8h-1.8zM215.8 401.3h1.8v6.8h-1.8zM281.9 401.3h1.8v6.8h-1.8zM287.3 401.3h1.8v6.8h-1.8zM228.0 407.8h1.8v6.8h-1.8zM236.1 407.8h1.8v6.8h-1.8zM259.0 407.8h1.8v6.8h-1.8zM281.9 407.8h1.8v6.8h-1.8zM237.4 414.2h1.8v6.8h-1.8zM249.5 414.2h1.8v6.8h-1.8zM252.2 414.2h1.8v6.8h-1.8zM298.1 427.1h1.8v6.8h-1.8zM215.8 433.6h1.8v6.4h-1.8zM221.2 433.6h1.8v6.4h-1.8zM230.7 433.6h1.8v6.4h-1.8zM241.5 433.6h1.8v6.4h-1.8zM260.3 433.6h1.8v6.4h-1.8z" fill="#fcc49a"/>
<path d="M234.7 356.2h1.8v6.8h-1.8zM253.6 356.2h1.8v6.8h-1.8zM233.4 362.6h1.8v6.8h-1.8zM254.9 362.6h4.5v6.8h-4.5zM261.7 362.6h1.8v6.8h-1.8zM272.4 369.1h1.8v6.8h-1.8zM288.6 375.5h1.8v6.8h-1.8zM222.6 382.0h1.8v6.8h-1.8zM249.5 382.0h1.8v6.8h-1.8zM252.2 382.0h1.8v6.8h-1.8zM256.3 382.0h1.8v6.8h-1.8zM215.8 388.4h3.1v6.8h-3.1zM248.2 394.9h1.8v6.8h-1.8zM284.6 394.9h1.8v6.8h-1.8zM230.7 401.3h1.8v6.8h-1.8zM236.1 401.3h1.8v6.8h-1.8zM249.5 401.3h1.8v6.8h-1.8zM252.2 401.3h3.1v6.8h-3.1zM257.6 401.3h1.8v6.8h-1.8zM261.7 401.3h1.8v6.8h-1.8zM246.8 407.8h3.1v6.8h-3.1zM295.4 427.1h1.8v6.8h-1.8zM226.6 433.6h1.8v6.4h-1.8zM254.9 433.6h1.8v6.4h-1.8z" fill="#ee7e54"/>
<path d="M244.1 356.2h1.8v6.8h-1.8zM248.2 356.2h1.8v6.8h-1.8zM259.0 356.2h1.8v6.8h-1.8zM267.1 356.2h1.8v6.8h-1.8zM269.8 356.2h3.1v6.8h-3.1zM284.6 356.2h3.1v6.8h-3.1zM222.6 362.6h1.8v6.8h-1.8zM226.6 362.6h1.8v6.8h-1.8zM300.7 369.1h1.8v6.8h-1.8zM312.9 375.5h1.8v6.8h-1.8zM316.9 375.5h1.8v6.8h-1.8zM214.5 382.0h1.8v6.8h-1.8zM232.0 382.0h1.8v6.8h-1.8zM234.7 382.0h1.8v6.8h-1.8zM241.5 382.0h1.8v6.8h-1.8zM273.8 388.4h1.8v6.8h-1.8zM219.9 394.9h1.8v6.8h-1.8zM223.9 394.9h1.8v6.8h-1.8zM236.1 394.9h1.8v6.8h-1.8zM244.1 394.9h1.8v6.8h-1.8zM246.8 394.9h1.8v6.8h-1.8zM253.6 394.9h3.1v6.8h-3.1zM260.3 394.9h3.1v6.8h-3.1zM264.4 394.9h1.8v6.8h-1.8zM279.2 394.9h1.8v6.8h-1.8zM218.5 401.3h1.8v6.8h-1.8zM280.5 401.3h1.8v6.8h-1.8zM215.8 407.8h1.8v6.8h-1.8zM218.5 407.8h1.8v6.8h-1.8zM221.2 407.8h1.8v6.8h-1.8zM225.3 407.8h1.8v6.8h-1.8zM254.9 407.8h1.8v6.8h-1.8zM260.3 407.8h1.8v6.8h-1.8zM267.1 407.8h1.8v6.8h-1.8zM283.2 407.8h1.8v6.8h-1.8zM288.6 407.8h3.1v6.8h-3.1zM304.8 427.1h1.8v6.8h-1.8zM308.8 427.1h1.8v6.8h-1.8zM316.9 427.1h1.8v6.8h-1.8zM238.8 433.6h1.8v6.4h-1.8zM248.2 433.6h1.8v6.4h-1.8z" fill="#eeb68c"/>
<path d="M260.3 356.2h1.8v6.8h-1.8zM223.9 407.8h1.8v6.8h-1.8zM312.9 427.1h1.8v6.8h-1.8zM237.4 433.6h1.8v6.4h-1.8z" fill="#eec48c"/>
<path d="M272.4 356.2h1.8v6.8h-1.8zM291.3 356.2h1.8v6.8h-1.8zM303.4 356.2h1.8v6.8h-1.8zM306.1 356.2h1.8v6.8h-1.8zM263.0 369.1h1.8v6.8h-1.8zM269.8 369.1h1.8v6.8h-1.8zM298.1 375.5h1.8v6.8h-1.8zM302.1 375.5h1.8v6.8h-1.8zM310.2 375.5h1.8v6.8h-1.8zM284.6 382.0h1.8v6.8h-1.8zM290.0 382.0h1.8v6.8h-1.8zM315.6 382.0h1.8v6.8h-1.8zM237.4 388.4h1.8v6.8h-1.8zM284.6 388.4h4.5v6.8h-4.5zM312.9 388.4h1.8v6.8h-1.8zM277.8 401.3h1.8v6.8h-1.8zM242.8 414.2h1.8v6.8h-1.8zM290.0 414.2h1.8v6.8h-1.8zM300.7 414.2h1.8v6.8h-1.8zM307.5 414.2h3.1v6.8h-3.1zM233.4 420.7h1.8v6.8h-1.8zM236.1 420.7h1.8v6.8h-1.8zM240.1 420.7h1.8v6.8h-1.8zM254.9 420.7h1.8v6.8h-1.8zM257.6 420.7h1.8v6.8h-1.8zM263.0 420.7h1.8v6.8h-1.8zM287.3 420.7h1.8v6.8h-1.8zM290.0 420.7h1.8v6.8h-1.8zM316.9 420.7h1.8v6.8h-1.8zM237.4 427.1h1.8v6.8h-1.8zM242.8 427.1h1.8v6.8h-1.8zM252.2 427.1h1.8v6.8h-1.8zM256.3 427.1h3.1v6.8h-3.1zM268.4 427.1h1.8v6.8h-1.8zM290.0 427.1h1.8v6.8h-1.8zM318.3 427.1h1.8v6.8h-1.8zM233.4 433.6h1.8v6.4h-1.8zM283.2 433.6h1.8v6.4h-1.8zM326.4 433.6h1.8v6.4h-1.8z" fill="#eeeed2"/>
<path d="M273.8 356.2h1.8v6.8h-1.8zM294.0 356.2h1.8v6.8h-1.8zM299.4 356.2h1.8v6.8h-1.8zM304.8 356.2h1.8v6.8h-1.8zM307.5 356.2h3.1v6.8h-3.1zM312.9 356.2h3.1v6.8h-3.1zM279.2 362.6h1.8v6.8h-1.8zM290.0 362.6h1.8v6.8h-1.8zM300.7 362.6h1.8v6.8h-1.8zM308.8 362.6h3.1v6.8h-3.1zM319.6 362.6h3.1v6.8h-3.1zM218.5 369.1h1.8v6.8h-1.8zM226.6 369.1h1.8v6.8h-1.8zM230.7 369.1h1.8v6.8h-1.8zM234.7 369.1h1.8v6.8h-1.8zM240.1 369.1h1.8v6.8h-1.8zM245.5 369.1h5.8v6.8h-5.8zM254.9 369.1h1.8v6.8h-1.8zM261.7 369.1h1.8v6.8h-1.8zM319.6 369.1h1.8v6.8h-1.8zM228.0 375.5h1.8v6.8h-1.8zM267.1 375.5h1.8v6.8h-1.8zM272.4 382.0h1.8v6.8h-1.8zM279.2 382.0h1.8v6.8h-1.8zM285.9 382.0h1.8v6.8h-1.8zM308.8 382.0h1.8v6.8h-1.8zM230.7 388.4h1.8v6.8h-1.8zM307.5 388.4h1.8v6.8h-1.8zM319.6 388.4h1.8v6.8h-1.8zM323.7 388.4h1.8v6.8h-1.8zM299.4 394.9h1.8v6.8h-1.8zM277.8 407.8h1.8v6.8h-1.8zM229.3 414.2h1.8v6.8h-1.8zM277.8 414.2h3.1v6.8h-3.1zM284.6 414.2h3.1v6.8h-3.1zM292.7 414.2h1.8v6.8h-1.8zM295.4 414.2h1.8v6.8h-1.8zM311.5 414.2h3.1v6.8h-3.1zM218.5 420.7h1.8v6.8h-1.8zM223.9 420.7h1.8v6.8h-1.8zM229.3 420.7h1.8v6.8h-1.8zM234.7 420.7h1.8v6.8h-1.8zM244.1 420.7h1.8v6.8h-1.8zM246.8 420.7h1.8v6.8h-1.8zM269.8 420.7h3.1v6.8h-3.1zM280.5 420.7h3.1v6.8h-3.1zM284.6 420.7h1.8v6.8h-1.8zM294.0 420.7h1.8v6.8h-1.8zM298.1 420.7h1.8v6.8h-1.8zM315.6 420.7h1.8v6.8h-1.8zM223.9 427.1h1.8v6.8h-1.8zM226.6 427.1h1.8v6.8h-1.8zM265.7 427.1h1.8v6.8h-1.8zM273.8 427.1h3.1v6.8h-3.1zM277.8 427.1h1.8v6.8h-1.8zM280.5 427.1h1.8v6.8h-1.8zM284.6 427.1h1.8v6.8h-1.8zM288.6 427.1h1.8v6.8h-1.8zM288.6 433.6h1.8v6.4h-1.8zM300.7 433.6h1.8v6.4h-1.8zM303.4 433.6h1.8v6.4h-1.8zM325.0 433.6h1.8v6.4h-1.8z" fill="#d2eee0"/>
<path d="M276.5 356.2h1.8v6.8h-1.8zM306.1 369.1h1.8v6.8h-1.8zM311.5 369.1h1.8v6.8h-1.8zM291.3 375.5h1.8v6.8h-1.8zM215.8 382.0h1.8v6.8h-1.8zM252.2 388.4h1.8v6.8h-1.8zM256.3 388.4h3.1v6.8h-3.1zM280.5 388.4h1.8v6.8h-1.8zM233.4 394.9h1.8v6.8h-1.8zM225.3 401.3h1.8v6.8h-1.8zM228.0 401.3h1.8v6.8h-1.8zM271.1 407.8h1.8v6.8h-1.8zM284.6 407.8h1.8v6.8h-1.8zM240.1 414.2h3.1v6.8h-3.1zM245.5 414.2h1.8v6.8h-1.8zM260.3 414.2h1.8v6.8h-1.8zM264.4 414.2h1.8v6.8h-1.8zM325.0 427.1h1.8v6.8h-1.8zM229.3 433.6h1.8v6.4h-1.8z" fill="#fce0b6"/>
<path d="M279.2 356.2h1.8v6.8h-1.8zM307.5 362.6h1.8v6.8h-1.8zM223.9 369.1h1.8v6.8h-1.8zM232.0 369.1h1.8v6.8h-1.8zM256.3 369.1h1.8v6.8h-1.8zM260.3 369.1h1.8v6.8h-1.8zM267.1 369.1h1.8v6.8h-1.8zM214.5 375.5h1.8v6.8h-1.8zM223.9 375.5h1.8v6.8h-1.8zM238.8 375.5h1.8v6.8h-1.8zM250.9 375.5h1.8v6.8h-1.8zM287.3 382.0h1.8v6.8h-1.8zM291.3 382.0h1.8v6.8h-1.8zM298.1 382.0h1.8v6.8h-1.8zM311.5 382.0h1.8v6.8h-1.8zM316.9 382.0h1.8v6.8h-1.8zM295.4 388.4h1.8v6.8h-1.8zM303.4 388.4h1.8v6.8h-1.8zM316.9 388.4h3.1v6.8h-3.1zM296.7 394.9h1.8v6.8h-1.8zM272.4 401.3h1.8v6.8h-1.8zM291.3 407.8h1.8v6.8h-1.8zM294.0 407.8h1.8v6.8h-1.8zM315.6 407.8h1.8v6.8h-1.8zM218.5 414.2h1.8v6.8h-1.8zM222.6 414.2h3.1v6.8h-3.1zM310.2 414.2h1.8v6.8h-1.8zM315.6 414.2h1.8v6.8h-1.8zM318.3 414.2h1.8v6.8h-1.8zM323.7 414.2h1.8v6.8h-1.8zM241.5 420.7h1.8v6.8h-1.8zM275.1 420.7h3.1v6.8h-3.1zM283.2 420.7h1.8v6.8h-1.8zM307.5 420.7h1.8v6.8h-1.8zM221.2 427.1h1.8v6.8h-1.8zM272.4 427.1h1.8v6.8h-1.8zM281.9 433.6h1.8v6.4h-1.8zM296.7 433.6h1.8v6.4h-1.8zM314.2 433.6h1.8v6.4h-1.8z" fill="#b6eeee"/>
<path d="M296.7 356.2h1.8v6.8h-1.8zM238.8 369.1h1.8v6.8h-1.8zM315.6 375.5h1.8v6.8h-1.8zM232.0 388.4h1.8v6.8h-1.8zM246.8 388.4h1.8v6.8h-1.8zM264.4 388.4h1.8v6.8h-1.8zM226.6 401.3h1.8v6.8h-1.8zM229.3 407.8h1.8v6.8h-1.8zM230.7 414.2h1.8v6.8h-1.8zM238.8 414.2h1.8v6.8h-1.8zM248.2 414.2h1.8v6.8h-1.8zM257.6 414.2h1.8v6.8h-1.8zM261.7 420.7h1.8v6.8h-1.8zM234.7 427.1h1.8v6.8h-1.8z" fill="#eeeeb6"/>
<path d="M302.1 356.2h1.8v6.8h-1.8zM273.8 362.6h1.8v6.8h-1.8zM281.9 362.6h1.8v6.8h-1.8zM291.3 362.6h3.1v6.8h-3.1zM295.4 362.6h1.8v6.8h-1.8zM312.9 362.6h1.8v6.8h-1.8zM315.6 362.6h4.5v6.8h-4.5zM214.5 369.1h1.8v6.8h-1.8zM222.6 369.1h1.8v6.8h-1.8zM228.0 369.1h1.8v6.8h-1.8zM236.1 369.1h1.8v6.8h-1.8zM253.6 369.1h1.8v6.8h-1.8zM321.0 369.1h1.8v6.8h-1.8zM325.0 369.1h1.8v6.8h-1.8zM218.5 375.5h3.1v6.8h-3.1zM226.6 375.5h1.8v6.8h-1.8zM233.4 375.5h1.8v6.8h-1.8zM245.5 375.5h1.8v6.8h-1.8zM252.2 375.5h1.8v6.8h-1.8zM254.9 375.5h1.8v6.8h-1.8zM259.0 375.5h3.1v6.8h-3.1zM263.0 375.5h1.8v6.8h-1.8zM292.7 382.0h3.1v6.8h-3.1zM302.1 382.0h1.8v6.8h-1.8zM318.3 382.0h1.8v6.8h-1.8zM306.1 388.4h1.8v6.8h-1.8zM294.0 394.9h1.8v6.8h-1.8zM298.1 394.9h1.8v6.8h-1.8zM312.9 394.9h1.8v6.8h-1.8zM315.6 394.9h1.8v6.8h-1.8zM319.6 394.9h1.8v6.8h-1.8zM275.1 401.3h1.8v6.8h-1.8zM291.3 401.3h1.8v6.8h-1.8zM298.1 401.3h1.8v6.8h-1.8zM312.9 401.3h3.1v6.8h-3.1zM295.4 407.8h1.8v6.8h-1.8zM299.4 407.8h3.1v6.8h-3.1zM303.4 407.8h1.8v6.8h-1.8zM325.0 407.8h1.8v6.8h-1.8zM215.8 414.2h1.8v6.8h-1.8zM226.6 414.2h3.1v6.8h-3.1zM291.3 414.2h1.8v6.8h-1.8zM294.0 414.2h1.8v6.8h-1.8zM299.4 414.2h1.8v6.8h-1.8zM306.1 414.2h1.8v6.8h-1.8zM316.9 414.2h1.8v6.8h-1.8zM228.0 420.7h1.8v6.8h-1.8zM264.4 420.7h1.8v6.8h-1.8zM277.8 420.7h3.1v6.8h-3.1zM292.7 420.7h1.8v6.8h-1.8zM300.7 420.7h1.8v6.8h-1.8zM314.2 420.7h1.8v6.8h-1.8zM218.5 427.1h1.8v6.8h-1.8zM279.2 433.6h1.8v6.4h-1.8zM291.3 433.6h3.1v6.4h-3.1zM299.4 433.6h1.8v6.4h-1.8zM304.8 433.6h1.8v6.4h-1.8zM312.9 433.6h1.8v6.4h-1.8zM315.6 433.6h1.8v6.4h-1.8z" fill="#a8e0ee"/>
<path d="M318.3 356.2h3.1v6.8h-3.1z" fill="#2a54d2"/>
<path d="M321.0 356.2h1.8v6.8h-1.8z" fill="#1c38b6"/>
<path d="M322.3 356.2h1.8v6.8h-1.8z" fill="#2a46c4"/>
<path d="M323.7 356.2h1.8v6.8h-1.8zM326.4 356.2h1.8v6.8h-1.8z" fill="#1c2aa8"/>
<path d="M325.0 356.2h1.8v6.8h-1.8z" fill="#2a38b6"/>
<path d="M217.2 362.6h1.8v6.8h-1.8zM252.2 362.6h1.8v6.8h-1.8zM260.3 362.6h1.8v6.8h-1.8zM264.4 362.6h1.8v6.8h-1.8zM280.5 369.1h1.8v6.8h-1.8zM230.7 382.0h1.8v6.8h-1.8zM260.3 382.0h1.8v6.8h-1.8zM219.9 388.4h1.8v6.8h-1.8zM222.6 388.4h1.8v6.8h-1.8zM280.5 394.9h1.8v6.8h-1.8zM290.0 394.9h1.8v6.8h-1.8zM244.1 401.3h1.8v6.8h-1.8zM263.0 401.3h1.8v6.8h-1.8zM249.5 407.8h1.8v6.8h-1.8zM326.4 420.7h1.8v6.8h-1.8z" fill="#e07054"/>
<path d="M237.4 362.6h3.1v6.8h-3.1zM269.8 362.6h3.1v6.8h-3.1zM281.9 375.5h1.8v6.8h-1.8zM245.5 382.0h1.8v6.8h-1.8zM269.8 382.0h1.8v6.8h-1.8zM218.5 388.4h1.8v6.8h-1.8zM221.2 388.4h1.8v6.8h-1.8zM223.9 388.4h1.8v6.8h-1.8zM226.6 388.4h1.8v6.8h-1.8zM272.4 388.4h1.8v6.8h-1.8zM232.0 401.3h1.8v6.8h-1.8zM237.4 401.3h1.8v6.8h-1.8zM246.8 401.3h1.8v6.8h-1.8zM254.9 401.3h1.8v6.8h-1.8zM265.7 401.3h1.8v6.8h-1.8zM241.5 407.8h1.8v6.8h-1.8zM245.5 407.8h1.8v6.8h-1.8zM322.3 420.7h1.8v6.8h-1.8zM299.4 427.1h1.8v6.8h-1.8z" fill="#e06246"/>
<path d="M240.1 362.6h1.8v6.8h-1.8zM254.9 382.0h1.8v6.8h-1.8zM285.9 394.9h1.8v6.8h-1.8zM245.5 401.3h1.8v6.8h-1.8zM250.9 401.3h1.8v6.8h-1.8zM264.4 401.3h1.8v6.8h-1.8zM234.7 407.8h1.8v6.8h-1.8z" fill="#e05446"/>
<path d="M246.8 362.6h1.8v6.8h-1.8zM249.5 362.6h1.8v6.8h-1.8zM318.3 375.5h3.1v6.8h-3.1zM229.3 388.4h1.8v6.8h-1.8zM234.7 401.3h1.8v6.8h-1.8zM238.8 401.3h1.8v6.8h-1.8zM269.8 401.3h3.1v6.8h-3.1zM318.3 420.7h1.8v6.8h-1.8zM323.7 420.7h1.8v6.8h-1.8z" fill="#e05438"/>
<path d="M253.6 362.6h1.8v6.8h-1.8zM267.1 362.6h3.1v6.8h-3.1zM322.3 375.5h1.8v6.8h-1.8zM325.0 375.5h1.8v6.8h-1.8zM261.7 382.0h3.1v6.8h-3.1zM228.0 388.4h1.8v6.8h-1.8zM288.6 394.9h1.8v6.8h-1.8zM241.5 401.3h1.8v6.8h-1.8zM319.6 420.7h1.8v6.8h-1.8z" fill="#d24638"/>
<path d="M263.0 362.6h1.8v6.8h-1.8zM323.7 375.5h1.8v6.8h-1.8zM326.4 375.5h1.8v6.8h-1.8zM265.7 382.0h1.8v6.8h-1.8zM287.3 394.9h1.8v6.8h-1.8zM256.3 401.3h1.8v6.8h-1.8z" fill="#c42a2a"/>
<path d="M272.4 362.6h1.8v6.8h-1.8zM280.5 362.6h1.8v6.8h-1.8zM284.6 362.6h1.8v6.8h-1.8zM287.3 362.6h3.1v6.8h-3.1zM296.7 362.6h4.5v6.8h-4.5zM303.4 362.6h1.8v6.8h-1.8zM322.3 362.6h1.8v6.8h-1.8zM217.2 369.1h1.8v6.8h-1.8zM221.2 369.1h1.8v6.8h-1.8zM225.3 369.1h1.8v6.8h-1.8zM233.4 369.1h1.8v6.8h-1.8zM264.4 369.1h1.8v6.8h-1.8zM323.7 369.1h1.8v6.8h-1.8zM326.4 369.1h1.8v6.8h-1.8zM230.7 375.5h1.8v6.8h-1.8zM256.3 375.5h3.1v6.8h-3.1zM268.4 375.5h1.8v6.8h-1.8zM275.1 382.0h1.8v6.8h-1.8zM296.7 382.0h1.8v6.8h-1.8zM300.7 382.0h1.8v6.8h-1.8zM306.1 382.0h1.8v6.8h-1.8zM312.9 382.0h3.1v6.8h-3.1zM233.4 388.4h1.8v6.8h-1.8zM290.0 388.4h1.8v6.8h-1.8zM302.1 388.4h1.8v6.8h-1.8zM311.5 388.4h1.8v6.8h-1.8zM315.6 388.4h1.8v6.8h-1.8zM325.0 388.4h1.8v6.8h-1.8zM273.8 407.8h1.8v6.8h-1.8zM279.2 407.8h1.8v6.8h-1.8zM272.4 414.2h3.1v6.8h-3.1zM280.5 414.2h1.8v6.8h-1.8zM283.2 414.2h1.8v6.8h-1.8zM288.6 414.2h1.8v6.8h-1.8zM214.5 420.7h1.8v6.8h-1.8zM242.8 420.7h1.8v6.8h-1.8zM268.4 420.7h1.8v6.8h-1.8zM273.8 420.7h1.8v6.8h-1.8zM296.7 420.7h1.8v6.8h-1.8zM302.1 420.7h1.8v6.8h-1.8zM308.8 420.7h1.8v6.8h-1.8zM219.9 427.1h1.8v6.8h-1.8zM229.3 427.1h1.8v6.8h-1.8zM279.2 427.1h1.8v6.8h-1.8zM281.9 427.1h3.1v6.8h-3.1zM275.1 433.6h3.1v6.4h-3.1zM284.6 433.6h1.8v6.4h-1.8zM322.3 433.6h1.8v6.4h-1.8z" fill="#c4eee0"/>
<path d="M275.1 362.6h3.1v6.8h-3.1zM306.1 362.6h1.8v6.8h-1.8zM314.2 362.6h1.8v6.8h-1.8zM325.0 362.6h1.8v6.8h-1.8zM215.8 369.1h1.8v6.8h-1.8zM229.3 369.1h1.8v6.8h-1.8zM237.4 369.1h1.8v6.8h-1.8zM241.5 369.1h1.8v6.8h-1.8zM244.1 369.1h1.8v6.8h-1.8zM250.9 369.1h1.8v6.8h-1.8zM265.7 369.1h1.8v6.8h-1.8zM318.3 369.1h1.8v6.8h-1.8zM322.3 369.1h1.8v6.8h-1.8zM221.2 375.5h1.8v6.8h-1.8zM225.3 375.5h1.8v6.8h-1.8zM229.3 375.5h1.8v6.8h-1.8zM234.7 375.5h1.8v6.8h-1.8zM237.4 375.5h1.8v6.8h-1.8zM242.8 375.5h1.8v6.8h-1.8zM249.5 375.5h1.8v6.8h-1.8zM253.6 375.5h1.8v6.8h-1.8zM265.7 375.5h1.8v6.8h-1.8zM271.1 375.5h1.8v6.8h-1.8zM304.8 382.0h1.8v6.8h-1.8zM307.5 382.0h1.8v6.8h-1.8zM319.6 382.0h1.8v6.8h-1.8zM259.0 388.4h1.8v6.8h-1.8zM291.3 388.4h1.8v6.8h-1.8zM294.0 388.4h1.8v6.8h-1.8zM300.7 388.4h1.8v6.8h-1.8zM304.8 388.4h1.8v6.8h-1.8zM322.3 388.4h1.8v6.8h-1.8zM295.4 394.9h1.8v6.8h-1.8zM300.7 394.9h1.8v6.8h-1.8zM304.8 394.9h1.8v6.8h-1.8zM307.5 394.9h1.8v6.8h-1.8zM316.9 394.9h1.8v6.8h-1.8zM279.2 401.3h1.8v6.8h-1.8zM296.7 401.3h1.8v6.8h-1.8zM299.4 401.3h1.8v6.8h-1.8zM316.9 401.3h1.8v6.8h-1.8zM325.0 401.3h1.8v6.8h-1.8zM310.2 407.8h1.8v6.8h-1.8zM326.4 407.8h1.8v6.8h-1.8zM214.5 414.2h1.8v6.8h-1.8zM263.0 414.2h1.8v6.8h-1.8zM281.9 414.2h1.8v6.8h-1.8zM298.1 414.2h1.8v6.8h-1.8zM302.1 414.2h1.8v6.8h-1.8zM314.2 414.2h1.8v6.8h-1.8zM215.8 420.7h3.1v6.8h-3.1zM226.6 420.7h1.8v6.8h-1.8zM291.3 420.7h1.8v6.8h-1.8zM303.4 420.7h3.1v6.8h-3.1zM311.5 420.7h3.1v6.8h-3.1zM214.5 427.1h1.8v6.8h-1.8zM222.6 427.1h1.8v6.8h-1.8zM228.0 427.1h1.8v6.8h-1.8zM271.1 427.1h1.8v6.8h-1.8zM272.4 433.6h3.1v6.4h-3.1zM277.8 433.6h1.8v6.4h-1.8zM280.5 433.6h1.8v6.4h-1.8zM294.0 433.6h1.8v6.4h-1.8zM298.1 433.6h1.8v6.4h-1.8zM316.9 433.6h1.8v6.4h-1.8zM321.0 433.6h1.8v6.4h-1.8zM323.7 433.6h1.8v6.4h-1.8z" fill="#b6e0ee"/>
<path d="M302.1 362.6h1.8v6.8h-1.8zM326.4 362.6h1.8v6.8h-1.8zM219.9 369.1h1.8v6.8h-1.8zM242.8 369.1h1.8v6.8h-1.8zM222.6 375.5h1.8v6.8h-1.8zM244.1 375.5h1.8v6.8h-1.8zM248.2 375.5h1.8v6.8h-1.8zM321.0 382.0h1.8v6.8h-1.8zM323.7 382.0h1.8v6.8h-1.8zM326.4 382.0h1.8v6.8h-1.8zM298.1 388.4h1.8v6.8h-1.8zM291.3 394.9h1.8v6.8h-1.8zM303.4 394.9h1.8v6.8h-1.8zM306.1 394.9h1.8v6.8h-1.8zM310.2 394.9h1.8v6.8h-1.8zM323.7 394.9h1.8v6.8h-1.8zM311.5 401.3h1.8v6.8h-1.8zM321.0 401.3h1.8v6.8h-1.8zM292.7 407.8h1.8v6.8h-1.8zM304.8 407.8h1.8v6.8h-1.8zM307.5 407.8h3.1v6.8h-3.1zM311.5 407.8h3.1v6.8h-3.1zM319.6 407.8h3.1v6.8h-3.1zM217.2 414.2h1.8v6.8h-1.8zM306.1 420.7h1.8v6.8h-1.8zM310.2 420.7h1.8v6.8h-1.8zM215.8 427.1h1.8v6.8h-1.8zM295.4 433.6h1.8v6.4h-1.8zM306.1 433.6h1.8v6.4h-1.8zM308.8 433.6h3.1v6.4h-3.1z" fill="#9ad2ee"/>
<path d="M304.8 362.6h1.8v6.8h-1.8zM215.8 375.5h1.8v6.8h-1.8zM246.8 375.5h1.8v6.8h-1.8zM322.3 382.0h1.8v6.8h-1.8zM308.8 388.4h1.8v6.8h-1.8zM314.2 394.9h1.8v6.8h-1.8zM322.3 394.9h1.8v6.8h-1.8zM325.0 394.9h1.8v6.8h-1.8zM295.4 401.3h1.8v6.8h-1.8zM306.1 401.3h1.8v6.8h-1.8zM310.2 401.3h1.8v6.8h-1.8zM318.3 401.3h1.8v6.8h-1.8zM322.3 401.3h1.8v6.8h-1.8zM326.4 401.3h1.8v6.8h-1.8zM314.2 407.8h1.8v6.8h-1.8zM316.9 407.8h1.8v6.8h-1.8zM322.3 407.8h1.8v6.8h-1.8zM219.9 414.2h1.8v6.8h-1.8zM304.8 414.2h1.8v6.8h-1.8zM217.2 427.1h1.8v6.8h-1.8zM225.3 427.1h1.8v6.8h-1.8zM276.5 427.1h1.8v6.8h-1.8zM287.3 427.1h1.8v6.8h-1.8z" fill="#8cc4ee"/>
<path d="M311.5 362.6h1.8v6.8h-1.8zM257.6 369.1h1.8v6.8h-1.8zM261.7 375.5h1.8v6.8h-1.8zM276.5 382.0h1.8v6.8h-1.8zM310.2 388.4h1.8v6.8h-1.8zM292.7 401.3h1.8v6.8h-1.8zM298.1 407.8h1.8v6.8h-1.8zM318.3 407.8h1.8v6.8h-1.8zM323.7 407.8h1.8v6.8h-1.8zM225.3 414.2h1.8v6.8h-1.8zM221.2 420.7h3.1v6.8h-3.1zM307.5 433.6h1.8v6.4h-1.8zM319.6 433.6h1.8v6.4h-1.8z" fill="#a8d2ee"/>
<path d="M268.4 369.1h1.8v6.8h-1.8zM241.5 375.5h1.8v6.8h-1.8zM273.8 382.0h1.8v6.8h-1.8zM277.8 382.0h1.8v6.8h-1.8zM303.4 382.0h1.8v6.8h-1.8zM292.7 388.4h1.8v6.8h-1.8zM302.1 407.8h1.8v6.8h-1.8zM276.5 414.2h1.8v6.8h-1.8zM296.7 414.2h1.8v6.8h-1.8zM225.3 420.7h1.8v6.8h-1.8zM302.1 433.6h1.8v6.4h-1.8z" fill="#c4eeee"/>
<path d="M285.9 369.1h1.8v6.8h-1.8z" fill="#e07046"/>
<path d="M315.6 369.1h1.8v6.8h-1.8zM219.9 382.0h1.8v6.8h-1.8zM245.5 394.9h1.8v6.8h-1.8zM263.0 433.6h1.8v6.4h-1.8z" fill="#eea870"/>
<path d="M217.2 375.5h1.8v6.8h-1.8zM318.3 394.9h1.8v6.8h-1.8zM326.4 394.9h1.8v6.8h-1.8zM302.1 401.3h1.8v6.8h-1.8zM307.5 401.3h3.1v6.8h-3.1zM319.6 401.3h1.8v6.8h-1.8z" fill="#7ec4ee"/>
<path d="M236.1 375.5h1.8v6.8h-1.8zM296.7 407.8h1.8v6.8h-1.8z" fill="#8cd2ee"/>
<path d="M321.0 375.5h1.8v6.8h-1.8zM283.2 394.9h1.8v6.8h-1.8zM325.0 420.7h1.8v6.8h-1.8z" fill="#d2382a"/>
<path d="M325.0 382.0h1.8v6.8h-1.8zM292.7 394.9h1.8v6.8h-1.8zM321.0 394.9h1.8v6.8h-1.8zM294.0 401.3h1.8v6.8h-1.8zM300.7 401.3h1.8v6.8h-1.8zM323.7 401.3h1.8v6.8h-1.8z" fill="#7eb6ee"/>
<path d="M281.9 394.9h1.8v6.8h-1.8z" fill="#ee7054"/>
<path d="M302.1 394.9h1.8v6.8h-1.8z" fill="#70b6ee"/>
<path d="M303.4 401.3h1.8v6.8h-1.8z" fill="#62a8e0"/>
<path d="M304.8 401.3h1.8v6.8h-1.8zM315.6 401.3h1.8v6.8h-1.8z" fill="#70a8ee"/>
<path d="M237.4 407.8h1.8v6.8h-1.8zM287.3 407.8h1.8v6.8h-1.8zM240.1 433.6h1.8v6.4h-1.8z" fill="#eeb67e"/>
<path d="M252.2 407.8h1.8v6.8h-1.8zM225.3 433.6h1.8v6.4h-1.8zM256.3 433.6h1.8v6.4h-1.8z" fill="#ee7e62"/>
<path d="M321.0 420.7h1.8v6.8h-1.8z" fill="#e04638"/>
<rect x="214.5" y="356.2" width="113.2" height="83.8" fill="none" stroke="#222" stroke-width="0.9"/>
<text x="211.6" y="362.0" font-size="7.42" text-anchor="end" textLength="14.0" lengthAdjust="spacingAndGlyphs" >CD3</text>
<text x="211.6" y="368.5" font-size="7.42" text-anchor="end" textLength="14.0" lengthAdjust="spacingAndGlyphs" >CD4</text>
<text x="211.6" y="374.9" font-size="7.42" text-anchor="end" textLength="17.9" lengthAdjust="spacingAndGlyphs" >CD8a</text>
<text x="211.6" y="381.4" font-size="7.42" text-anchor="end" textLength="27.6" lengthAdjust="spacingAndGlyphs" >CD45RA</text>
<text x="211.6" y="387.8" font-size="7.42" text-anchor="end" textLength="28.4" lengthAdjust="spacingAndGlyphs" >CD45RO</text>
<text x="211.6" y="394.3" font-size="7.42" text-anchor="end" textLength="21.8" lengthAdjust="spacingAndGlyphs" >CD62L</text>
<text x="211.6" y="400.7" font-size="7.42" text-anchor="end" textLength="17.9" lengthAdjust="spacingAndGlyphs" >CD27</text>
<text x="211.6" y="407.1" font-size="7.42" text-anchor="end" textLength="17.9" lengthAdjust="spacingAndGlyphs" >CD28</text>
<text x="211.6" y="413.6" font-size="7.42" text-anchor="end" textLength="19.5" lengthAdjust="spacingAndGlyphs" >IL7RA</text>
<text x="211.6" y="420.0" font-size="7.42" text-anchor="end" textLength="23.7" lengthAdjust="spacingAndGlyphs" >HLADR</text>
<text x="211.6" y="426.5" font-size="7.42" text-anchor="end" textLength="17.9" lengthAdjust="spacingAndGlyphs" >CD56</text>
<text x="211.6" y="432.9" font-size="7.42" text-anchor="end" textLength="17.9" lengthAdjust="spacingAndGlyphs" >CD57</text>
<text x="211.6" y="439.4" font-size="7.42" text-anchor="end" textLength="19.8" lengthAdjust="spacingAndGlyphs" >CCRA</text>
<text x="237.3" y="449.9" font-size="8.27" textLength="68.8" lengthAdjust="spacingAndGlyphs" >CITE -seq  expression</text>
<defs><linearGradient id="gE" x1="0" x2="1"><stop offset="0" stop-color="#0c0c8c"/><stop offset="0.18" stop-color="#2848d0"/><stop offset="0.4" stop-color="#90e4e0"/><stop offset="0.62" stop-color="#e8f4a8"/><stop offset="0.75" stop-color="#f8f070"/><stop offset="0.88" stop-color="#f0a048"/><stop offset="1" stop-color="#d01414"/></linearGradient></defs>
<rect x="248.10" y="459.40" width="37.20" height="4.60" fill="url(#gE)" />
<text x="244.0" y="470.8" font-size="8.06" textLength="11.0" lengthAdjust="spacingAndGlyphs" >Min</text>
<text x="282.5" y="470.8" font-size="8.06" textLength="12.2" lengthAdjust="spacingAndGlyphs" >Max</text>
<rect x="387.10" y="231.00" width="16.10" height="7.40" fill="#e8f4fa" />
<rect x="403.20" y="231.00" width="23.80" height="7.40" fill="#a8e2ec" />
<rect x="427.00" y="231.00" width="16.20" height="7.40" fill="#3a8ae8" />
<rect x="443.20" y="231.00" width="9.30" height="7.40" fill="#f8b078" />
<rect x="452.50" y="231.00" width="10.00" height="7.40" fill="#ec4010" />
<rect x="462.50" y="231.00" width="25.40" height="7.40" fill="#940a0a" />
<rect x="487.90" y="231.00" width="10.30" height="7.40" fill="#142a22" />
<rect x="387.1" y="231.0" width="111.1" height="7.4" fill="none" stroke="#111" stroke-width="1"/>
<text x="384.9" y="247.3" font-size="7.31" text-anchor="end" font-style="italic" textLength="16.9" lengthAdjust="spacingAndGlyphs" >SELL</text>
<text x="384.9" y="254.7" font-size="7.31" text-anchor="end" font-style="italic" textLength="14.6" lengthAdjust="spacingAndGlyphs" >IL7R</text>
<text x="384.9" y="262.1" font-size="7.31" text-anchor="end" font-style="italic" textLength="17.6" lengthAdjust="spacingAndGlyphs" >CD27</text>
<text x="384.9" y="269.6" font-size="7.31" text-anchor="end" font-style="italic" textLength="17.6" lengthAdjust="spacingAndGlyphs" >CD28</text>
<text x="384.9" y="277.0" font-size="7.31" text-anchor="end" font-style="italic" textLength="17.6" lengthAdjust="spacingAndGlyphs" >TIGIT</text>
<text x="384.9" y="284.4" font-size="7.31" text-anchor="end" font-style="italic" textLength="17.6" lengthAdjust="spacingAndGlyphs" >LAG3</text>
<text x="384.9" y="291.8" font-size="7.31" text-anchor="end" font-style="italic" textLength="22.6" lengthAdjust="spacingAndGlyphs" >KLRG1</text>
<text x="384.9" y="299.2" font-size="7.31" text-anchor="end" font-style="italic" textLength="21.9" lengthAdjust="spacingAndGlyphs" >KLRB1</text>
<text x="384.9" y="306.6" font-size="7.31" text-anchor="end" font-style="italic" textLength="31.1" lengthAdjust="spacingAndGlyphs" >TNFRSF4</text>
<text x="384.9" y="314.0" font-size="7.31" text-anchor="end" font-style="italic" textLength="16.9" lengthAdjust="spacingAndGlyphs" >ICOS</text>
<text x="384.9" y="321.5" font-size="7.31" text-anchor="end" font-style="italic" textLength="20.7" lengthAdjust="spacingAndGlyphs" >ITGAE</text>
<text x="384.9" y="328.9" font-size="7.31" text-anchor="end" font-style="italic" textLength="17.6" lengthAdjust="spacingAndGlyphs" >CD69</text>
<text x="384.9" y="336.3" font-size="7.31" text-anchor="end" font-style="italic" textLength="19.2" lengthAdjust="spacingAndGlyphs" >IL2RA</text>
<text x="384.9" y="343.7" font-size="7.31" text-anchor="end" font-style="italic" textLength="19.2" lengthAdjust="spacingAndGlyphs" >IL2RB</text>
<text x="384.9" y="351.1" font-size="7.31" text-anchor="end" font-style="italic" textLength="19.9" lengthAdjust="spacingAndGlyphs" >GZMA</text>
<text x="384.9" y="358.5" font-size="7.31" text-anchor="end" font-style="italic" textLength="19.9" lengthAdjust="spacingAndGlyphs" >GZMB</text>
<text x="384.9" y="365.9" font-size="7.31" text-anchor="end" font-style="italic" textLength="20.3" lengthAdjust="spacingAndGlyphs" >GZMH</text>
<text x="384.9" y="373.4" font-size="7.31" text-anchor="end" font-style="italic" textLength="19.9" lengthAdjust="spacingAndGlyphs" >GZMK</text>
<text x="384.9" y="380.8" font-size="7.31" text-anchor="end" font-style="italic" textLength="21.1" lengthAdjust="spacingAndGlyphs" >GZMM</text>
<text x="384.9" y="388.2" font-size="7.31" text-anchor="end" font-style="italic" textLength="17.6" lengthAdjust="spacingAndGlyphs" >PRF1</text>
<text x="384.9" y="395.6" font-size="7.31" text-anchor="end" font-style="italic" textLength="16.5" lengthAdjust="spacingAndGlyphs" >IFNG</text>
<text x="384.9" y="403.0" font-size="7.31" text-anchor="end" font-style="italic" textLength="13.4" lengthAdjust="spacingAndGlyphs" >TNF</text>
<text x="384.9" y="410.4" font-size="7.31" text-anchor="end" font-style="italic" textLength="17.6" lengthAdjust="spacingAndGlyphs" >CCL3</text>
<text x="384.9" y="417.8" font-size="7.31" text-anchor="end" font-style="italic" textLength="17.6" lengthAdjust="spacingAndGlyphs" >CCL4</text>
<text x="384.9" y="425.3" font-size="7.31" text-anchor="end" font-style="italic" textLength="17.6" lengthAdjust="spacingAndGlyphs" >CCL5</text>
<text x="384.9" y="432.7" font-size="7.31" text-anchor="end" font-style="italic" textLength="17.3" lengthAdjust="spacingAndGlyphs" >XCL1</text>
<text x="384.9" y="440.1" font-size="7.31" text-anchor="end" font-style="italic" textLength="17.3" lengthAdjust="spacingAndGlyphs" >TCF7</text>
<path d="M387.2 241.0h1.8v7.8h-1.8z" fill="#785aaa"/>
<path d="M388.6 241.0h1.8v7.8h-1.8z" fill="#6e78c8"/>
<path d="M390.0 241.0h1.8v7.8h-1.8zM401.0 241.0h3.2v7.8h-3.2zM439.7 270.7h1.8v7.8h-1.8zM431.4 285.5h1.8v7.8h-1.8z" fill="#5a82d2"/>
<path d="M391.3 241.0h1.8v7.8h-1.8zM395.5 241.0h1.8v7.8h-1.8z" fill="#8264aa"/>
<path d="M392.7 241.0h1.8v7.8h-1.8z" fill="#8c6eb4"/>
<path d="M394.1 241.0h1.8v7.8h-1.8zM427.3 241.0h1.8v7.8h-1.8zM430.1 241.0h1.8v7.8h-1.8zM450.8 270.7h1.8v7.8h-1.8zM446.6 419.0h1.8v7.8h-1.8zM453.6 419.0h1.8v7.8h-1.8zM459.1 419.0h3.2v7.8h-3.2z" fill="#7864aa"/>
<path d="M396.9 241.0h1.8v7.8h-1.8z" fill="#963264"/>
<path d="M398.3 241.0h1.8v7.8h-1.8z" fill="#7882d2"/>
<path d="M399.6 241.0h1.8v7.8h-1.8zM441.1 241.0h1.8v7.8h-1.8z" fill="#5a82dc"/>
<path d="M403.8 241.0h1.8v7.8h-1.8zM409.3 241.0h1.8v7.8h-1.8zM417.6 241.0h1.8v7.8h-1.8zM434.2 241.0h1.8v7.8h-1.8zM427.3 255.8h1.8v7.8h-1.8zM399.6 292.9h1.8v7.8h-1.8zM409.3 292.9h1.8v7.8h-1.8zM413.5 292.9h1.8v7.8h-1.8zM419.0 292.9h3.2v7.8h-3.2zM463.2 322.6h3.2v7.8h-3.2zM485.4 322.6h1.8v7.8h-1.8zM391.3 330.0h1.8v7.8h-1.8zM388.6 367.1h1.8v7.8h-1.8zM428.7 367.1h1.8v7.8h-1.8zM442.5 367.1h1.8v7.8h-1.8zM479.8 367.1h1.8v7.8h-1.8z" fill="#7864b4"/>
<path d="M405.2 241.0h1.8v7.8h-1.8zM407.9 241.0h1.8v7.8h-1.8zM410.7 241.0h1.8v7.8h-1.8zM431.4 241.0h3.2v7.8h-3.2zM394.1 255.8h1.8v7.8h-1.8zM405.2 255.8h1.8v7.8h-1.8zM419.0 255.8h1.8v7.8h-1.8zM425.9 255.8h1.8v7.8h-1.8zM394.1 270.7h1.8v7.8h-1.8zM410.7 270.7h1.8v7.8h-1.8zM398.3 292.9h1.8v7.8h-1.8zM412.1 292.9h1.8v7.8h-1.8zM424.5 292.9h1.8v7.8h-1.8zM403.8 300.3h1.8v7.8h-1.8zM412.1 300.3h1.8v7.8h-1.8zM423.1 300.3h1.8v7.8h-1.8zM430.1 300.3h1.8v7.8h-1.8zM432.8 300.3h1.8v7.8h-1.8zM437.0 300.3h1.8v7.8h-1.8zM488.1 300.3h3.2v7.8h-3.2zM492.3 300.3h3.2v7.8h-3.2zM395.5 330.0h1.8v7.8h-1.8zM402.4 330.0h1.8v7.8h-1.8zM405.2 367.1h1.8v7.8h-1.8zM410.7 367.1h1.8v7.8h-1.8zM416.2 367.1h1.8v7.8h-1.8zM419.0 367.1h1.8v7.8h-1.8zM425.9 367.1h1.8v7.8h-1.8zM441.1 367.1h1.8v7.8h-1.8zM482.6 367.1h1.8v7.8h-1.8zM391.3 433.8h1.8v7.4h-1.8zM401.0 433.8h3.2v7.4h-3.2zM439.7 433.8h3.2v7.4h-3.2z" fill="#5a8ce6"/>
<path d="M406.6 241.0h1.8v7.8h-1.8zM419.0 241.0h1.8v7.8h-1.8zM421.8 241.0h1.8v7.8h-1.8zM424.5 241.0h1.8v7.8h-1.8zM395.5 255.8h1.8v7.8h-1.8zM421.8 255.8h1.8v7.8h-1.8zM428.7 255.8h1.8v7.8h-1.8zM434.2 255.8h1.8v7.8h-1.8zM387.2 270.7h1.8v7.8h-1.8zM390.0 270.7h1.8v7.8h-1.8zM398.3 270.7h3.2v7.8h-3.2zM403.8 270.7h1.8v7.8h-1.8zM412.1 270.7h1.8v7.8h-1.8zM416.2 270.7h1.8v7.8h-1.8zM421.8 270.7h1.8v7.8h-1.8zM493.7 270.7h1.8v7.8h-1.8zM387.2 292.9h1.8v7.8h-1.8zM390.0 292.9h1.8v7.8h-1.8zM396.9 292.9h1.8v7.8h-1.8zM406.6 292.9h1.8v7.8h-1.8zM410.7 292.9h1.8v7.8h-1.8zM419.0 300.3h1.8v7.8h-1.8zM425.9 300.3h1.8v7.8h-1.8zM439.7 300.3h1.8v7.8h-1.8zM442.5 300.3h1.8v7.8h-1.8zM424.5 322.6h1.8v7.8h-1.8zM477.1 322.6h1.8v7.8h-1.8zM392.7 330.0h3.2v7.8h-3.2zM401.0 330.0h1.8v7.8h-1.8zM427.3 344.8h1.8v7.8h-1.8zM431.4 344.8h1.8v7.8h-1.8zM435.6 344.8h1.8v7.8h-1.8zM439.7 344.8h1.8v7.8h-1.8zM442.5 344.8h1.8v7.8h-1.8zM463.2 344.8h4.6v7.8h-4.6zM394.1 367.1h3.2v7.8h-3.2zM403.8 367.1h1.8v7.8h-1.8zM413.5 367.1h1.8v7.8h-1.8zM420.4 367.1h1.8v7.8h-1.8zM463.2 367.1h3.2v7.8h-3.2zM474.3 367.1h1.8v7.8h-1.8zM478.4 367.1h1.8v7.8h-1.8zM484.0 367.1h1.8v7.8h-1.8zM387.2 433.8h1.8v7.4h-1.8zM428.7 433.8h1.8v7.4h-1.8zM442.5 433.8h1.8v7.4h-1.8z" fill="#5082dc"/>
<path d="M412.1 241.0h1.8v7.8h-1.8zM396.9 255.8h1.8v7.8h-1.8zM407.9 255.8h3.2v7.8h-3.2zM412.1 255.8h1.8v7.8h-1.8zM420.4 255.8h1.8v7.8h-1.8zM437.0 255.8h1.8v7.8h-1.8zM441.1 255.8h1.8v7.8h-1.8zM407.9 270.7h1.8v7.8h-1.8zM402.4 292.9h1.8v7.8h-1.8zM416.2 292.9h3.2v7.8h-3.2zM409.3 300.3h3.2v7.8h-3.2zM441.1 300.3h1.8v7.8h-1.8zM387.2 367.1h1.8v7.8h-1.8zM401.0 367.1h1.8v7.8h-1.8zM417.6 367.1h1.8v7.8h-1.8zM423.1 367.1h1.8v7.8h-1.8zM431.4 367.1h1.8v7.8h-1.8zM434.2 367.1h3.2v7.8h-3.2zM471.5 367.1h1.8v7.8h-1.8zM485.4 367.1h1.8v7.8h-1.8zM427.3 433.8h1.8v7.4h-1.8zM430.1 433.8h1.8v7.4h-1.8zM437.0 433.8h1.8v7.4h-1.8z" fill="#508cdc"/>
<path d="M413.5 241.0h1.8v7.8h-1.8zM424.5 255.8h1.8v7.8h-1.8zM435.6 255.8h1.8v7.8h-1.8zM392.7 270.7h1.8v7.8h-1.8zM401.0 292.9h1.8v7.8h-1.8zM406.6 300.3h1.8v7.8h-1.8zM414.9 300.3h1.8v7.8h-1.8zM466.0 322.6h1.8v7.8h-1.8zM396.9 367.1h1.8v7.8h-1.8zM399.6 367.1h1.8v7.8h-1.8zM438.4 367.1h1.8v7.8h-1.8zM477.1 367.1h1.8v7.8h-1.8z" fill="#786ebe"/>
<path d="M414.9 241.0h1.8v7.8h-1.8zM453.6 255.8h1.8v7.8h-1.8zM477.1 285.5h1.8v7.8h-1.8zM486.7 285.5h1.8v7.8h-1.8zM461.9 352.2h1.8v7.8h-1.8zM478.4 352.2h1.8v7.8h-1.8zM466.0 359.6h1.8v7.8h-1.8zM459.1 367.1h3.2v7.8h-3.2zM470.1 381.9h1.8v7.8h-1.8zM484.0 381.9h3.2v7.8h-3.2zM407.9 433.8h1.8v7.4h-1.8zM416.2 433.8h1.8v7.4h-1.8z" fill="#5a78c8"/>
<path d="M416.2 241.0h1.8v7.8h-1.8zM392.7 292.9h1.8v7.8h-1.8zM414.9 292.9h1.8v7.8h-1.8zM398.3 330.0h1.8v7.8h-1.8zM430.1 344.8h1.8v7.8h-1.8zM388.6 433.8h1.8v7.4h-1.8zM392.7 433.8h1.8v7.4h-1.8zM435.6 433.8h1.8v7.4h-1.8z" fill="#8278be"/>
<path d="M420.4 241.0h1.8v7.8h-1.8zM431.4 255.8h3.2v7.8h-3.2zM438.4 255.8h3.2v7.8h-3.2zM402.4 270.7h1.8v7.8h-1.8zM419.0 270.7h1.8v7.8h-1.8zM391.3 292.9h1.8v7.8h-1.8zM423.1 292.9h1.8v7.8h-1.8zM417.6 300.3h1.8v7.8h-1.8zM421.8 300.3h1.8v7.8h-1.8zM438.4 300.3h1.8v7.8h-1.8zM396.9 330.0h1.8v7.8h-1.8zM425.9 344.8h1.8v7.8h-1.8zM428.7 344.8h1.8v7.8h-1.8zM390.0 367.1h3.2v7.8h-3.2zM402.4 367.1h1.8v7.8h-1.8zM427.3 367.1h1.8v7.8h-1.8zM432.8 367.1h1.8v7.8h-1.8zM467.4 367.1h1.8v7.8h-1.8zM472.9 367.1h1.8v7.8h-1.8zM486.7 367.1h1.8v7.8h-1.8zM396.9 433.8h1.8v7.4h-1.8zM432.8 433.8h1.8v7.4h-1.8z" fill="#786eb4"/>
<path d="M423.1 241.0h1.8v7.8h-1.8zM428.7 241.0h1.8v7.8h-1.8zM396.9 270.7h1.8v7.8h-1.8zM448.0 270.7h1.8v7.8h-1.8zM495.0 270.7h1.8v7.8h-1.8zM407.9 300.3h1.8v7.8h-1.8zM435.6 300.3h1.8v7.8h-1.8zM490.9 300.3h1.8v7.8h-1.8zM456.3 322.6h1.8v7.8h-1.8zM472.9 344.8h1.8v7.8h-1.8zM409.3 367.1h1.8v7.8h-1.8zM457.7 419.0h1.8v7.8h-1.8zM395.5 433.8h1.8v7.4h-1.8zM438.4 433.8h1.8v7.4h-1.8z" fill="#826ebe"/>
<path d="M425.9 241.0h1.8v7.8h-1.8zM454.9 255.8h1.8v7.8h-1.8zM468.8 352.2h1.8v7.8h-1.8zM456.3 367.1h1.8v7.8h-1.8zM479.8 381.9h1.8v7.8h-1.8zM405.2 433.8h1.8v7.4h-1.8z" fill="#5a6ebe"/>
<path d="M435.6 241.0h1.8v7.8h-1.8zM468.8 344.8h1.8v7.8h-1.8zM464.6 352.2h1.8v7.8h-1.8zM472.9 352.2h1.8v7.8h-1.8zM475.7 352.2h3.2v7.8h-3.2zM492.3 359.6h1.8v7.8h-1.8zM453.6 367.1h1.8v7.8h-1.8zM477.1 381.9h1.8v7.8h-1.8zM420.4 433.8h1.8v7.4h-1.8z" fill="#6478c8"/>
<path d="M437.0 241.0h1.8v7.8h-1.8zM452.2 255.8h1.8v7.8h-1.8zM470.1 344.8h1.8v7.8h-1.8z" fill="#6e82d2"/>
<path d="M438.4 241.0h1.8v7.8h-1.8zM492.3 270.7h1.8v7.8h-1.8zM496.4 300.3h1.8v7.8h-1.8z" fill="#5078d2"/>
<path d="M439.7 241.0h1.8v7.8h-1.8zM445.3 270.7h1.8v7.8h-1.8zM456.3 419.0h1.8v7.8h-1.8z" fill="#5a8cdc"/>
<path d="M442.5 241.0h1.8v7.8h-1.8zM443.9 270.7h1.8v7.8h-1.8zM488.1 270.7h1.8v7.8h-1.8zM492.3 315.1h1.8v7.8h-1.8zM479.8 337.4h1.8v7.8h-1.8zM482.6 337.4h1.8v7.8h-1.8zM481.2 404.1h1.8v7.8h-1.8zM484.0 404.1h3.2v7.8h-3.2z" fill="#826eb4"/>
<path d="M443.9 241.0h1.8v7.8h-1.8zM398.3 300.3h1.8v7.8h-1.8z" fill="#b42846"/>
<path d="M445.3 241.0h1.8v7.8h-1.8zM448.0 241.0h3.2v7.8h-3.2zM390.0 300.3h1.8v7.8h-1.8zM395.5 300.3h1.8v7.8h-1.8zM401.0 300.3h1.8v7.8h-1.8zM484.0 344.8h3.2v7.8h-3.2z" fill="#96508c"/>
<path d="M446.6 241.0h1.8v7.8h-1.8zM391.3 300.3h1.8v7.8h-1.8zM481.2 344.8h1.8v7.8h-1.8zM479.8 359.6h1.8v7.8h-1.8z" fill="#8c4682"/>
<path d="M450.8 241.0h1.8v7.8h-1.8zM387.2 300.3h1.8v7.8h-1.8zM399.6 300.3h1.8v7.8h-1.8z" fill="#aa1e3c"/>
<path d="M452.2 241.0h1.8v7.8h-1.8zM459.1 241.0h1.8v7.8h-1.8z" fill="#648cdc"/>
<path d="M453.6 241.0h1.8v7.8h-1.8zM475.7 255.8h1.8v7.8h-1.8zM392.7 285.5h1.8v7.8h-1.8zM423.1 285.5h1.8v7.8h-1.8zM464.6 292.9h1.8v7.8h-1.8zM409.3 330.0h1.8v7.8h-1.8zM420.4 330.0h1.8v7.8h-1.8zM406.6 381.9h1.8v7.8h-1.8zM468.8 433.8h1.8v7.4h-1.8zM485.4 433.8h1.8v7.4h-1.8z" fill="#82c8fa"/>
<path d="M454.9 241.0h1.8v7.8h-1.8zM446.6 255.8h1.8v7.8h-1.8zM461.9 285.5h1.8v7.8h-1.8zM479.8 285.5h1.8v7.8h-1.8zM474.3 352.2h1.8v7.8h-1.8zM457.7 367.1h1.8v7.8h-1.8z" fill="#6482d2"/>
<path d="M456.3 241.0h1.8v7.8h-1.8zM392.7 263.2h1.8v7.8h-1.8z" fill="#6e8cdc"/>
<path d="M457.7 241.0h1.8v7.8h-1.8z" fill="#648cd2"/>
<path d="M460.5 241.0h1.8v7.8h-1.8z" fill="#7896e6"/>
<path d="M461.9 241.0h1.8v7.8h-1.8z" fill="#3c78dc"/>
<path d="M463.2 241.0h1.8v7.8h-1.8zM479.8 241.0h1.8v7.8h-1.8zM485.4 248.4h1.8v7.8h-1.8zM390.0 344.8h1.8v7.8h-1.8z" fill="#2846e6"/>
<path d="M464.6 241.0h1.8v7.8h-1.8zM468.8 241.0h1.8v7.8h-1.8z" fill="#508cf0"/>
<path d="M466.0 241.0h1.8v7.8h-1.8zM470.1 241.0h1.8v7.8h-1.8zM472.9 241.0h1.8v7.8h-1.8zM482.6 241.0h3.2v7.8h-3.2zM388.6 344.8h1.8v7.8h-1.8zM394.1 344.8h1.8v7.8h-1.8z" fill="#4682e6"/>
<path d="M467.4 241.0h1.8v7.8h-1.8zM477.1 241.0h1.8v7.8h-1.8z" fill="#468cf0"/>
<path d="M471.5 241.0h1.8v7.8h-1.8zM474.3 241.0h1.8v7.8h-1.8z" fill="#3c82e6"/>
<path d="M475.7 241.0h1.8v7.8h-1.8zM466.0 248.4h1.8v7.8h-1.8zM475.7 248.4h1.8v7.8h-1.8zM387.2 344.8h1.8v7.8h-1.8zM402.4 344.8h1.8v7.8h-1.8z" fill="#3c78e6"/>
<path d="M478.4 241.0h1.8v7.8h-1.8zM481.2 241.0h1.8v7.8h-1.8zM399.6 344.8h1.8v7.8h-1.8z" fill="#1e46dc"/>
<path d="M485.4 241.0h1.8v7.8h-1.8z" fill="#5096fa"/>
<path d="M486.7 241.0h1.8v7.8h-1.8z" fill="#2846dc"/>
<path d="M488.1 241.0h1.8v7.8h-1.8zM493.7 241.0h3.2v7.8h-3.2zM416.2 255.8h1.8v7.8h-1.8zM427.3 270.7h1.8v7.8h-1.8zM430.1 270.7h1.8v7.8h-1.8zM432.8 270.7h1.8v7.8h-1.8zM438.4 270.7h1.8v7.8h-1.8zM454.9 270.7h1.8v7.8h-1.8zM413.5 285.5h1.8v7.8h-1.8zM432.8 285.5h1.8v7.8h-1.8zM395.5 292.9h1.8v7.8h-1.8zM425.9 292.9h1.8v7.8h-1.8zM449.4 292.9h1.8v7.8h-1.8zM470.1 300.3h1.8v7.8h-1.8zM441.1 344.8h1.8v7.8h-1.8zM452.2 344.8h1.8v7.8h-1.8zM430.1 352.2h1.8v7.8h-1.8zM445.3 352.2h1.8v7.8h-1.8zM405.2 381.9h1.8v7.8h-1.8zM434.2 381.9h1.8v7.8h-1.8zM437.0 381.9h3.2v7.8h-3.2zM472.9 433.8h1.8v7.4h-1.8z" fill="#5a96f0"/>
<path d="M489.5 241.0h4.6v7.8h-4.6zM434.2 270.7h1.8v7.8h-1.8zM457.7 270.7h1.8v7.8h-1.8zM425.9 285.5h1.8v7.8h-1.8zM435.6 285.5h1.8v7.8h-1.8zM441.1 285.5h1.8v7.8h-1.8z" fill="#6482dc"/>
<path d="M496.4 241.0h1.8v7.8h-1.8zM387.2 255.8h4.6v7.8h-4.6zM398.3 255.8h1.8v7.8h-1.8zM402.4 255.8h3.2v7.8h-3.2zM406.6 255.8h1.8v7.8h-1.8zM410.7 255.8h1.8v7.8h-1.8zM413.5 255.8h3.2v7.8h-3.2zM417.6 255.8h1.8v7.8h-1.8zM461.9 255.8h1.8v7.8h-1.8zM467.4 255.8h1.8v7.8h-1.8zM477.1 255.8h1.8v7.8h-1.8zM395.5 270.7h1.8v7.8h-1.8zM401.0 270.7h1.8v7.8h-1.8zM406.6 270.7h1.8v7.8h-1.8zM409.3 270.7h1.8v7.8h-1.8zM417.6 270.7h1.8v7.8h-1.8zM423.1 270.7h3.2v7.8h-3.2zM435.6 270.7h3.2v7.8h-3.2zM441.1 270.7h1.8v7.8h-1.8zM453.6 270.7h1.8v7.8h-1.8zM456.3 270.7h1.8v7.8h-1.8zM459.1 270.7h1.8v7.8h-1.8zM409.3 285.5h1.8v7.8h-1.8zM412.1 285.5h1.8v7.8h-1.8zM437.0 285.5h3.2v7.8h-3.2zM446.6 285.5h1.8v7.8h-1.8zM388.6 292.9h1.8v7.8h-1.8zM421.8 292.9h1.8v7.8h-1.8zM427.3 292.9h3.2v7.8h-3.2zM431.4 292.9h1.8v7.8h-1.8zM448.0 292.9h1.8v7.8h-1.8zM477.1 292.9h1.8v7.8h-1.8zM420.4 300.3h1.8v7.8h-1.8zM434.2 300.3h1.8v7.8h-1.8zM445.3 300.3h1.8v7.8h-1.8zM464.6 300.3h1.8v7.8h-1.8zM477.1 300.3h1.8v7.8h-1.8zM419.0 344.8h1.8v7.8h-1.8zM432.8 344.8h1.8v7.8h-1.8zM446.6 344.8h1.8v7.8h-1.8zM457.7 344.8h1.8v7.8h-1.8zM392.7 352.2h1.8v7.8h-1.8zM395.5 352.2h1.8v7.8h-1.8zM416.2 352.2h1.8v7.8h-1.8zM442.5 352.2h1.8v7.8h-1.8zM450.8 352.2h1.8v7.8h-1.8zM453.6 352.2h1.8v7.8h-1.8zM460.5 352.2h1.8v7.8h-1.8zM399.6 359.6h1.8v7.8h-1.8zM403.8 359.6h1.8v7.8h-1.8zM409.3 359.6h1.8v7.8h-1.8zM412.1 359.6h1.8v7.8h-1.8zM430.1 359.6h1.8v7.8h-1.8zM439.7 359.6h1.8v7.8h-1.8zM392.7 367.1h1.8v7.8h-1.8zM430.1 367.1h1.8v7.8h-1.8zM437.0 367.1h1.8v7.8h-1.8zM468.8 367.1h1.8v7.8h-1.8zM489.5 367.1h1.8v7.8h-1.8zM388.6 411.5h1.8v7.8h-1.8zM394.1 411.5h1.8v7.8h-1.8zM396.9 411.5h1.8v7.8h-1.8zM402.4 411.5h1.8v7.8h-1.8zM417.6 411.5h3.2v7.8h-3.2zM427.3 411.5h1.8v7.8h-1.8zM452.2 411.5h1.8v7.8h-1.8zM456.3 411.5h1.8v7.8h-1.8zM460.5 411.5h1.8v7.8h-1.8zM431.4 433.8h1.8v7.4h-1.8zM456.3 433.8h1.8v7.4h-1.8z" fill="#508ce6"/>
<path d="M387.2 248.4h1.8v7.8h-1.8z" fill="#aa6ea0"/>
<path d="M388.6 248.4h1.8v7.8h-1.8zM391.3 248.4h1.8v7.8h-1.8zM396.9 248.4h1.8v7.8h-1.8z" fill="#c8828c"/>
<path d="M390.0 248.4h1.8v7.8h-1.8zM398.3 248.4h1.8v7.8h-1.8z" fill="#d28c8c"/>
<path d="M392.7 248.4h1.8v7.8h-1.8z" fill="#dc8c96"/>
<path d="M394.1 248.4h1.8v7.8h-1.8zM446.6 322.6h1.8v7.8h-1.8z" fill="#dc6e50"/>
<path d="M395.5 248.4h1.8v7.8h-1.8z" fill="#be3c50"/>
<path d="M399.6 248.4h1.8v7.8h-1.8zM448.0 322.6h3.2v7.8h-3.2z" fill="#d26446"/>
<path d="M401.0 248.4h1.8v7.8h-1.8zM445.3 322.6h1.8v7.8h-1.8z" fill="#e6785a"/>
<path d="M402.4 248.4h1.8v7.8h-1.8z" fill="#dc7850"/>
<path d="M403.8 248.4h1.8v7.8h-1.8zM421.8 248.4h1.8v7.8h-1.8zM459.1 374.5h3.2v7.8h-3.2z" fill="#966ea0"/>
<path d="M405.2 248.4h1.8v7.8h-1.8z" fill="#d27864"/>
<path d="M406.6 248.4h1.8v7.8h-1.8z" fill="#a06eaa"/>
<path d="M407.9 248.4h1.8v7.8h-1.8zM417.6 248.4h1.8v7.8h-1.8z" fill="#6e8cc8"/>
<path d="M409.3 248.4h1.8v7.8h-1.8zM413.5 248.4h3.2v7.8h-3.2z" fill="#c88c96"/>
<path d="M410.7 248.4h1.8v7.8h-1.8z" fill="#c86e5a"/>
<path d="M412.1 248.4h1.8v7.8h-1.8zM456.3 374.5h1.8v7.8h-1.8z" fill="#dc826e"/>
<path d="M416.2 248.4h1.8v7.8h-1.8zM401.0 322.6h1.8v7.8h-1.8z" fill="#d26e5a"/>
<path d="M419.0 248.4h1.8v7.8h-1.8zM434.2 248.4h1.8v7.8h-1.8z" fill="#be8c96"/>
<path d="M420.4 248.4h1.8v7.8h-1.8z" fill="#d296a0"/>
<path d="M423.1 248.4h1.8v7.8h-1.8z" fill="#d2785a"/>
<path d="M424.5 248.4h1.8v7.8h-1.8z" fill="#c896a0"/>
<path d="M425.9 248.4h1.8v7.8h-1.8zM474.3 278.1h1.8v7.8h-1.8z" fill="#a03250"/>
<path d="M427.3 248.4h6.0v7.8h-6.0zM468.8 278.1h3.2v7.8h-3.2zM472.9 278.1h1.8v7.8h-1.8zM477.1 278.1h1.8v7.8h-1.8zM484.0 278.1h1.8v7.8h-1.8zM485.4 285.5h1.8v7.8h-1.8zM466.0 352.2h3.2v7.8h-3.2zM481.2 352.2h1.8v7.8h-1.8zM484.0 352.2h1.8v7.8h-1.8zM464.6 359.6h1.8v7.8h-1.8zM463.2 381.9h1.8v7.8h-1.8zM496.4 404.1h1.8v7.8h-1.8zM419.0 433.8h1.8v7.4h-1.8z" fill="#8c64a0"/>
<path d="M432.8 248.4h1.8v7.8h-1.8zM457.7 255.8h1.8v7.8h-1.8zM471.5 352.2h1.8v7.8h-1.8zM485.4 352.2h1.8v7.8h-1.8zM470.1 359.6h1.8v7.8h-1.8zM488.1 359.6h1.8v7.8h-1.8zM466.0 381.9h1.8v7.8h-1.8zM475.7 381.9h1.8v7.8h-1.8zM423.1 433.8h1.8v7.4h-1.8z" fill="#962850"/>
<path d="M435.6 248.4h1.8v7.8h-1.8zM394.1 322.6h1.8v7.8h-1.8zM461.9 411.5h1.8v7.8h-1.8zM466.0 411.5h1.8v7.8h-1.8zM468.8 411.5h1.8v7.8h-1.8z" fill="#9664a0"/>
<path d="M437.0 248.4h1.8v7.8h-1.8z" fill="#5a6eb4"/>
<path d="M438.4 248.4h1.8v7.8h-1.8z" fill="#6478be"/>
<path d="M439.7 248.4h1.8v7.8h-1.8z" fill="#be8296"/>
<path d="M441.1 248.4h1.8v7.8h-1.8zM456.3 248.4h1.8v7.8h-1.8z" fill="#c896aa"/>
<path d="M442.5 248.4h1.8v7.8h-1.8zM443.9 255.8h1.8v7.8h-1.8zM449.4 255.8h1.8v7.8h-1.8zM466.0 278.1h1.8v7.8h-1.8zM467.4 285.5h3.2v7.8h-3.2zM474.3 285.5h1.8v7.8h-1.8zM470.1 352.2h1.8v7.8h-1.8zM467.4 359.6h1.8v7.8h-1.8zM472.9 359.6h1.8v7.8h-1.8zM493.7 359.6h1.8v7.8h-1.8zM454.9 367.1h1.8v7.8h-1.8zM461.9 381.9h1.8v7.8h-1.8zM467.4 381.9h1.8v7.8h-1.8zM471.5 381.9h4.6v7.8h-4.6zM481.2 381.9h1.8v7.8h-1.8zM409.3 433.8h1.8v7.4h-1.8zM413.5 433.8h3.2v7.4h-3.2z" fill="#a0325a"/>
<path d="M443.9 248.4h1.8v7.8h-1.8zM449.4 248.4h1.8v7.8h-1.8zM453.6 248.4h1.8v7.8h-1.8zM457.7 248.4h1.8v7.8h-1.8z" fill="#9678b4"/>
<path d="M445.3 248.4h1.8v7.8h-1.8z" fill="#be96aa"/>
<path d="M446.6 248.4h1.8v7.8h-1.8z" fill="#96c8e6"/>
<path d="M448.0 248.4h1.8v7.8h-1.8z" fill="#be96a0"/>
<path d="M450.8 248.4h1.8v7.8h-1.8z" fill="#8cbedc"/>
<path d="M452.2 248.4h1.8v7.8h-1.8zM454.9 248.4h1.8v7.8h-1.8zM460.5 248.4h1.8v7.8h-1.8z" fill="#8cb4dc"/>
<path d="M459.1 248.4h1.8v7.8h-1.8z" fill="#96bedc"/>
<path d="M461.9 248.4h1.8v7.8h-1.8zM481.2 248.4h1.8v7.8h-1.8zM439.7 419.0h1.8v7.8h-1.8zM442.5 419.0h1.8v7.8h-1.8z" fill="#1e3ce6"/>
<path d="M463.2 248.4h1.8v7.8h-1.8zM482.6 248.4h1.8v7.8h-1.8zM392.7 344.8h1.8v7.8h-1.8zM396.9 344.8h3.2v7.8h-3.2z" fill="#4682f0"/>
<path d="M464.6 248.4h1.8v7.8h-1.8zM479.8 248.4h1.8v7.8h-1.8zM399.6 374.5h1.8v7.8h-1.8zM431.4 374.5h1.8v7.8h-1.8zM439.7 374.5h3.2v7.8h-3.2zM391.3 419.0h1.8v7.8h-1.8zM394.1 419.0h1.8v7.8h-1.8zM413.5 419.0h1.8v7.8h-1.8zM417.6 419.0h1.8v7.8h-1.8zM425.9 419.0h1.8v7.8h-1.8zM432.8 419.0h1.8v7.8h-1.8z" fill="#1e32dc"/>
<path d="M467.4 248.4h3.2v7.8h-3.2zM478.4 248.4h1.8v7.8h-1.8zM402.4 374.5h1.8v7.8h-1.8zM388.6 419.0h1.8v7.8h-1.8zM430.1 419.0h1.8v7.8h-1.8zM437.0 419.0h1.8v7.8h-1.8zM441.1 419.0h1.8v7.8h-1.8z" fill="#283ce6"/>
<path d="M470.1 248.4h1.8v7.8h-1.8zM484.0 248.4h1.8v7.8h-1.8z" fill="#1432d2"/>
<path d="M471.5 248.4h1.8v7.8h-1.8zM486.7 248.4h1.8v7.8h-1.8zM391.3 344.8h1.8v7.8h-1.8zM401.0 344.8h1.8v7.8h-1.8z" fill="#1e3cdc"/>
<path d="M472.9 248.4h1.8v7.8h-1.8zM432.8 374.5h1.8v7.8h-1.8zM403.8 419.0h3.2v7.8h-3.2zM416.2 419.0h1.8v7.8h-1.8zM423.1 419.0h1.8v7.8h-1.8zM427.3 419.0h1.8v7.8h-1.8z" fill="#1432dc"/>
<path d="M474.3 248.4h1.8v7.8h-1.8z" fill="#2846f0"/>
<path d="M477.1 248.4h1.8v7.8h-1.8z" fill="#4678f0"/>
<path d="M488.1 248.4h3.2v7.8h-3.2zM492.3 248.4h1.8v7.8h-1.8zM496.4 248.4h1.8v7.8h-1.8zM387.2 374.5h1.8v7.8h-1.8zM392.7 374.5h3.2v7.8h-3.2zM396.9 374.5h1.8v7.8h-1.8zM425.9 374.5h1.8v7.8h-1.8zM442.5 374.5h1.8v7.8h-1.8zM387.2 419.0h1.8v7.8h-1.8zM399.6 419.0h3.2v7.8h-3.2zM406.6 419.0h1.8v7.8h-1.8zM410.7 419.0h1.8v7.8h-1.8zM420.4 419.0h1.8v7.8h-1.8zM438.4 419.0h1.8v7.8h-1.8z" fill="#1428dc"/>
<path d="M490.9 248.4h1.8v7.8h-1.8zM493.7 248.4h3.2v7.8h-3.2zM388.6 374.5h3.2v7.8h-3.2zM395.5 374.5h1.8v7.8h-1.8zM398.3 374.5h1.8v7.8h-1.8zM401.0 374.5h1.8v7.8h-1.8zM427.3 374.5h4.6v7.8h-4.6zM434.2 374.5h6.0v7.8h-6.0zM390.0 419.0h1.8v7.8h-1.8zM392.7 419.0h1.8v7.8h-1.8zM396.9 419.0h3.2v7.8h-3.2zM402.4 419.0h1.8v7.8h-1.8zM409.3 419.0h1.8v7.8h-1.8zM412.1 419.0h1.8v7.8h-1.8zM414.9 419.0h1.8v7.8h-1.8zM421.8 419.0h1.8v7.8h-1.8zM424.5 419.0h1.8v7.8h-1.8zM428.7 419.0h1.8v7.8h-1.8zM435.6 419.0h1.8v7.8h-1.8z" fill="#1e32e6"/>
<path d="M391.3 255.8h1.8v7.8h-1.8zM399.6 255.8h1.8v7.8h-1.8zM423.1 255.8h1.8v7.8h-1.8zM478.4 255.8h1.8v7.8h-1.8zM388.6 270.7h1.8v7.8h-1.8zM413.5 270.7h1.8v7.8h-1.8zM428.7 285.5h1.8v7.8h-1.8zM413.5 300.3h1.8v7.8h-1.8zM427.3 300.3h1.8v7.8h-1.8zM388.6 330.0h1.8v7.8h-1.8zM390.0 352.2h3.2v7.8h-3.2zM427.3 359.6h1.8v7.8h-1.8zM406.6 367.1h1.8v7.8h-1.8zM421.8 367.1h1.8v7.8h-1.8zM424.5 367.1h1.8v7.8h-1.8zM466.0 367.1h1.8v7.8h-1.8zM495.0 367.1h1.8v7.8h-1.8zM460.5 381.9h1.8v7.8h-1.8zM395.5 411.5h1.8v7.8h-1.8zM398.3 411.5h1.8v7.8h-1.8zM403.8 411.5h1.8v7.8h-1.8zM410.7 411.5h1.8v7.8h-1.8zM446.6 411.5h1.8v7.8h-1.8zM394.1 433.8h1.8v7.4h-1.8zM398.3 433.8h1.8v7.4h-1.8zM425.9 433.8h1.8v7.4h-1.8z" fill="#4682dc"/>
<path d="M392.7 255.8h1.8v7.8h-1.8zM442.5 255.8h1.8v7.8h-1.8zM391.3 270.7h1.8v7.8h-1.8zM414.9 270.7h1.8v7.8h-1.8zM495.0 278.1h1.8v7.8h-1.8zM398.3 285.5h1.8v7.8h-1.8zM457.7 285.5h1.8v7.8h-1.8zM489.5 285.5h1.8v7.8h-1.8zM493.7 285.5h1.8v7.8h-1.8zM394.1 292.9h1.8v7.8h-1.8zM407.9 292.9h1.8v7.8h-1.8zM431.4 300.3h1.8v7.8h-1.8zM417.6 307.7h1.8v7.8h-1.8z" fill="#5a96e6"/>
<path d="M401.0 255.8h1.8v7.8h-1.8zM424.5 300.3h1.8v7.8h-1.8z" fill="#8278c8"/>
<path d="M430.1 255.8h1.8v7.8h-1.8zM405.2 270.7h1.8v7.8h-1.8zM420.4 270.7h1.8v7.8h-1.8zM405.2 300.3h1.8v7.8h-1.8zM428.7 300.3h1.8v7.8h-1.8zM434.2 344.8h1.8v7.8h-1.8zM407.9 367.1h1.8v7.8h-1.8zM439.7 367.1h1.8v7.8h-1.8zM390.0 433.8h1.8v7.4h-1.8zM399.6 433.8h1.8v7.4h-1.8z" fill="#6e64b4"/>
<path d="M445.3 255.8h1.8v7.8h-1.8zM478.4 285.5h1.8v7.8h-1.8zM468.8 359.6h1.8v7.8h-1.8zM464.6 381.9h1.8v7.8h-1.8zM478.4 381.9h1.8v7.8h-1.8z" fill="#aa3c64"/>
<path d="M448.0 255.8h1.8v7.8h-1.8zM474.3 374.5h1.8v7.8h-1.8zM481.2 374.5h1.8v7.8h-1.8zM482.6 381.9h1.8v7.8h-1.8z" fill="#785096"/>
<path d="M450.8 255.8h1.8v7.8h-1.8zM460.5 255.8h1.8v7.8h-1.8zM471.5 285.5h3.2v7.8h-3.2zM475.7 285.5h1.8v7.8h-1.8zM463.2 352.2h1.8v7.8h-1.8zM479.8 352.2h1.8v7.8h-1.8zM486.7 352.2h1.8v7.8h-1.8zM486.7 381.9h1.8v7.8h-1.8zM406.6 433.8h1.8v7.4h-1.8z" fill="#825aa0"/>
<path d="M456.3 255.8h1.8v7.8h-1.8zM459.1 255.8h1.8v7.8h-1.8zM463.2 285.5h1.8v7.8h-1.8zM484.0 285.5h1.8v7.8h-1.8zM474.3 359.6h1.8v7.8h-1.8zM417.6 433.8h1.8v7.4h-1.8zM424.5 433.8h1.8v7.4h-1.8z" fill="#8c64aa"/>
<path d="M463.2 255.8h1.8v7.8h-1.8zM466.0 255.8h1.8v7.8h-1.8zM468.8 255.8h3.2v7.8h-3.2zM474.3 255.8h1.8v7.8h-1.8zM485.4 255.8h1.8v7.8h-1.8zM442.5 270.7h1.8v7.8h-1.8zM460.5 270.7h1.8v7.8h-1.8zM406.6 285.5h1.8v7.8h-1.8zM421.8 285.5h1.8v7.8h-1.8zM450.8 285.5h1.8v7.8h-1.8zM434.2 292.9h1.8v7.8h-1.8zM437.0 292.9h3.2v7.8h-3.2zM443.9 292.9h1.8v7.8h-1.8zM446.6 292.9h1.8v7.8h-1.8zM452.2 292.9h4.6v7.8h-4.6zM468.8 292.9h1.8v7.8h-1.8zM443.9 300.3h1.8v7.8h-1.8zM446.6 300.3h3.2v7.8h-3.2zM452.2 300.3h1.8v7.8h-1.8zM460.5 300.3h4.6v7.8h-4.6zM467.4 300.3h1.8v7.8h-1.8zM471.5 300.3h3.2v7.8h-3.2zM475.7 300.3h1.8v7.8h-1.8zM449.4 344.8h1.8v7.8h-1.8zM387.2 352.2h1.8v7.8h-1.8zM398.3 352.2h6.0v7.8h-6.0zM406.6 352.2h1.8v7.8h-1.8zM412.1 352.2h1.8v7.8h-1.8zM414.9 352.2h1.8v7.8h-1.8zM419.0 352.2h1.8v7.8h-1.8zM423.1 352.2h1.8v7.8h-1.8zM432.8 352.2h3.2v7.8h-3.2zM437.0 352.2h1.8v7.8h-1.8zM439.7 352.2h3.2v7.8h-3.2zM443.9 352.2h1.8v7.8h-1.8zM456.3 352.2h1.8v7.8h-1.8zM459.1 352.2h1.8v7.8h-1.8zM396.9 359.6h3.2v7.8h-3.2zM405.2 359.6h1.8v7.8h-1.8zM410.7 359.6h1.8v7.8h-1.8zM416.2 359.6h3.2v7.8h-3.2zM420.4 359.6h1.8v7.8h-1.8zM423.1 359.6h1.8v7.8h-1.8zM431.4 359.6h1.8v7.8h-1.8zM434.2 359.6h6.0v7.8h-6.0zM441.1 359.6h1.8v7.8h-1.8zM445.3 359.6h3.2v7.8h-3.2zM456.3 359.6h1.8v7.8h-1.8zM493.7 367.1h1.8v7.8h-1.8zM396.9 381.9h1.8v7.8h-1.8zM412.1 381.9h1.8v7.8h-1.8zM446.6 381.9h1.8v7.8h-1.8zM450.8 381.9h4.6v7.8h-4.6zM391.3 411.5h3.2v7.8h-3.2zM423.1 411.5h4.6v7.8h-4.6zM430.1 411.5h4.6v7.8h-4.6zM435.6 411.5h1.8v7.8h-1.8zM439.7 411.5h1.8v7.8h-1.8zM443.9 411.5h1.8v7.8h-1.8zM449.4 411.5h3.2v7.8h-3.2zM457.7 411.5h1.8v7.8h-1.8zM446.6 433.8h1.8v7.4h-1.8zM449.4 433.8h1.8v7.4h-1.8zM452.2 433.8h1.8v7.4h-1.8zM454.9 433.8h1.8v7.4h-1.8zM457.7 433.8h3.2v7.4h-3.2zM490.9 433.8h3.2v7.4h-3.2zM495.0 433.8h3.2v7.4h-3.2z" fill="#5096f0"/>
<path d="M464.6 255.8h1.8v7.8h-1.8zM471.5 255.8h1.8v7.8h-1.8zM486.7 255.8h3.2v7.8h-3.2zM493.7 278.1h1.8v7.8h-1.8zM391.3 285.5h1.8v7.8h-1.8zM403.8 285.5h1.8v7.8h-1.8zM407.9 285.5h1.8v7.8h-1.8zM410.7 285.5h1.8v7.8h-1.8zM414.9 285.5h1.8v7.8h-1.8zM459.1 285.5h1.8v7.8h-1.8zM466.0 292.9h1.8v7.8h-1.8zM470.1 292.9h1.8v7.8h-1.8zM472.9 292.9h1.8v7.8h-1.8zM421.8 307.7h1.8v7.8h-1.8zM413.5 330.0h1.8v7.8h-1.8zM477.1 330.0h1.8v7.8h-1.8zM481.2 330.0h1.8v7.8h-1.8zM395.5 381.9h1.8v7.8h-1.8zM399.6 381.9h1.8v7.8h-1.8zM402.4 381.9h3.2v7.8h-3.2zM409.3 381.9h3.2v7.8h-3.2zM413.5 381.9h1.8v7.8h-1.8zM423.1 381.9h1.8v7.8h-1.8zM439.7 381.9h3.2v7.8h-3.2zM464.6 433.8h1.8v7.4h-1.8zM467.4 433.8h1.8v7.4h-1.8zM471.5 433.8h1.8v7.4h-1.8zM474.3 433.8h1.8v7.4h-1.8zM484.0 433.8h1.8v7.4h-1.8zM486.7 433.8h1.8v7.4h-1.8z" fill="#5096e6"/>
<path d="M472.9 255.8h1.8v7.8h-1.8zM484.0 255.8h1.8v7.8h-1.8zM428.7 270.7h1.8v7.8h-1.8zM417.6 285.5h1.8v7.8h-1.8zM430.1 285.5h1.8v7.8h-1.8zM442.5 285.5h1.8v7.8h-1.8zM495.0 285.5h1.8v7.8h-1.8zM461.9 292.9h1.8v7.8h-1.8zM423.1 307.7h1.8v7.8h-1.8zM391.3 381.9h1.8v7.8h-1.8zM419.0 381.9h1.8v7.8h-1.8zM428.7 381.9h1.8v7.8h-1.8z" fill="#468cdc"/>
<path d="M479.8 255.8h3.2v7.8h-3.2zM493.7 255.8h3.2v7.8h-3.2zM394.1 278.1h1.8v7.8h-1.8zM394.1 285.5h1.8v7.8h-1.8zM401.0 285.5h1.8v7.8h-1.8zM419.0 285.5h1.8v7.8h-1.8zM463.2 292.9h1.8v7.8h-1.8zM474.3 292.9h1.8v7.8h-1.8zM478.4 292.9h1.8v7.8h-1.8zM482.6 292.9h1.8v7.8h-1.8zM410.7 330.0h1.8v7.8h-1.8zM387.2 381.9h1.8v7.8h-1.8zM421.8 381.9h1.8v7.8h-1.8zM424.5 381.9h1.8v7.8h-1.8zM427.3 381.9h1.8v7.8h-1.8zM463.2 433.8h1.8v7.4h-1.8z" fill="#6eb4e6"/>
<path d="M482.6 255.8h1.8v7.8h-1.8zM489.5 255.8h1.8v7.8h-1.8zM496.4 255.8h1.8v7.8h-1.8zM399.6 278.1h1.8v7.8h-1.8zM489.5 278.1h3.2v7.8h-3.2zM496.4 278.1h1.8v7.8h-1.8zM390.0 285.5h1.8v7.8h-1.8zM396.9 285.5h1.8v7.8h-1.8zM402.4 285.5h1.8v7.8h-1.8zM416.2 285.5h1.8v7.8h-1.8zM452.2 285.5h1.8v7.8h-1.8zM454.9 285.5h1.8v7.8h-1.8zM496.4 285.5h1.8v7.8h-1.8zM471.5 292.9h1.8v7.8h-1.8zM481.2 292.9h1.8v7.8h-1.8zM484.0 292.9h1.8v7.8h-1.8zM405.2 307.7h1.8v7.8h-1.8zM412.1 307.7h1.8v7.8h-1.8zM414.9 307.7h1.8v7.8h-1.8zM425.9 315.1h1.8v7.8h-1.8zM428.7 315.1h1.8v7.8h-1.8zM437.0 315.1h3.2v7.8h-3.2zM441.1 315.1h1.8v7.8h-1.8zM417.6 330.0h1.8v7.8h-1.8zM474.3 330.0h3.2v7.8h-3.2zM482.6 330.0h1.8v7.8h-1.8zM485.4 330.0h1.8v7.8h-1.8zM390.0 381.9h1.8v7.8h-1.8zM394.1 381.9h1.8v7.8h-1.8zM401.0 381.9h1.8v7.8h-1.8zM407.9 381.9h1.8v7.8h-1.8zM414.9 381.9h1.8v7.8h-1.8zM420.4 381.9h1.8v7.8h-1.8zM430.1 381.9h1.8v7.8h-1.8zM432.8 381.9h1.8v7.8h-1.8zM442.5 381.9h1.8v7.8h-1.8zM478.4 433.8h1.8v7.4h-1.8z" fill="#5aa0f0"/>
<path d="M490.9 255.8h1.8v7.8h-1.8zM388.6 278.1h1.8v7.8h-1.8zM396.9 278.1h1.8v7.8h-1.8zM388.6 285.5h1.8v7.8h-1.8zM420.4 285.5h1.8v7.8h-1.8zM424.5 285.5h1.8v7.8h-1.8zM453.6 285.5h1.8v7.8h-1.8zM456.3 285.5h1.8v7.8h-1.8zM490.9 285.5h1.8v7.8h-1.8zM479.8 292.9h1.8v7.8h-1.8zM485.4 292.9h1.8v7.8h-1.8zM403.8 330.0h4.6v7.8h-4.6zM424.5 330.0h1.8v7.8h-1.8zM464.6 330.0h3.2v7.8h-3.2zM398.3 381.9h1.8v7.8h-1.8zM416.2 381.9h1.8v7.8h-1.8zM425.9 381.9h1.8v7.8h-1.8zM435.6 381.9h1.8v7.8h-1.8zM461.9 433.8h1.8v7.4h-1.8zM466.0 433.8h1.8v7.4h-1.8zM477.1 433.8h1.8v7.4h-1.8zM479.8 433.8h4.6v7.4h-4.6z" fill="#78bef0"/>
<path d="M492.3 255.8h1.8v7.8h-1.8zM407.9 263.2h1.8v7.8h-1.8zM410.7 263.2h1.8v7.8h-1.8zM398.3 278.1h1.8v7.8h-1.8zM403.8 307.7h1.8v7.8h-1.8zM424.5 307.7h1.8v7.8h-1.8zM431.4 315.1h1.8v7.8h-1.8zM442.5 315.1h1.8v7.8h-1.8zM407.9 330.0h1.8v7.8h-1.8zM419.0 330.0h1.8v7.8h-1.8zM421.8 330.0h1.8v7.8h-1.8z" fill="#78c8f0"/>
<path d="M387.2 263.2h1.8v7.8h-1.8zM401.0 263.2h4.6v7.8h-4.6zM412.1 263.2h1.8v7.8h-1.8zM414.9 263.2h1.8v7.8h-1.8zM417.6 263.2h3.2v7.8h-3.2zM421.8 263.2h1.8v7.8h-1.8zM424.5 263.2h1.8v7.8h-1.8zM427.3 263.2h1.8v7.8h-1.8zM431.4 263.2h1.8v7.8h-1.8zM437.0 263.2h1.8v7.8h-1.8zM439.7 263.2h1.8v7.8h-1.8zM445.3 263.2h1.8v7.8h-1.8zM456.3 263.2h1.8v7.8h-1.8zM460.5 263.2h1.8v7.8h-1.8zM468.8 263.2h1.8v7.8h-1.8zM474.3 263.2h1.8v7.8h-1.8zM479.8 263.2h1.8v7.8h-1.8zM484.0 263.2h4.6v7.8h-4.6zM492.3 263.2h1.8v7.8h-1.8zM390.0 278.1h3.2v7.8h-3.2zM405.2 278.1h3.2v7.8h-3.2zM410.7 278.1h1.8v7.8h-1.8zM413.5 278.1h4.6v7.8h-4.6zM419.0 278.1h3.2v7.8h-3.2zM424.5 278.1h4.6v7.8h-4.6zM430.1 278.1h4.6v7.8h-4.6zM437.0 278.1h1.8v7.8h-1.8zM454.9 278.1h1.8v7.8h-1.8zM459.1 278.1h1.8v7.8h-1.8zM390.0 307.7h3.2v7.8h-3.2zM410.7 307.7h1.8v7.8h-1.8zM416.2 307.7h1.8v7.8h-1.8zM419.0 307.7h3.2v7.8h-3.2zM427.3 307.7h1.8v7.8h-1.8zM431.4 307.7h1.8v7.8h-1.8zM446.6 307.7h1.8v7.8h-1.8zM450.8 307.7h1.8v7.8h-1.8zM461.9 307.7h1.8v7.8h-1.8zM464.6 307.7h1.8v7.8h-1.8zM470.1 307.7h1.8v7.8h-1.8zM474.3 307.7h1.8v7.8h-1.8zM477.1 307.7h3.2v7.8h-3.2zM482.6 307.7h1.8v7.8h-1.8zM488.1 307.7h1.8v7.8h-1.8zM493.7 307.7h3.2v7.8h-3.2zM387.2 315.1h1.8v7.8h-1.8zM391.3 315.1h1.8v7.8h-1.8zM396.9 315.1h3.2v7.8h-3.2zM402.4 315.1h7.4v7.8h-7.4zM412.1 315.1h1.8v7.8h-1.8zM421.8 315.1h1.8v7.8h-1.8zM427.3 315.1h1.8v7.8h-1.8zM432.8 315.1h1.8v7.8h-1.8zM435.6 315.1h1.8v7.8h-1.8zM445.3 315.1h3.2v7.8h-3.2zM449.4 315.1h3.2v7.8h-3.2zM414.9 330.0h3.2v7.8h-3.2zM423.1 330.0h1.8v7.8h-1.8zM425.9 330.0h3.2v7.8h-3.2zM430.1 330.0h1.8v7.8h-1.8zM435.6 330.0h4.6v7.8h-4.6zM442.5 330.0h1.8v7.8h-1.8zM446.6 330.0h3.2v7.8h-3.2zM450.8 330.0h3.2v7.8h-3.2zM454.9 330.0h3.2v7.8h-3.2zM461.9 330.0h1.8v7.8h-1.8zM468.8 330.0h1.8v7.8h-1.8zM478.4 330.0h1.8v7.8h-1.8zM486.7 330.0h6.0v7.8h-6.0zM495.0 330.0h1.8v7.8h-1.8zM405.2 337.4h3.2v7.8h-3.2zM409.3 337.4h3.2v7.8h-3.2zM423.1 337.4h1.8v7.8h-1.8zM427.3 337.4h3.2v7.8h-3.2zM432.8 337.4h3.2v7.8h-3.2zM437.0 337.4h1.8v7.8h-1.8zM441.1 337.4h1.8v7.8h-1.8zM446.6 337.4h3.2v7.8h-3.2zM450.8 337.4h1.8v7.8h-1.8zM457.7 337.4h1.8v7.8h-1.8zM388.6 389.3h3.2v7.8h-3.2zM394.1 389.3h1.8v7.8h-1.8zM401.0 389.3h1.8v7.8h-1.8zM407.9 389.3h1.8v7.8h-1.8zM412.1 389.3h1.8v7.8h-1.8zM416.2 389.3h1.8v7.8h-1.8zM420.4 389.3h3.2v7.8h-3.2zM427.3 389.3h3.2v7.8h-3.2zM432.8 389.3h1.8v7.8h-1.8zM437.0 389.3h1.8v7.8h-1.8zM439.7 389.3h3.2v7.8h-3.2zM446.6 389.3h1.8v7.8h-1.8zM449.4 389.3h1.8v7.8h-1.8zM452.2 389.3h1.8v7.8h-1.8zM459.1 389.3h3.2v7.8h-3.2zM464.6 389.3h1.8v7.8h-1.8zM467.4 389.3h3.2v7.8h-3.2zM472.9 389.3h1.8v7.8h-1.8zM478.4 389.3h3.2v7.8h-3.2zM482.6 389.3h4.6v7.8h-4.6zM488.1 389.3h1.8v7.8h-1.8zM493.7 389.3h1.8v7.8h-1.8zM425.9 396.7h4.6v7.8h-4.6zM432.8 396.7h1.8v7.8h-1.8zM435.6 396.7h1.8v7.8h-1.8zM443.9 396.7h1.8v7.8h-1.8zM449.4 396.7h3.2v7.8h-3.2zM453.6 396.7h1.8v7.8h-1.8zM495.0 396.7h3.2v7.8h-3.2zM388.6 404.1h3.2v7.8h-3.2zM392.7 404.1h1.8v7.8h-1.8zM395.5 404.1h3.2v7.8h-3.2zM405.2 404.1h3.2v7.8h-3.2zM409.3 404.1h1.8v7.8h-1.8zM412.1 404.1h1.8v7.8h-1.8zM427.3 404.1h1.8v7.8h-1.8zM434.2 404.1h3.2v7.8h-3.2zM443.9 404.1h1.8v7.8h-1.8zM446.6 404.1h1.8v7.8h-1.8zM449.4 404.1h4.6v7.8h-4.6zM456.3 404.1h1.8v7.8h-1.8zM391.3 426.4h1.8v7.8h-1.8zM396.9 426.4h1.8v7.8h-1.8zM402.4 426.4h4.6v7.8h-4.6zM407.9 426.4h3.2v7.8h-3.2zM412.1 426.4h7.4v7.8h-7.4zM421.8 426.4h1.8v7.8h-1.8zM432.8 426.4h1.8v7.8h-1.8zM438.4 426.4h1.8v7.8h-1.8zM441.1 426.4h6.0v7.8h-6.0zM449.4 426.4h1.8v7.8h-1.8zM452.2 426.4h1.8v7.8h-1.8zM454.9 426.4h3.2v7.8h-3.2zM493.7 426.4h3.2v7.8h-3.2z" fill="#82c8f0"/>
<path d="M388.6 263.2h1.8v7.8h-1.8z" fill="#7896dc"/>
<path d="M390.0 263.2h1.8v7.8h-1.8zM401.0 307.7h1.8v7.8h-1.8z" fill="#8cc8fa"/>
<path d="M391.3 263.2h1.8v7.8h-1.8zM394.1 263.2h1.8v7.8h-1.8zM398.3 263.2h1.8v7.8h-1.8zM457.7 315.1h1.8v7.8h-1.8zM463.2 315.1h1.8v7.8h-1.8zM466.0 315.1h1.8v7.8h-1.8zM478.4 315.1h1.8v7.8h-1.8zM482.6 315.1h1.8v7.8h-1.8zM485.4 315.1h1.8v7.8h-1.8zM392.7 337.4h1.8v7.8h-1.8zM396.9 337.4h1.8v7.8h-1.8zM401.0 337.4h1.8v7.8h-1.8zM388.6 396.7h1.8v7.8h-1.8zM399.6 396.7h1.8v7.8h-1.8zM405.2 396.7h3.2v7.8h-3.2zM417.6 396.7h7.4v7.8h-7.4zM466.0 396.7h1.8v7.8h-1.8zM482.6 396.7h1.8v7.8h-1.8zM468.8 426.4h1.8v7.8h-1.8zM474.3 426.4h1.8v7.8h-1.8zM484.0 426.4h3.2v7.8h-3.2z" fill="#8cc8f0"/>
<path d="M395.5 263.2h1.8v7.8h-1.8zM388.6 307.7h1.8v7.8h-1.8zM392.7 307.7h1.8v7.8h-1.8zM456.3 315.1h1.8v7.8h-1.8zM459.1 315.1h1.8v7.8h-1.8zM464.6 315.1h1.8v7.8h-1.8zM468.8 315.1h1.8v7.8h-1.8zM471.5 315.1h1.8v7.8h-1.8zM477.1 315.1h1.8v7.8h-1.8zM479.8 315.1h1.8v7.8h-1.8zM486.7 315.1h1.8v7.8h-1.8zM388.6 337.4h1.8v7.8h-1.8zM391.3 337.4h1.8v7.8h-1.8zM398.3 337.4h3.2v7.8h-3.2zM391.3 396.7h1.8v7.8h-1.8zM394.1 396.7h1.8v7.8h-1.8zM401.0 396.7h3.2v7.8h-3.2zM410.7 396.7h1.8v7.8h-1.8zM414.9 396.7h1.8v7.8h-1.8zM463.2 396.7h1.8v7.8h-1.8zM467.4 396.7h1.8v7.8h-1.8zM470.1 396.7h1.8v7.8h-1.8zM475.7 396.7h1.8v7.8h-1.8zM486.7 396.7h1.8v7.8h-1.8zM478.4 404.1h1.8v7.8h-1.8zM477.1 426.4h3.2v7.8h-3.2zM481.2 426.4h1.8v7.8h-1.8z" fill="#82bee6"/>
<path d="M396.9 263.2h1.8v7.8h-1.8zM409.3 263.2h1.8v7.8h-1.8zM450.8 263.2h1.8v7.8h-1.8zM453.6 263.2h1.8v7.8h-1.8zM470.1 263.2h1.8v7.8h-1.8zM392.7 278.1h1.8v7.8h-1.8zM395.5 278.1h1.8v7.8h-1.8zM434.2 278.1h1.8v7.8h-1.8zM452.2 278.1h1.8v7.8h-1.8zM456.3 278.1h1.8v7.8h-1.8zM488.1 278.1h1.8v7.8h-1.8zM395.5 285.5h1.8v7.8h-1.8zM399.6 285.5h1.8v7.8h-1.8zM460.5 285.5h1.8v7.8h-1.8zM492.3 285.5h1.8v7.8h-1.8zM396.9 307.7h1.8v7.8h-1.8zM402.4 307.7h1.8v7.8h-1.8zM406.6 307.7h1.8v7.8h-1.8zM428.7 307.7h1.8v7.8h-1.8zM481.2 307.7h1.8v7.8h-1.8zM489.5 307.7h3.2v7.8h-3.2zM395.5 315.1h1.8v7.8h-1.8zM434.2 315.1h1.8v7.8h-1.8zM439.7 315.1h1.8v7.8h-1.8zM459.1 330.0h1.8v7.8h-1.8zM467.4 330.0h1.8v7.8h-1.8zM471.5 330.0h1.8v7.8h-1.8zM412.1 337.4h1.8v7.8h-1.8zM431.4 389.3h1.8v7.8h-1.8zM438.4 389.3h1.8v7.8h-1.8zM442.5 389.3h1.8v7.8h-1.8zM450.8 389.3h1.8v7.8h-1.8zM437.0 396.7h3.2v7.8h-3.2zM441.1 396.7h3.2v7.8h-3.2zM387.2 404.1h1.8v7.8h-1.8zM391.3 404.1h1.8v7.8h-1.8zM420.4 404.1h1.8v7.8h-1.8zM438.4 404.1h1.8v7.8h-1.8zM460.5 404.1h1.8v7.8h-1.8z" fill="#78bee6"/>
<path d="M399.6 263.2h1.8v7.8h-1.8z" fill="#78a0e6"/>
<path d="M405.2 263.2h3.2v7.8h-3.2zM434.2 263.2h1.8v7.8h-1.8zM454.9 263.2h1.8v7.8h-1.8zM472.9 263.2h1.8v7.8h-1.8zM482.6 263.2h1.8v7.8h-1.8zM488.1 263.2h1.8v7.8h-1.8zM490.9 263.2h1.8v7.8h-1.8zM496.4 263.2h1.8v7.8h-1.8zM403.8 278.1h1.8v7.8h-1.8zM428.7 278.1h1.8v7.8h-1.8zM438.4 278.1h3.2v7.8h-3.2zM453.6 278.1h1.8v7.8h-1.8zM460.5 278.1h1.8v7.8h-1.8zM438.4 307.7h1.8v7.8h-1.8zM442.5 307.7h1.8v7.8h-1.8zM445.3 307.7h1.8v7.8h-1.8zM448.0 307.7h1.8v7.8h-1.8zM452.2 307.7h3.2v7.8h-3.2zM466.0 307.7h3.2v7.8h-3.2zM471.5 307.7h3.2v7.8h-3.2zM394.1 315.1h1.8v7.8h-1.8zM401.0 315.1h1.8v7.8h-1.8zM409.3 315.1h1.8v7.8h-1.8zM414.9 315.1h1.8v7.8h-1.8zM417.6 315.1h1.8v7.8h-1.8zM424.5 315.1h1.8v7.8h-1.8zM443.9 315.1h1.8v7.8h-1.8zM448.0 315.1h1.8v7.8h-1.8zM460.5 330.0h1.8v7.8h-1.8zM403.8 337.4h1.8v7.8h-1.8zM425.9 337.4h1.8v7.8h-1.8zM452.2 337.4h3.2v7.8h-3.2zM456.3 337.4h1.8v7.8h-1.8zM392.7 389.3h1.8v7.8h-1.8zM395.5 389.3h1.8v7.8h-1.8zM398.3 389.3h3.2v7.8h-3.2zM413.5 389.3h3.2v7.8h-3.2zM417.6 389.3h3.2v7.8h-3.2zM425.9 389.3h1.8v7.8h-1.8zM430.1 389.3h1.8v7.8h-1.8zM443.9 389.3h1.8v7.8h-1.8zM454.9 389.3h3.2v7.8h-3.2zM463.2 389.3h1.8v7.8h-1.8zM466.0 389.3h1.8v7.8h-1.8zM471.5 389.3h1.8v7.8h-1.8zM474.3 389.3h1.8v7.8h-1.8zM477.1 389.3h1.8v7.8h-1.8zM434.2 396.7h1.8v7.8h-1.8zM454.9 396.7h1.8v7.8h-1.8zM457.7 396.7h1.8v7.8h-1.8zM492.3 396.7h3.2v7.8h-3.2zM398.3 404.1h1.8v7.8h-1.8zM401.0 404.1h1.8v7.8h-1.8zM403.8 404.1h1.8v7.8h-1.8zM413.5 404.1h3.2v7.8h-3.2zM430.1 404.1h4.6v7.8h-4.6zM437.0 404.1h1.8v7.8h-1.8zM442.5 404.1h1.8v7.8h-1.8zM445.3 404.1h1.8v7.8h-1.8zM457.7 404.1h1.8v7.8h-1.8zM392.7 426.4h1.8v7.8h-1.8zM419.0 426.4h1.8v7.8h-1.8zM424.5 426.4h1.8v7.8h-1.8zM434.2 426.4h3.2v7.8h-3.2zM446.6 426.4h1.8v7.8h-1.8zM457.7 426.4h1.8v7.8h-1.8zM492.3 426.4h1.8v7.8h-1.8zM496.4 426.4h1.8v7.8h-1.8z" fill="#8cd2fa"/>
<path d="M413.5 263.2h1.8v7.8h-1.8zM387.2 278.1h1.8v7.8h-1.8zM401.0 278.1h1.8v7.8h-1.8zM492.3 278.1h1.8v7.8h-1.8zM387.2 285.5h1.8v7.8h-1.8zM407.9 307.7h3.2v7.8h-3.2zM463.2 330.0h1.8v7.8h-1.8z" fill="#5aa0e6"/>
<path d="M416.2 263.2h1.8v7.8h-1.8z" fill="#64a0f0"/>
<path d="M420.4 263.2h1.8v7.8h-1.8zM413.5 307.7h1.8v7.8h-1.8zM479.8 330.0h1.8v7.8h-1.8zM484.0 330.0h1.8v7.8h-1.8z" fill="#64aaf0"/>
<path d="M423.1 263.2h1.8v7.8h-1.8zM475.7 292.9h1.8v7.8h-1.8zM412.1 330.0h1.8v7.8h-1.8z" fill="#6ebee6"/>
<path d="M425.9 263.2h1.8v7.8h-1.8zM452.2 263.2h1.8v7.8h-1.8zM463.2 263.2h1.8v7.8h-1.8zM471.5 263.2h1.8v7.8h-1.8zM475.7 263.2h1.8v7.8h-1.8zM478.4 263.2h1.8v7.8h-1.8zM421.8 278.1h1.8v7.8h-1.8zM442.5 278.1h1.8v7.8h-1.8zM457.7 278.1h1.8v7.8h-1.8zM432.8 307.7h3.2v7.8h-3.2zM457.7 307.7h1.8v7.8h-1.8zM468.8 307.7h1.8v7.8h-1.8zM496.4 307.7h1.8v7.8h-1.8zM432.8 330.0h1.8v7.8h-1.8zM445.3 330.0h1.8v7.8h-1.8zM453.6 330.0h1.8v7.8h-1.8zM424.5 337.4h1.8v7.8h-1.8zM449.4 337.4h1.8v7.8h-1.8zM459.1 337.4h3.2v7.8h-3.2zM391.3 389.3h1.8v7.8h-1.8zM406.6 389.3h1.8v7.8h-1.8zM424.5 389.3h1.8v7.8h-1.8zM461.9 389.3h1.8v7.8h-1.8zM490.9 389.3h1.8v7.8h-1.8zM431.4 396.7h1.8v7.8h-1.8zM456.3 396.7h1.8v7.8h-1.8zM459.1 396.7h1.8v7.8h-1.8zM423.1 404.1h1.8v7.8h-1.8zM388.6 426.4h1.8v7.8h-1.8zM394.1 426.4h1.8v7.8h-1.8zM398.3 426.4h1.8v7.8h-1.8zM406.6 426.4h1.8v7.8h-1.8zM420.4 426.4h1.8v7.8h-1.8zM430.1 426.4h1.8v7.8h-1.8zM437.0 426.4h1.8v7.8h-1.8zM448.0 426.4h1.8v7.8h-1.8zM488.1 426.4h1.8v7.8h-1.8zM490.9 426.4h1.8v7.8h-1.8z" fill="#78c8e6"/>
<path d="M428.7 263.2h3.2v7.8h-3.2zM432.8 263.2h1.8v7.8h-1.8zM438.4 263.2h1.8v7.8h-1.8zM443.9 263.2h1.8v7.8h-1.8zM446.6 263.2h3.2v7.8h-3.2zM461.9 263.2h1.8v7.8h-1.8zM489.5 263.2h1.8v7.8h-1.8zM493.7 263.2h3.2v7.8h-3.2zM407.9 278.1h3.2v7.8h-3.2zM417.6 278.1h1.8v7.8h-1.8zM423.1 278.1h1.8v7.8h-1.8zM435.6 278.1h1.8v7.8h-1.8zM441.1 278.1h1.8v7.8h-1.8zM425.9 307.7h1.8v7.8h-1.8zM443.9 307.7h1.8v7.8h-1.8zM449.4 307.7h1.8v7.8h-1.8zM460.5 307.7h1.8v7.8h-1.8zM390.0 315.1h1.8v7.8h-1.8zM392.7 315.1h1.8v7.8h-1.8zM399.6 315.1h1.8v7.8h-1.8zM410.7 315.1h1.8v7.8h-1.8zM416.2 315.1h1.8v7.8h-1.8zM419.0 315.1h3.2v7.8h-3.2zM431.4 330.0h1.8v7.8h-1.8zM439.7 330.0h1.8v7.8h-1.8zM492.3 330.0h1.8v7.8h-1.8zM413.5 337.4h1.8v7.8h-1.8zM417.6 337.4h1.8v7.8h-1.8zM421.8 337.4h1.8v7.8h-1.8zM430.1 337.4h3.2v7.8h-3.2zM435.6 337.4h1.8v7.8h-1.8zM439.7 337.4h1.8v7.8h-1.8zM445.3 337.4h1.8v7.8h-1.8zM387.2 389.3h1.8v7.8h-1.8zM409.3 389.3h1.8v7.8h-1.8zM423.1 389.3h1.8v7.8h-1.8zM434.2 389.3h3.2v7.8h-3.2zM453.6 389.3h1.8v7.8h-1.8zM457.7 389.3h1.8v7.8h-1.8zM481.2 389.3h1.8v7.8h-1.8zM495.0 389.3h1.8v7.8h-1.8zM430.1 396.7h1.8v7.8h-1.8zM445.3 396.7h3.2v7.8h-3.2zM489.5 396.7h1.8v7.8h-1.8zM399.6 404.1h1.8v7.8h-1.8zM402.4 404.1h1.8v7.8h-1.8zM416.2 404.1h1.8v7.8h-1.8zM421.8 404.1h1.8v7.8h-1.8zM428.7 404.1h1.8v7.8h-1.8zM454.9 404.1h1.8v7.8h-1.8zM459.1 404.1h1.8v7.8h-1.8zM399.6 426.4h3.2v7.8h-3.2zM453.6 426.4h1.8v7.8h-1.8zM459.1 426.4h3.2v7.8h-3.2z" fill="#82d2f0"/>
<path d="M435.6 263.2h1.8v7.8h-1.8zM442.5 263.2h1.8v7.8h-1.8zM449.4 263.2h1.8v7.8h-1.8zM459.1 263.2h1.8v7.8h-1.8zM464.6 263.2h1.8v7.8h-1.8zM467.4 263.2h1.8v7.8h-1.8zM477.1 263.2h1.8v7.8h-1.8zM412.1 278.1h1.8v7.8h-1.8zM430.1 307.7h1.8v7.8h-1.8zM435.6 307.7h3.2v7.8h-3.2zM441.1 307.7h1.8v7.8h-1.8zM456.3 307.7h1.8v7.8h-1.8zM459.1 307.7h1.8v7.8h-1.8zM475.7 307.7h1.8v7.8h-1.8zM484.0 307.7h4.6v7.8h-4.6zM388.6 315.1h1.8v7.8h-1.8zM413.5 315.1h1.8v7.8h-1.8zM428.7 330.0h1.8v7.8h-1.8zM434.2 330.0h1.8v7.8h-1.8zM496.4 330.0h1.8v7.8h-1.8zM420.4 337.4h1.8v7.8h-1.8zM443.9 337.4h1.8v7.8h-1.8zM402.4 389.3h1.8v7.8h-1.8zM405.2 389.3h1.8v7.8h-1.8zM470.1 389.3h1.8v7.8h-1.8zM492.3 389.3h1.8v7.8h-1.8zM496.4 389.3h1.8v7.8h-1.8zM448.0 396.7h1.8v7.8h-1.8zM452.2 396.7h1.8v7.8h-1.8zM490.9 396.7h1.8v7.8h-1.8zM394.1 404.1h1.8v7.8h-1.8zM448.0 404.1h1.8v7.8h-1.8zM453.6 404.1h1.8v7.8h-1.8zM387.2 426.4h1.8v7.8h-1.8zM410.7 426.4h1.8v7.8h-1.8zM428.7 426.4h1.8v7.8h-1.8zM431.4 426.4h1.8v7.8h-1.8zM439.7 426.4h1.8v7.8h-1.8zM450.8 426.4h1.8v7.8h-1.8zM489.5 426.4h1.8v7.8h-1.8z" fill="#8cd2f0"/>
<path d="M441.1 263.2h1.8v7.8h-1.8zM457.7 263.2h1.8v7.8h-1.8zM466.0 263.2h1.8v7.8h-1.8zM481.2 263.2h1.8v7.8h-1.8zM439.7 307.7h1.8v7.8h-1.8zM454.9 307.7h1.8v7.8h-1.8zM463.2 307.7h1.8v7.8h-1.8zM479.8 307.7h1.8v7.8h-1.8zM492.3 307.7h1.8v7.8h-1.8zM423.1 315.1h1.8v7.8h-1.8zM441.1 330.0h1.8v7.8h-1.8zM443.9 330.0h1.8v7.8h-1.8zM449.4 330.0h1.8v7.8h-1.8zM457.7 330.0h1.8v7.8h-1.8zM407.9 337.4h1.8v7.8h-1.8zM414.9 337.4h1.8v7.8h-1.8zM419.0 337.4h1.8v7.8h-1.8zM438.4 337.4h1.8v7.8h-1.8zM442.5 337.4h1.8v7.8h-1.8zM454.9 337.4h1.8v7.8h-1.8zM403.8 389.3h1.8v7.8h-1.8zM410.7 389.3h1.8v7.8h-1.8zM445.3 389.3h1.8v7.8h-1.8zM448.0 389.3h1.8v7.8h-1.8zM475.7 389.3h1.8v7.8h-1.8zM486.7 389.3h1.8v7.8h-1.8zM387.2 396.7h1.8v7.8h-1.8zM488.1 396.7h1.8v7.8h-1.8zM410.7 404.1h1.8v7.8h-1.8zM417.6 404.1h1.8v7.8h-1.8zM424.5 404.1h3.2v7.8h-3.2zM439.7 404.1h3.2v7.8h-3.2zM395.5 426.4h1.8v7.8h-1.8zM423.1 426.4h1.8v7.8h-1.8z" fill="#82c8e6"/>
<path d="M425.9 270.7h1.8v7.8h-1.8zM431.4 270.7h1.8v7.8h-1.8zM427.3 285.5h1.8v7.8h-1.8zM410.7 322.6h1.8v7.8h-1.8z" fill="#5a78d2"/>
<path d="M446.6 270.7h1.8v7.8h-1.8zM496.4 270.7h1.8v7.8h-1.8zM452.2 315.1h1.8v7.8h-1.8zM470.1 315.1h1.8v7.8h-1.8zM474.3 315.1h1.8v7.8h-1.8zM472.9 337.4h1.8v7.8h-1.8zM485.4 337.4h1.8v7.8h-1.8zM492.3 337.4h1.8v7.8h-1.8zM416.2 396.7h1.8v7.8h-1.8zM485.4 396.7h1.8v7.8h-1.8zM461.9 426.4h1.8v7.8h-1.8z" fill="#8c78be"/>
<path d="M449.4 270.7h1.8v7.8h-1.8zM489.5 270.7h1.8v7.8h-1.8zM470.1 322.6h1.8v7.8h-1.8z" fill="#6e5aaa"/>
<path d="M452.2 270.7h1.8v7.8h-1.8zM466.0 300.3h1.8v7.8h-1.8zM424.5 352.2h1.8v7.8h-1.8zM391.3 359.6h1.8v7.8h-1.8zM419.0 359.6h1.8v7.8h-1.8zM457.7 359.6h1.8v7.8h-1.8zM388.6 381.9h1.8v7.8h-1.8zM431.4 381.9h1.8v7.8h-1.8z" fill="#5aa0fa"/>
<path d="M461.9 270.7h3.2v7.8h-3.2zM471.5 270.7h1.8v7.8h-1.8zM463.2 411.5h1.8v7.8h-1.8zM470.1 411.5h1.8v7.8h-1.8zM474.3 411.5h1.8v7.8h-1.8zM477.1 411.5h1.8v7.8h-1.8zM481.2 411.5h1.8v7.8h-1.8z" fill="#965aa0"/>
<path d="M464.6 270.7h3.2v7.8h-3.2zM468.8 270.7h1.8v7.8h-1.8zM477.1 270.7h1.8v7.8h-1.8zM479.8 270.7h1.8v7.8h-1.8zM486.7 411.5h1.8v7.8h-1.8z" fill="#8c5a96"/>
<path d="M467.4 270.7h1.8v7.8h-1.8zM475.7 270.7h1.8v7.8h-1.8zM481.2 270.7h3.2v7.8h-3.2zM485.4 270.7h1.8v7.8h-1.8zM479.8 411.5h1.8v7.8h-1.8zM484.0 411.5h1.8v7.8h-1.8z" fill="#a02850"/>
<path d="M470.1 270.7h1.8v7.8h-1.8zM472.9 270.7h1.8v7.8h-1.8z" fill="#82508c"/>
<path d="M474.3 270.7h1.8v7.8h-1.8zM486.7 270.7h1.8v7.8h-1.8zM464.6 411.5h1.8v7.8h-1.8zM475.7 411.5h1.8v7.8h-1.8z" fill="#8c5096"/>
<path d="M478.4 270.7h1.8v7.8h-1.8zM471.5 411.5h1.8v7.8h-1.8z" fill="#aa3250"/>
<path d="M484.0 270.7h1.8v7.8h-1.8z" fill="#784682"/>
<path d="M490.9 270.7h1.8v7.8h-1.8z" fill="#5082d2"/>
<path d="M402.4 278.1h1.8v7.8h-1.8z" fill="#82d2fa"/>
<path d="M443.9 278.1h1.8v7.8h-1.8zM454.9 315.1h1.8v7.8h-1.8zM461.9 315.1h1.8v7.8h-1.8zM481.2 315.1h1.8v7.8h-1.8zM464.6 337.4h1.8v7.8h-1.8zM477.1 337.4h1.8v7.8h-1.8zM490.9 337.4h1.8v7.8h-1.8zM496.4 337.4h1.8v7.8h-1.8zM478.4 396.7h3.2v7.8h-3.2zM463.2 426.4h1.8v7.8h-1.8z" fill="#8cbee6"/>
<path d="M445.3 278.1h1.8v7.8h-1.8zM493.7 315.1h1.8v7.8h-1.8zM496.4 315.1h1.8v7.8h-1.8zM394.1 337.4h1.8v7.8h-1.8zM461.9 337.4h1.8v7.8h-1.8zM468.8 337.4h3.2v7.8h-3.2zM474.3 337.4h3.2v7.8h-3.2zM481.2 337.4h1.8v7.8h-1.8zM489.5 337.4h1.8v7.8h-1.8zM493.7 337.4h1.8v7.8h-1.8zM463.2 404.1h1.8v7.8h-1.8zM475.7 404.1h1.8v7.8h-1.8zM450.8 419.0h1.8v7.8h-1.8zM467.4 426.4h1.8v7.8h-1.8zM472.9 426.4h1.8v7.8h-1.8z" fill="#82b4dc"/>
<path d="M446.6 278.1h1.8v7.8h-1.8zM490.9 315.1h1.8v7.8h-1.8zM390.0 337.4h1.8v7.8h-1.8zM471.5 337.4h1.8v7.8h-1.8zM488.1 337.4h1.8v7.8h-1.8zM464.6 404.1h3.2v7.8h-3.2zM474.3 404.1h1.8v7.8h-1.8zM479.8 404.1h1.8v7.8h-1.8zM443.9 419.0h1.8v7.8h-1.8z" fill="#82b4e6"/>
<path d="M448.0 278.1h1.8v7.8h-1.8zM461.9 404.1h1.8v7.8h-1.8zM449.4 419.0h1.8v7.8h-1.8z" fill="#78aadc"/>
<path d="M449.4 278.1h1.8v7.8h-1.8zM489.5 315.1h1.8v7.8h-1.8zM466.0 337.4h3.2v7.8h-3.2zM478.4 337.4h1.8v7.8h-1.8zM495.0 337.4h1.8v7.8h-1.8zM467.4 404.1h1.8v7.8h-1.8zM477.1 404.1h1.8v7.8h-1.8zM482.6 404.1h1.8v7.8h-1.8zM448.0 419.0h1.8v7.8h-1.8z" fill="#8c78b4"/>
<path d="M450.8 278.1h1.8v7.8h-1.8zM488.1 315.1h1.8v7.8h-1.8zM495.0 315.1h1.8v7.8h-1.8zM470.1 404.1h1.8v7.8h-1.8zM472.9 404.1h1.8v7.8h-1.8zM486.7 404.1h1.8v7.8h-1.8z" fill="#826eaa"/>
<path d="M461.9 278.1h3.2v7.8h-3.2zM493.7 404.1h3.2v7.8h-3.2z" fill="#82a0c8"/>
<path d="M464.6 278.1h1.8v7.8h-1.8zM475.7 278.1h1.8v7.8h-1.8zM463.2 359.6h1.8v7.8h-1.8zM468.8 381.9h1.8v7.8h-1.8z" fill="#825a96"/>
<path d="M467.4 278.1h1.8v7.8h-1.8z" fill="#96b4dc"/>
<path d="M471.5 278.1h1.8v7.8h-1.8zM481.2 278.1h1.8v7.8h-1.8zM470.1 285.5h1.8v7.8h-1.8z" fill="#a03c5a"/>
<path d="M478.4 278.1h1.8v7.8h-1.8zM485.4 278.1h1.8v7.8h-1.8zM489.5 404.1h1.8v7.8h-1.8z" fill="#8caad2"/>
<path d="M479.8 278.1h1.8v7.8h-1.8zM488.1 404.1h1.8v7.8h-1.8z" fill="#aa3c5a"/>
<path d="M482.6 278.1h1.8v7.8h-1.8zM490.9 404.1h1.8v7.8h-1.8z" fill="#966eaa"/>
<path d="M486.7 278.1h1.8v7.8h-1.8zM492.3 404.1h1.8v7.8h-1.8z" fill="#8caac8"/>
<path d="M405.2 285.5h1.8v7.8h-1.8zM467.4 292.9h1.8v7.8h-1.8zM470.1 433.8h1.8v7.4h-1.8z" fill="#78c8fa"/>
<path d="M434.2 285.5h1.8v7.8h-1.8zM443.9 285.5h3.2v7.8h-3.2zM448.0 285.5h3.2v7.8h-3.2zM430.1 292.9h1.8v7.8h-1.8zM435.6 292.9h1.8v7.8h-1.8zM439.7 292.9h4.6v7.8h-4.6zM445.3 292.9h1.8v7.8h-1.8zM450.8 292.9h1.8v7.8h-1.8zM457.7 292.9h4.6v7.8h-4.6zM486.7 292.9h1.8v7.8h-1.8zM449.4 300.3h3.2v7.8h-3.2zM453.6 300.3h7.4v7.8h-7.4zM468.8 300.3h1.8v7.8h-1.8zM478.4 300.3h1.8v7.8h-1.8zM481.2 300.3h7.4v7.8h-7.4zM443.9 344.8h3.2v7.8h-3.2zM448.0 344.8h1.8v7.8h-1.8zM450.8 344.8h1.8v7.8h-1.8zM453.6 344.8h4.6v7.8h-4.6zM459.1 344.8h3.2v7.8h-3.2zM388.6 352.2h1.8v7.8h-1.8zM394.1 352.2h1.8v7.8h-1.8zM396.9 352.2h1.8v7.8h-1.8zM403.8 352.2h3.2v7.8h-3.2zM409.3 352.2h1.8v7.8h-1.8zM417.6 352.2h1.8v7.8h-1.8zM420.4 352.2h3.2v7.8h-3.2zM425.9 352.2h4.6v7.8h-4.6zM431.4 352.2h1.8v7.8h-1.8zM435.6 352.2h1.8v7.8h-1.8zM438.4 352.2h1.8v7.8h-1.8zM448.0 352.2h3.2v7.8h-3.2zM452.2 352.2h1.8v7.8h-1.8zM454.9 352.2h1.8v7.8h-1.8zM457.7 352.2h1.8v7.8h-1.8zM387.2 359.6h1.8v7.8h-1.8zM392.7 359.6h4.6v7.8h-4.6zM401.0 359.6h3.2v7.8h-3.2zM406.6 359.6h3.2v7.8h-3.2zM413.5 359.6h3.2v7.8h-3.2zM421.8 359.6h1.8v7.8h-1.8zM424.5 359.6h3.2v7.8h-3.2zM428.7 359.6h1.8v7.8h-1.8zM432.8 359.6h1.8v7.8h-1.8zM442.5 359.6h3.2v7.8h-3.2zM448.0 359.6h8.7v7.8h-8.7zM459.1 359.6h3.2v7.8h-3.2zM488.1 367.1h1.8v7.8h-1.8zM490.9 367.1h3.2v7.8h-3.2zM496.4 367.1h1.8v7.8h-1.8zM392.7 381.9h1.8v7.8h-1.8zM443.9 381.9h3.2v7.8h-3.2zM448.0 381.9h3.2v7.8h-3.2zM454.9 381.9h6.0v7.8h-6.0zM387.2 411.5h1.8v7.8h-1.8zM390.0 411.5h1.8v7.8h-1.8zM399.6 411.5h3.2v7.8h-3.2zM405.2 411.5h1.8v7.8h-1.8zM407.9 411.5h3.2v7.8h-3.2zM412.1 411.5h4.6v7.8h-4.6zM420.4 411.5h3.2v7.8h-3.2zM434.2 411.5h1.8v7.8h-1.8zM437.0 411.5h3.2v7.8h-3.2zM441.1 411.5h3.2v7.8h-3.2zM445.3 411.5h1.8v7.8h-1.8zM453.6 411.5h3.2v7.8h-3.2zM459.1 411.5h1.8v7.8h-1.8zM443.9 433.8h3.2v7.4h-3.2zM448.0 433.8h1.8v7.4h-1.8zM450.8 433.8h1.8v7.4h-1.8zM460.5 433.8h1.8v7.4h-1.8zM475.7 433.8h1.8v7.4h-1.8zM488.1 433.8h3.2v7.4h-3.2zM493.7 433.8h1.8v7.4h-1.8z" fill="#468ce6"/>
<path d="M439.7 285.5h1.8v7.8h-1.8z" fill="#6e96e6"/>
<path d="M464.6 285.5h1.8v7.8h-1.8zM421.8 433.8h1.8v7.4h-1.8z" fill="#6482c8"/>
<path d="M466.0 285.5h1.8v7.8h-1.8zM481.2 285.5h1.8v7.8h-1.8zM471.5 359.6h1.8v7.8h-1.8z" fill="#96325a"/>
<path d="M482.6 285.5h1.8v7.8h-1.8zM387.2 307.7h1.8v7.8h-1.8z" fill="#6e8cd2"/>
<path d="M488.1 285.5h1.8v7.8h-1.8z" fill="#64aafa"/>
<path d="M403.8 292.9h1.8v7.8h-1.8zM416.2 300.3h1.8v7.8h-1.8zM390.0 330.0h1.8v7.8h-1.8zM412.1 367.1h1.8v7.8h-1.8zM470.1 367.1h1.8v7.8h-1.8zM475.7 367.1h1.8v7.8h-1.8z" fill="#4682d2"/>
<path d="M405.2 292.9h1.8v7.8h-1.8zM457.7 322.6h1.8v7.8h-1.8zM399.6 330.0h1.8v7.8h-1.8zM437.0 344.8h1.8v7.8h-1.8zM467.4 344.8h1.8v7.8h-1.8zM414.9 367.1h1.8v7.8h-1.8z" fill="#4678d2"/>
<path d="M432.8 292.9h1.8v7.8h-1.8zM456.3 292.9h1.8v7.8h-1.8zM474.3 300.3h1.8v7.8h-1.8zM479.8 300.3h1.8v7.8h-1.8zM407.9 352.2h1.8v7.8h-1.8zM410.7 352.2h1.8v7.8h-1.8zM413.5 352.2h1.8v7.8h-1.8zM446.6 352.2h1.8v7.8h-1.8zM388.6 359.6h3.2v7.8h-3.2zM406.6 411.5h1.8v7.8h-1.8zM416.2 411.5h1.8v7.8h-1.8zM428.7 411.5h1.8v7.8h-1.8zM448.0 411.5h1.8v7.8h-1.8zM453.6 433.8h1.8v7.4h-1.8z" fill="#3c82dc"/>
<path d="M488.1 292.9h3.2v7.8h-3.2zM492.3 292.9h1.8v7.8h-1.8zM495.0 292.9h1.8v7.8h-1.8zM493.7 344.8h1.8v7.8h-1.8zM496.4 344.8h1.8v7.8h-1.8zM489.5 352.2h1.8v7.8h-1.8zM496.4 352.2h1.8v7.8h-1.8zM450.8 367.1h1.8v7.8h-1.8z" fill="#aa1432"/>
<path d="M490.9 292.9h1.8v7.8h-1.8zM488.1 344.8h1.8v7.8h-1.8zM490.9 344.8h1.8v7.8h-1.8zM488.1 352.2h1.8v7.8h-1.8zM446.6 367.1h3.2v7.8h-3.2z" fill="#aa1428"/>
<path d="M493.7 292.9h1.8v7.8h-1.8zM490.9 352.2h1.8v7.8h-1.8zM445.3 367.1h1.8v7.8h-1.8z" fill="#b41e3c"/>
<path d="M496.4 292.9h1.8v7.8h-1.8zM489.5 344.8h1.8v7.8h-1.8zM492.3 344.8h1.8v7.8h-1.8zM495.0 344.8h1.8v7.8h-1.8zM492.3 352.2h4.6v7.8h-4.6zM443.9 367.1h1.8v7.8h-1.8zM449.4 367.1h1.8v7.8h-1.8z" fill="#b41e32"/>
<path d="M388.6 300.3h1.8v7.8h-1.8zM392.7 300.3h1.8v7.8h-1.8zM475.7 344.8h1.8v7.8h-1.8zM479.8 344.8h1.8v7.8h-1.8zM481.2 359.6h1.8v7.8h-1.8z" fill="#aa1e46"/>
<path d="M394.1 300.3h1.8v7.8h-1.8zM495.0 322.6h1.8v7.8h-1.8zM488.1 381.9h3.2v7.8h-3.2zM495.0 381.9h1.8v7.8h-1.8zM488.1 411.5h3.2v7.8h-3.2z" fill="#8c508c"/>
<path d="M396.9 300.3h1.8v7.8h-1.8zM489.5 322.6h1.8v7.8h-1.8zM496.4 322.6h1.8v7.8h-1.8zM482.6 344.8h1.8v7.8h-1.8zM477.1 359.6h1.8v7.8h-1.8zM482.6 359.6h1.8v7.8h-1.8zM485.4 359.6h3.2v7.8h-3.2zM490.9 381.9h1.8v7.8h-1.8zM490.9 411.5h1.8v7.8h-1.8zM495.0 411.5h1.8v7.8h-1.8z" fill="#aa2846"/>
<path d="M402.4 300.3h1.8v7.8h-1.8zM486.7 344.8h1.8v7.8h-1.8z" fill="#a01e3c"/>
<path d="M495.0 300.3h1.8v7.8h-1.8zM454.9 419.0h1.8v7.8h-1.8z" fill="#6496e6"/>
<path d="M394.1 307.7h1.8v7.8h-1.8zM467.4 315.1h1.8v7.8h-1.8zM395.5 337.4h1.8v7.8h-1.8zM396.9 396.7h1.8v7.8h-1.8zM409.3 396.7h1.8v7.8h-1.8zM413.5 396.7h1.8v7.8h-1.8zM466.0 426.4h1.8v7.8h-1.8zM471.5 426.4h1.8v7.8h-1.8z" fill="#78b4dc"/>
<path d="M395.5 307.7h1.8v7.8h-1.8zM427.3 426.4h1.8v7.8h-1.8z" fill="#6eb4dc"/>
<path d="M398.3 307.7h1.8v7.8h-1.8z" fill="#82bef0"/>
<path d="M399.6 307.7h1.8v7.8h-1.8z" fill="#6e96dc"/>
<path d="M430.1 315.1h1.8v7.8h-1.8zM470.1 330.0h1.8v7.8h-1.8zM472.9 330.0h1.8v7.8h-1.8z" fill="#5096dc"/>
<path d="M453.6 315.1h1.8v7.8h-1.8zM472.9 315.1h1.8v7.8h-1.8zM475.7 315.1h1.8v7.8h-1.8zM486.7 337.4h1.8v7.8h-1.8zM390.0 396.7h1.8v7.8h-1.8zM392.7 396.7h1.8v7.8h-1.8zM395.5 396.7h1.8v7.8h-1.8zM412.1 396.7h1.8v7.8h-1.8zM472.9 396.7h1.8v7.8h-1.8zM477.1 396.7h1.8v7.8h-1.8zM484.0 396.7h1.8v7.8h-1.8zM445.3 419.0h1.8v7.8h-1.8zM486.7 426.4h1.8v7.8h-1.8z" fill="#8c82be"/>
<path d="M460.5 315.1h1.8v7.8h-1.8zM484.0 315.1h1.8v7.8h-1.8zM398.3 322.6h1.8v7.8h-1.8zM402.4 322.6h1.8v7.8h-1.8zM402.4 337.4h1.8v7.8h-1.8zM484.0 337.4h1.8v7.8h-1.8zM407.9 396.7h1.8v7.8h-1.8zM424.5 396.7h1.8v7.8h-1.8zM461.9 396.7h1.8v7.8h-1.8zM468.8 396.7h1.8v7.8h-1.8zM471.5 396.7h1.8v7.8h-1.8zM468.8 404.1h1.8v7.8h-1.8zM464.6 426.4h1.8v7.8h-1.8zM470.1 426.4h1.8v7.8h-1.8zM479.8 426.4h1.8v7.8h-1.8zM482.6 426.4h1.8v7.8h-1.8z" fill="#8278b4"/>
<path d="M387.2 322.6h1.8v7.8h-1.8zM492.3 381.9h1.8v7.8h-1.8zM496.4 381.9h1.8v7.8h-1.8z" fill="#965a96"/>
<path d="M388.6 322.6h1.8v7.8h-1.8zM392.7 322.6h1.8v7.8h-1.8z" fill="#b43c50"/>
<path d="M390.0 322.6h1.8v7.8h-1.8z" fill="#e6826e"/>
<path d="M391.3 322.6h1.8v7.8h-1.8z" fill="#b43c5a"/>
<path d="M395.5 322.6h1.8v7.8h-1.8z" fill="#a06ea0"/>
<path d="M396.9 322.6h1.8v7.8h-1.8z" fill="#d28c96"/>
<path d="M399.6 322.6h1.8v7.8h-1.8z" fill="#966496"/>
<path d="M403.8 322.6h1.8v7.8h-1.8zM413.5 344.8h1.8v7.8h-1.8z" fill="#3250dc"/>
<path d="M405.2 322.6h1.8v7.8h-1.8zM454.9 322.6h1.8v7.8h-1.8zM486.7 322.6h1.8v7.8h-1.8zM414.9 344.8h1.8v7.8h-1.8z" fill="#4678dc"/>
<path d="M406.6 322.6h1.8v7.8h-1.8zM412.1 322.6h1.8v7.8h-1.8zM423.1 322.6h1.8v7.8h-1.8zM452.2 322.6h3.2v7.8h-3.2zM460.5 322.6h1.8v7.8h-1.8zM467.4 322.6h1.8v7.8h-1.8zM405.2 344.8h3.2v7.8h-3.2z" fill="#3246dc"/>
<path d="M407.9 322.6h1.8v7.8h-1.8zM417.6 322.6h1.8v7.8h-1.8zM481.2 322.6h1.8v7.8h-1.8zM403.8 344.8h1.8v7.8h-1.8zM420.4 344.8h1.8v7.8h-1.8zM423.1 344.8h1.8v7.8h-1.8z" fill="#7864be"/>
<path d="M409.3 322.6h1.8v7.8h-1.8zM475.7 322.6h1.8v7.8h-1.8zM421.8 374.5h1.8v7.8h-1.8z" fill="#6e5ab4"/>
<path d="M413.5 322.6h1.8v7.8h-1.8zM421.8 322.6h1.8v7.8h-1.8zM461.9 344.8h1.8v7.8h-1.8z" fill="#6478d2"/>
<path d="M414.9 322.6h1.8v7.8h-1.8z" fill="#5a6ec8"/>
<path d="M416.2 322.6h1.8v7.8h-1.8z" fill="#5078dc"/>
<path d="M419.0 322.6h1.8v7.8h-1.8z" fill="#3c50e6"/>
<path d="M420.4 322.6h1.8v7.8h-1.8zM474.3 322.6h1.8v7.8h-1.8zM421.8 344.8h1.8v7.8h-1.8z" fill="#283cd2"/>
<path d="M425.9 322.6h1.8v7.8h-1.8zM406.6 374.5h1.8v7.8h-1.8zM423.1 374.5h1.8v7.8h-1.8z" fill="#323ce6"/>
<path d="M427.3 322.6h1.8v7.8h-1.8zM434.2 322.6h1.8v7.8h-1.8zM403.8 374.5h1.8v7.8h-1.8zM410.7 374.5h1.8v7.8h-1.8zM414.9 374.5h1.8v7.8h-1.8z" fill="#6e50b4"/>
<path d="M428.7 322.6h1.8v7.8h-1.8zM431.4 322.6h1.8v7.8h-1.8zM416.2 374.5h1.8v7.8h-1.8zM419.0 374.5h1.8v7.8h-1.8z" fill="#323cdc"/>
<path d="M430.1 322.6h1.8v7.8h-1.8zM437.0 322.6h3.2v7.8h-3.2zM461.9 322.6h1.8v7.8h-1.8zM471.5 322.6h1.8v7.8h-1.8z" fill="#283cdc"/>
<path d="M432.8 322.6h1.8v7.8h-1.8zM441.1 322.6h1.8v7.8h-1.8zM420.4 374.5h1.8v7.8h-1.8zM424.5 374.5h1.8v7.8h-1.8z" fill="#1e32d2"/>
<path d="M435.6 322.6h1.8v7.8h-1.8zM407.9 374.5h1.8v7.8h-1.8zM413.5 374.5h1.8v7.8h-1.8z" fill="#6450b4"/>
<path d="M439.7 322.6h1.8v7.8h-1.8zM417.6 374.5h1.8v7.8h-1.8z" fill="#2832d2"/>
<path d="M442.5 322.6h1.8v7.8h-1.8z" fill="#6e5abe"/>
<path d="M443.9 322.6h1.8v7.8h-1.8z" fill="#dc785a"/>
<path d="M450.8 322.6h1.8v7.8h-1.8z" fill="#d26e46"/>
<path d="M459.1 322.6h1.8v7.8h-1.8zM398.3 367.1h1.8v7.8h-1.8z" fill="#645aaa"/>
<path d="M468.8 322.6h1.8v7.8h-1.8zM472.9 322.6h1.8v7.8h-1.8zM482.6 322.6h3.2v7.8h-3.2zM410.7 344.8h1.8v7.8h-1.8zM416.2 344.8h1.8v7.8h-1.8zM424.5 344.8h1.8v7.8h-1.8z" fill="#5082e6"/>
<path d="M478.4 322.6h1.8v7.8h-1.8z" fill="#1e32c8"/>
<path d="M479.8 322.6h1.8v7.8h-1.8z" fill="#466ed2"/>
<path d="M488.1 322.6h1.8v7.8h-1.8z" fill="#965096"/>
<path d="M490.9 322.6h1.8v7.8h-1.8z" fill="#783c82"/>
<path d="M492.3 322.6h3.2v7.8h-3.2z" fill="#a01e46"/>
<path d="M387.2 330.0h1.8v7.8h-1.8zM461.9 367.1h1.8v7.8h-1.8zM481.2 367.1h1.8v7.8h-1.8zM452.2 419.0h1.8v7.8h-1.8zM434.2 433.8h1.8v7.4h-1.8z" fill="#6e64aa"/>
<path d="M493.7 330.0h1.8v7.8h-1.8zM407.9 404.1h1.8v7.8h-1.8z" fill="#96dcff"/>
<path d="M387.2 337.4h1.8v7.8h-1.8zM464.6 396.7h1.8v7.8h-1.8z" fill="#968cc8"/>
<path d="M416.2 337.4h1.8v7.8h-1.8zM439.7 396.7h1.8v7.8h-1.8z" fill="#96dcfa"/>
<path d="M463.2 337.4h1.8v7.8h-1.8zM403.8 396.7h1.8v7.8h-1.8z" fill="#78aad2"/>
<path d="M395.5 344.8h1.8v7.8h-1.8z" fill="#2850e6"/>
<path d="M407.9 344.8h1.8v7.8h-1.8z" fill="#5a8cf0"/>
<path d="M409.3 344.8h1.8v7.8h-1.8z" fill="#3250e6"/>
<path d="M412.1 344.8h1.8v7.8h-1.8z" fill="#786ec8"/>
<path d="M417.6 344.8h1.8v7.8h-1.8z" fill="#2846d2"/>
<path d="M438.4 344.8h1.8v7.8h-1.8zM471.5 344.8h1.8v7.8h-1.8z" fill="#6496f0"/>
<path d="M474.3 344.8h1.8v7.8h-1.8z" fill="#648ce6"/>
<path d="M477.1 344.8h3.2v7.8h-3.2z" fill="#a05a96"/>
<path d="M482.6 352.2h1.8v7.8h-1.8zM496.4 359.6h1.8v7.8h-1.8zM410.7 433.8h1.8v7.4h-1.8z" fill="#963250"/>
<path d="M461.9 359.6h1.8v7.8h-1.8z" fill="#825096"/>
<path d="M475.7 359.6h1.8v7.8h-1.8zM484.0 359.6h1.8v7.8h-1.8z" fill="#a0143c"/>
<path d="M478.4 359.6h1.8v7.8h-1.8z" fill="#a01432"/>
<path d="M489.5 359.6h1.8v7.8h-1.8z" fill="#506ebe"/>
<path d="M490.9 359.6h1.8v7.8h-1.8z" fill="#4664b4"/>
<path d="M495.0 359.6h1.8v7.8h-1.8z" fill="#5a78be"/>
<path d="M452.2 367.1h1.8v7.8h-1.8z" fill="#8c1e46"/>
<path d="M391.3 374.5h1.8v7.8h-1.8zM419.0 419.0h1.8v7.8h-1.8z" fill="#283cf0"/>
<path d="M405.2 374.5h1.8v7.8h-1.8z" fill="#3246e6"/>
<path d="M409.3 374.5h1.8v7.8h-1.8z" fill="#785abe"/>
<path d="M412.1 374.5h1.8v7.8h-1.8z" fill="#2832dc"/>
<path d="M443.9 374.5h4.6v7.8h-4.6zM449.4 374.5h3.2v7.8h-3.2z" fill="#785ab4"/>
<path d="M448.0 374.5h1.8v7.8h-1.8z" fill="#2832c8"/>
<path d="M452.2 374.5h1.8v7.8h-1.8z" fill="#9678aa"/>
<path d="M453.6 374.5h1.8v7.8h-1.8z" fill="#e68c6e"/>
<path d="M454.9 374.5h1.8v7.8h-1.8z" fill="#8c6496"/>
<path d="M457.7 374.5h1.8v7.8h-1.8z" fill="#96b4d2"/>
<path d="M461.9 374.5h1.8v7.8h-1.8zM466.0 374.5h1.8v7.8h-1.8zM485.4 374.5h1.8v7.8h-1.8z" fill="#96285a"/>
<path d="M463.2 374.5h1.8v7.8h-1.8z" fill="#a0285a"/>
<path d="M464.6 374.5h1.8v7.8h-1.8z" fill="#825aaa"/>
<path d="M467.4 374.5h1.8v7.8h-1.8zM475.7 374.5h1.8v7.8h-1.8z" fill="#3c32be"/>
<path d="M468.8 374.5h1.8v7.8h-1.8z" fill="#7850a0"/>
<path d="M470.1 374.5h1.8v7.8h-1.8zM484.0 374.5h1.8v7.8h-1.8z" fill="#8250a0"/>
<path d="M471.5 374.5h1.8v7.8h-1.8zM482.6 374.5h1.8v7.8h-1.8z" fill="#8c1e50"/>
<path d="M472.9 374.5h1.8v7.8h-1.8z" fill="#2828b4"/>
<path d="M477.1 374.5h1.8v7.8h-1.8z" fill="#3c32c8"/>
<path d="M478.4 374.5h1.8v7.8h-1.8z" fill="#463cc8"/>
<path d="M479.8 374.5h1.8v7.8h-1.8zM495.0 374.5h1.8v7.8h-1.8z" fill="#961e50"/>
<path d="M486.7 374.5h1.8v7.8h-1.8z" fill="#8c5aaa"/>
<path d="M488.1 374.5h1.8v7.8h-1.8zM493.7 374.5h1.8v7.8h-1.8zM496.4 374.5h1.8v7.8h-1.8z" fill="#3228be"/>
<path d="M489.5 374.5h1.8v7.8h-1.8z" fill="#8c1450"/>
<path d="M490.9 374.5h1.8v7.8h-1.8z" fill="#961e5a"/>
<path d="M492.3 374.5h1.8v7.8h-1.8z" fill="#281eb4"/>
<path d="M417.6 381.9h1.8v7.8h-1.8z" fill="#64aadc"/>
<path d="M493.7 381.9h1.8v7.8h-1.8zM482.6 411.5h1.8v7.8h-1.8zM492.3 411.5h3.2v7.8h-3.2z" fill="#aa2850"/>
<path d="M396.9 389.3h1.8v7.8h-1.8zM489.5 389.3h1.8v7.8h-1.8zM460.5 396.7h1.8v7.8h-1.8zM419.0 404.1h1.8v7.8h-1.8zM425.9 426.4h1.8v7.8h-1.8z" fill="#8cdcfa"/>
<path d="M398.3 396.7h1.8v7.8h-1.8z" fill="#7878b4"/>
<path d="M474.3 396.7h1.8v7.8h-1.8z" fill="#8cbef0"/>
<path d="M481.2 396.7h1.8v7.8h-1.8zM475.7 426.4h1.8v7.8h-1.8z" fill="#96d2fa"/>
<path d="M471.5 404.1h1.8v7.8h-1.8z" fill="#9682be"/>
<path d="M467.4 411.5h1.8v7.8h-1.8z" fill="#961e46"/>
<path d="M472.9 411.5h1.8v7.8h-1.8z" fill="#aa325a"/>
<path d="M478.4 411.5h1.8v7.8h-1.8z" fill="#a02846"/>
<path d="M485.4 411.5h1.8v7.8h-1.8z" fill="#a064aa"/>
<path d="M496.4 411.5h1.8v7.8h-1.8z" fill="#b43250"/>
<path d="M395.5 419.0h1.8v7.8h-1.8zM407.9 419.0h1.8v7.8h-1.8zM434.2 419.0h1.8v7.8h-1.8z" fill="#1428d2"/>
<path d="M431.4 419.0h1.8v7.8h-1.8z" fill="#0a28d2"/>
<path d="M461.9 419.0h1.8v7.8h-1.8zM464.6 419.0h1.8v7.8h-1.8zM474.3 419.0h1.8v7.8h-1.8z" fill="#f0783c"/>
<path d="M463.2 419.0h1.8v7.8h-1.8z" fill="#fa8250"/>
<path d="M466.0 419.0h1.8v7.8h-1.8zM470.1 419.0h4.6v7.8h-4.6z" fill="#f07846"/>
<path d="M467.4 419.0h1.8v7.8h-1.8z" fill="#e66e32"/>
<path d="M468.8 419.0h1.8v7.8h-1.8z" fill="#e66e3c"/>
<path d="M475.7 419.0h3.2v7.8h-3.2zM486.7 419.0h1.8v7.8h-1.8z" fill="#e65032"/>
<path d="M478.4 419.0h1.8v7.8h-1.8zM482.6 419.0h1.8v7.8h-1.8zM485.4 419.0h1.8v7.8h-1.8z" fill="#e64628"/>
<path d="M479.8 419.0h1.8v7.8h-1.8z" fill="#f05a32"/>
<path d="M481.2 419.0h1.8v7.8h-1.8z" fill="#f06e3c"/>
<path d="M484.0 419.0h1.8v7.8h-1.8z" fill="#d23c1e"/>
<path d="M488.1 419.0h1.8v7.8h-1.8z" fill="#dc3c28"/>
<path d="M489.5 419.0h1.8v7.8h-1.8zM492.3 419.0h3.2v7.8h-3.2z" fill="#be2832"/>
<path d="M490.9 419.0h1.8v7.8h-1.8z" fill="#c8283c"/>
<path d="M495.0 419.0h3.2v7.8h-3.2z" fill="#b41e28"/>
<path d="M390.0 426.4h1.8v7.8h-1.8z" fill="#78bedc"/>
<path d="M403.8 433.8h1.8v7.4h-1.8zM412.1 433.8h1.8v7.4h-1.8z" fill="#a03c64"/>
<rect x="402.80" y="241.00" width="0.80" height="200.20" fill="#c4ecfa" opacity="0.75"/>
<rect x="425.60" y="241.00" width="0.80" height="200.20" fill="#c4ecfa" opacity="0.75"/>
<rect x="443.20" y="241.00" width="0.80" height="200.20" fill="#c4ecfa" opacity="0.75"/>
<rect x="452.10" y="241.00" width="0.80" height="200.20" fill="#c4ecfa" opacity="0.75"/>
<rect x="462.00" y="241.00" width="0.80" height="200.20" fill="#c4ecfa" opacity="0.75"/>
<rect x="487.50" y="241.00" width="0.80" height="200.20" fill="#c4ecfa" opacity="0.75"/>
<text x="419.6" y="451.0" font-size="8.27" textLength="58.5" lengthAdjust="spacingAndGlyphs" >scRNAseq expression</text>
<defs><linearGradient id="gF" x1="0" x2="1"><stop offset="0" stop-color="#0c0c8c"/><stop offset="0.18" stop-color="#2848d0"/><stop offset="0.4" stop-color="#90e4e0"/><stop offset="0.62" stop-color="#e8f4a8"/><stop offset="0.75" stop-color="#f8f070"/><stop offset="0.88" stop-color="#f0a048"/><stop offset="1" stop-color="#d01414"/></linearGradient></defs>
<rect x="428.00" y="456.80" width="43.30" height="5.40" fill="url(#gF)" />
<text x="425.5" y="470.2" font-size="8.06" textLength="10.6" lengthAdjust="spacingAndGlyphs" >Min</text>
<text x="462.1" y="470.2" font-size="8.06" textLength="12.6" lengthAdjust="spacingAndGlyphs" >Max</text>
<circle cx="20.4" cy="497.3" r="2.1" fill="#000"/>
<text x="24.6" y="500.0" font-size="8.06" textLength="34.2" lengthAdjust="spacingAndGlyphs" >CD4<tspan font-size="92%" baseline-shift="1.0">+</tspan> <tspan font-size="7.0">naive</tspan></text>
<circle cx="20.4" cy="507.7" r="2.1" fill="#a8d8f0"/>
<text x="24.6" y="510.4" font-size="8.06" textLength="29.8" lengthAdjust="spacingAndGlyphs" >CD4<tspan font-size="92%" baseline-shift="1.0">+</tspan> CM</text>
<circle cx="20.4" cy="516.5" r="2.1" fill="#58a8f0"/>
<text x="24.6" y="519.2" font-size="8.06" textLength="28.9" lengthAdjust="spacingAndGlyphs" >CD4<tspan font-size="92%" baseline-shift="1.0">+</tspan> EM</text>
<circle cx="20.4" cy="525.6" r="2.1" fill="#1018c0"/>
<text x="24.6" y="528.3" font-size="8.06" textLength="16.4" lengthAdjust="spacingAndGlyphs" >Tregs</text>
<circle cx="62.7" cy="497.3" r="2.1" fill="#f8d8cc"/>
<text x="66.5" y="500.0" font-size="8.06" textLength="34.1" lengthAdjust="spacingAndGlyphs" >CD8<tspan font-size="92%" baseline-shift="1.0">+</tspan> <tspan font-size="7.0">naive</tspan></text>
<circle cx="62.7" cy="507.7" r="2.1" fill="#f4a070"/>
<text x="66.5" y="510.4" font-size="8.06" textLength="30.2" lengthAdjust="spacingAndGlyphs" >CD8<tspan font-size="92%" baseline-shift="1.0">+</tspan> CM</text>
<circle cx="62.7" cy="516.5" r="2.1" fill="#f06a2a"/>
<text x="66.5" y="519.2" font-size="8.06" textLength="29.3" lengthAdjust="spacingAndGlyphs" >CD8<tspan font-size="92%" baseline-shift="1.0">+</tspan> EM</text>
<circle cx="62.7" cy="525.6" r="2.1" fill="#e02a10"/>
<text x="66.5" y="528.3" font-size="8.06" textLength="41.8" lengthAdjust="spacingAndGlyphs" >CD8<tspan font-size="92%" baseline-shift="1.0">+</tspan> TEMRA</text>
<circle cx="115.5" cy="504.1" r="2.0" fill="#000"/>
<text x="119.8" y="506.8" font-size="8.06" textLength="41.8" lengthAdjust="spacingAndGlyphs" >CD8<tspan font-size="92%" baseline-shift="1.0">+</tspan> <tspan font-size="7.0">effector</tspan></text>
<circle cx="115.5" cy="512.7" r="1.5" fill="#fff" stroke="#000" stroke-width="1.1"/>
<text x="119.8" y="515.4" font-size="8.06" textLength="37.6" lengthAdjust="spacingAndGlyphs" >CD4<tspan font-size="92%" baseline-shift="1.0">−</tspan>/CD8<tspan font-size="92%" baseline-shift="1.0">−</tspan></text>
<circle cx="115.5" cy="520.8" r="2.0" fill="#b4c6ca"/>
<text x="119.8" y="523.5" font-size="8.06" textLength="38.4" lengthAdjust="spacingAndGlyphs" >CD4<tspan font-size="92%" baseline-shift="1.0">+</tspan>/CD8<tspan font-size="92%" baseline-shift="1.0">+</tspan></text>
<line x1="19.00" y1="549.70" x2="19.00" y2="642.50" stroke="#000" stroke-width="1.3" />
<line x1="18.40" y1="641.90" x2="106.80" y2="641.90" stroke="#000" stroke-width="1.3" />
<text x="14.3" y="596.0" font-size="9.54" text-anchor="middle" font-weight="bold" textLength="21.9" lengthAdjust="spacingAndGlyphs" transform="rotate(-90 14.3 596.0)" >UMAP2</text>
<text x="63.0" y="650.3" font-size="8.90" text-anchor="middle" font-weight="bold" textLength="16.2" lengthAdjust="spacingAndGlyphs" >UMAP1</text>
<polygon points="40.0,557.0 43.0,553.0 48.0,551.5 55.0,551.5 58.0,553.0 57.0,560.0 54.0,566.0 50.0,570.0 46.0,572.0 42.0,568.0 40.0,562.0" fill="#f8d4c4" stroke="none" stroke-width="1" />
<polygon points="56.0,551.5 62.0,550.0 70.0,549.5 76.0,551.0 79.0,556.0 78.0,562.0 72.0,566.0 62.0,567.0 57.0,563.0 56.0,556.0" fill="#e6200e" stroke="none" stroke-width="1" />
<polygon points="52.0,565.0 60.0,562.0 70.0,562.0 78.0,560.0 81.0,564.0 81.5,570.0 80.0,575.0 72.0,577.0 60.0,577.5 53.0,576.0 50.0,572.0" fill="#f0461a" stroke="none" stroke-width="1" />
<polygon points="47.0,566.0 52.0,563.0 56.0,564.0 55.0,570.0 52.0,575.0 48.0,574.0" fill="#f48a58" stroke="none" stroke-width="1" />
<polygon points="76.0,551.0 79.0,552.0 80.5,556.0 80.0,559.5 78.0,558.5 76.5,554.0" fill="#111" stroke="none" stroke-width="1" />
<polygon points="41.5,567.5 45.5,566.5 46.5,571.0 45.0,576.0 42.0,576.0 41.0,572.0" fill="#b8c4c4" stroke="none" stroke-width="1" />
<path d="M58.6 553.2h0M65.2 559.9h0M61.0 557.6h0M63.4 555.6h0M58.2 553.0h0M60.8 558.0h0M64.2 555.6h0M60.8 560.2h0M59.9 560.1h0M63.0 552.7h0M61.3 557.3h0M61.5 553.6h0M58.4 554.9h0M59.8 561.2h0M60.2 556.6h0M59.0 557.0h0M61.8 558.5h0M60.1 555.5h0" stroke="#f8d0c0" stroke-width="1.10" stroke-linecap="round" fill="none"/>
<path d="M58.4 559.7h0M63.7 560.5h0M58.0 558.5h0M64.0 555.2h0M61.2 556.6h0M59.8 553.0h0M58.6 561.6h0M61.8 557.8h0M61.1 556.7h0M58.0 559.7h0" stroke="#ffffff" stroke-width="1.10" stroke-linecap="round" fill="none"/>
<path d="M61.0 554.4h0M64.1 553.9h0M58.2 558.3h0M61.9 554.6h0M60.3 556.9h0M58.7 561.5h0M65.6 558.8h0M65.7 557.1h0M64.8 558.9h0M64.4 551.5h0M58.1 555.2h0M65.3 557.6h0" stroke="#f06040" stroke-width="1.10" stroke-linecap="round" fill="none"/>
<path d="M56.0 565.8h0M56.0 565.9h0M57.2 565.4h0M52.3 564.9h0M51.5 559.7h0M56.9 563.5h0M54.5 565.9h0M53.5 559.1h0M55.6 562.6h0M53.4 560.9h0M53.9 563.7h0M53.3 563.0h0" stroke="#f8d0c0" stroke-width="1.10" stroke-linecap="round" fill="none"/>
<path d="M56.5 564.1h0M52.7 560.8h0M57.2 563.8h0M56.1 561.0h0" stroke="#f08050" stroke-width="1.10" stroke-linecap="round" fill="none"/>
<path d="M53.1 561.7h0M53.0 567.2h0M56.4 565.0h0M53.7 560.2h0M53.2 560.0h0M53.9 562.7h0M52.5 560.1h0M53.2 563.9h0M53.9 566.4h0" stroke="#ffffff" stroke-width="1.10" stroke-linecap="round" fill="none"/>
<circle cx="81.5" cy="552.5" r="0.5" fill="#111"/><circle cx="83.5" cy="555" r="0.45" fill="#111"/>
<polygon points="94.5,563.0 98.5,561.8 100.6,564.5 100.0,568.5 96.0,569.0 94.0,566.5" fill="#1424d0" stroke="none" stroke-width="1" />
<polygon points="24.0,606.0 28.0,602.5 38.0,601.5 50.0,602.2 62.0,602.5 67.0,604.0 68.8,609.0 67.0,615.0 62.0,617.5 55.0,619.0 48.0,621.0 46.0,622.0 40.0,621.5 32.0,620.0 25.5,617.0 23.3,611.0" fill="#b4e0f1" stroke="none" stroke-width="1" />
<polygon points="44.0,602.0 55.0,601.8 63.0,602.3 67.0,604.0 68.8,609.0 67.0,614.0 62.0,615.5 55.0,615.0 50.0,611.0 46.0,606.0" fill="#6eb4f2" stroke="none" stroke-width="1" />
<polygon points="36.0,620.0 46.0,620.0 48.0,624.0 47.5,630.0 44.0,632.5 40.0,632.0 37.0,628.0" fill="#dcf0f8" stroke="none" stroke-width="1" />
<polygon points="43.0,621.0 46.5,621.0 47.0,627.0 45.0,629.0 43.5,626.0" fill="#9cd0f0" stroke="none" stroke-width="1" />
<path d="M47.5 613.6h0M59.3 605.8h0M65.6 605.8h0M46.1 616.7h0M27.1 606.7h0M31.3 610.4h0M31.3 612.2h0M56.6 609.5h0M33.0 616.1h0M46.7 617.6h0M45.8 604.4h0M63.1 609.9h0M34.3 611.9h0" stroke="#d0ecf8" stroke-width="1.20" stroke-linecap="round" fill="none"/>
<path d="M32.1 608.1h0M33.6 609.8h0M58.8 614.0h0M35.5 609.8h0M56.7 612.3h0M55.1 608.0h0M49.6 609.8h0M45.3 612.5h0M62.0 604.1h0M38.6 605.2h0" stroke="#62aef2" stroke-width="1.20" stroke-linecap="round" fill="none"/>
<path d="M56.9 618.5h0M45.0 618.0h0M52.5 616.2h0M53.1 604.4h0M38.4 604.8h0M29.3 611.5h0M30.3 609.4h0M64.3 618.3h0M56.3 605.6h0M48.7 607.8h0M53.4 613.4h0M55.9 616.3h0M65.5 605.7h0M35.2 611.3h0M58.3 610.8h0" stroke="#eaf6fc" stroke-width="1.20" stroke-linecap="round" fill="none"/>
<path d="M61.0 617.5h0M46.4 605.9h0M52.4 610.1h0M58.4 608.9h0M35.8 610.5h0M27.0 610.8h0M35.3 608.5h0M39.6 617.0h0M29.3 605.3h0M43.4 618.0h0M59.3 607.4h0M59.7 605.6h0" stroke="#9cd4f0" stroke-width="1.20" stroke-linecap="round" fill="none"/>
<path d="M43.0 623.1h0M39.9 626.7h0M43.5 621.4h0M38.1 626.8h0M37.8 627.1h0M37.1 631.5h0M41.4 624.4h0M40.4 626.6h0M46.5 629.4h0" stroke="#b0dcf0" stroke-width="1.20" stroke-linecap="round" fill="none"/>
<path d="M39.3 626.8h0M43.4 630.5h0M46.0 631.4h0" stroke="#ffffff" stroke-width="1.20" stroke-linecap="round" fill="none"/>
<path d="M44.3 627.5h0M44.2 628.5h0M36.1 624.9h0M45.8 628.7h0M45.0 629.3h0M36.3 626.8h0M43.3 626.6h0M45.0 630.3h0" stroke="#e8f4fa" stroke-width="1.20" stroke-linecap="round" fill="none"/>
<polygon points="66.5,612.0 68.5,611.5 68.8,615.0 67.0,615.5" fill="#2040e0" stroke="none" stroke-width="1" />
<circle cx="37" cy="602" r="0.5" fill="#2040e0"/><circle cx="94.5" cy="612" r="0.5" fill="#222"/>
<circle cx="96.2" cy="621" r="3.6" fill="#eef1f2"/>
<polygon points="93.8,617.0 98.8,616.2 99.2,618.5 94.5,619.6" fill="#d82010" stroke="none" stroke-width="1" />
<circle cx="96" cy="615" r="0.6" fill="#111"/><circle cx="86" cy="582" r="0.5" fill="#667"/><circle cx="31" cy="636" r="0.6" fill="#4060d0"/><circle cx="44" cy="601" r="0.5" fill="#333"/>
<text x="111.7" y="548.1" font-size="8.06" textLength="23.7" lengthAdjust="spacingAndGlyphs" >Cell type</text>
<rect x="136.50" y="542.60" width="10.10" height="7.60" fill="#eef4fa" stroke="#111" stroke-width="0.7"/>
<rect x="146.60" y="542.60" width="10.00" height="7.60" fill="#a8d8ee" stroke="#111" stroke-width="0.7"/>
<rect x="156.60" y="542.60" width="9.90" height="7.60" fill="#58a8ee" stroke="#111" stroke-width="0.7"/>
<rect x="166.50" y="542.60" width="9.70" height="7.60" fill="#0c1ac4" stroke="#111" stroke-width="0.7"/>
<rect x="176.20" y="542.60" width="9.80" height="7.60" fill="#fae2d8" stroke="#111" stroke-width="0.7"/>
<rect x="186.00" y="542.60" width="9.80" height="7.60" fill="#f4a070" stroke="#111" stroke-width="0.7"/>
<rect x="195.80" y="542.60" width="10.00" height="7.60" fill="#f06a2a" stroke="#111" stroke-width="0.7"/>
<rect x="205.80" y="542.60" width="10.10" height="7.60" fill="#e03010" stroke="#111" stroke-width="0.7"/>
<rect x="215.90" y="542.60" width="9.90" height="7.60" fill="#000000" stroke="#111" stroke-width="0.7"/>
<rect x="225.80" y="542.60" width="10.00" height="7.60" fill="#a8c0c4" stroke="#111" stroke-width="0.7"/>
<rect x="235.80" y="542.60" width="9.70" height="7.60" fill="#f4f8fb" stroke="#111" stroke-width="0.7"/>
<rect x="136.5" y="542.6" width="109" height="7.6" fill="none" stroke="#111" stroke-width="0.9"/>
<rect x="136.50" y="556.50" width="10.15" height="10.93" fill="#e41414" shape-rendering="crispEdges"/>
<rect x="146.60" y="556.50" width="10.05" height="10.93" fill="#a00a0a" shape-rendering="crispEdges"/>
<rect x="156.60" y="556.50" width="9.95" height="10.93" fill="#e41414" shape-rendering="crispEdges"/>
<rect x="166.50" y="556.50" width="9.75" height="10.93" fill="#c40c0c" shape-rendering="crispEdges"/>
<rect x="176.20" y="556.50" width="9.85" height="10.93" fill="#0a0cbe" shape-rendering="crispEdges"/>
<rect x="186.00" y="556.50" width="9.85" height="10.93" fill="#0a0cbe" shape-rendering="crispEdges"/>
<rect x="195.80" y="556.50" width="10.05" height="10.93" fill="#0a0cbe" shape-rendering="crispEdges"/>
<rect x="205.80" y="556.50" width="10.15" height="10.93" fill="#0a0cbe" shape-rendering="crispEdges"/>
<rect x="215.90" y="556.50" width="9.95" height="10.93" fill="#0a0cbe" shape-rendering="crispEdges"/>
<rect x="225.80" y="556.50" width="10.05" height="10.93" fill="#f08848" shape-rendering="crispEdges"/>
<rect x="235.80" y="556.50" width="9.75" height="10.93" fill="#0a0cbe" shape-rendering="crispEdges"/>
<rect x="136.50" y="567.38" width="10.15" height="10.93" fill="#0a0cbe" shape-rendering="crispEdges"/>
<rect x="146.60" y="567.38" width="10.05" height="10.93" fill="#1a36de" shape-rendering="crispEdges"/>
<rect x="156.60" y="567.38" width="9.95" height="10.93" fill="#2a4ee8" shape-rendering="crispEdges"/>
<rect x="166.50" y="567.38" width="9.75" height="10.93" fill="#0a0cbe" shape-rendering="crispEdges"/>
<rect x="176.20" y="567.38" width="9.85" height="10.93" fill="#e41414" shape-rendering="crispEdges"/>
<rect x="186.00" y="567.38" width="9.85" height="10.93" fill="#a00a0a" shape-rendering="crispEdges"/>
<rect x="195.80" y="567.38" width="10.05" height="10.93" fill="#c80c0c" shape-rendering="crispEdges"/>
<rect x="205.80" y="567.38" width="10.15" height="10.93" fill="#e41414" shape-rendering="crispEdges"/>
<rect x="215.90" y="567.38" width="9.95" height="10.93" fill="#e41414" shape-rendering="crispEdges"/>
<rect x="225.80" y="567.38" width="10.05" height="10.93" fill="#e41414" shape-rendering="crispEdges"/>
<rect x="235.80" y="567.38" width="9.75" height="10.93" fill="#0a0cbe" shape-rendering="crispEdges"/>
<rect x="136.50" y="578.25" width="10.15" height="10.93" fill="#f08848" shape-rendering="crispEdges"/>
<rect x="146.60" y="578.25" width="10.05" height="10.93" fill="#0a0cbe" shape-rendering="crispEdges"/>
<rect x="156.60" y="578.25" width="9.95" height="10.93" fill="#0a0cbe" shape-rendering="crispEdges"/>
<rect x="166.50" y="578.25" width="9.75" height="10.93" fill="#0a0cbe" shape-rendering="crispEdges"/>
<rect x="176.20" y="578.25" width="9.85" height="10.93" fill="#a00a0a" shape-rendering="crispEdges"/>
<rect x="186.00" y="578.25" width="9.85" height="10.93" fill="#2a4ee8" shape-rendering="crispEdges"/>
<rect x="195.80" y="578.25" width="10.05" height="10.93" fill="#0a0cbe" shape-rendering="crispEdges"/>
<rect x="205.80" y="578.25" width="10.15" height="10.93" fill="#e41414" shape-rendering="crispEdges"/>
<rect x="215.90" y="578.25" width="9.95" height="10.93" fill="#f0f4a0" shape-rendering="crispEdges"/>
<rect x="225.80" y="578.25" width="10.05" height="10.93" fill="#1a36de" shape-rendering="crispEdges"/>
<rect x="235.80" y="578.25" width="9.75" height="10.93" fill="#e41414" shape-rendering="crispEdges"/>
<rect x="136.50" y="589.12" width="10.15" height="10.93" fill="#a00a0a" shape-rendering="crispEdges"/>
<rect x="146.60" y="589.12" width="10.05" height="10.93" fill="#b8f0f4" shape-rendering="crispEdges"/>
<rect x="156.60" y="589.12" width="9.95" height="10.93" fill="#0a0cbe" shape-rendering="crispEdges"/>
<rect x="166.50" y="589.12" width="9.75" height="10.93" fill="#2a4ee8" shape-rendering="crispEdges"/>
<rect x="176.20" y="589.12" width="9.85" height="10.93" fill="#f8f078" shape-rendering="crispEdges"/>
<rect x="186.00" y="589.12" width="9.85" height="10.93" fill="#f6c060" shape-rendering="crispEdges"/>
<rect x="195.80" y="589.12" width="10.05" height="10.93" fill="#0a0cbe" shape-rendering="crispEdges"/>
<rect x="205.80" y="589.12" width="10.15" height="10.93" fill="#0a0cbe" shape-rendering="crispEdges"/>
<rect x="215.90" y="589.12" width="9.95" height="10.93" fill="#0a0cbe" shape-rendering="crispEdges"/>
<rect x="225.80" y="589.12" width="10.05" height="10.93" fill="#f0f4a0" shape-rendering="crispEdges"/>
<rect x="235.80" y="589.12" width="9.75" height="10.93" fill="#0a0cbe" shape-rendering="crispEdges"/>
<rect x="136.50" y="600.00" width="10.15" height="10.93" fill="#0a0cbe" shape-rendering="crispEdges"/>
<rect x="146.60" y="600.00" width="10.05" height="10.93" fill="#0a0cbe" shape-rendering="crispEdges"/>
<rect x="156.60" y="600.00" width="9.95" height="10.93" fill="#0a0cbe" shape-rendering="crispEdges"/>
<rect x="166.50" y="600.00" width="9.75" height="10.93" fill="#0a0cbe" shape-rendering="crispEdges"/>
<rect x="176.20" y="600.00" width="9.85" height="10.93" fill="#0a0cbe" shape-rendering="crispEdges"/>
<rect x="186.00" y="600.00" width="9.85" height="10.93" fill="#0a0cbe" shape-rendering="crispEdges"/>
<rect x="195.80" y="600.00" width="10.05" height="10.93" fill="#0a0cbe" shape-rendering="crispEdges"/>
<rect x="205.80" y="600.00" width="10.15" height="10.93" fill="#0a0cbe" shape-rendering="crispEdges"/>
<rect x="215.90" y="600.00" width="9.95" height="10.93" fill="#a00a0a" shape-rendering="crispEdges"/>
<rect x="225.80" y="600.00" width="10.05" height="10.93" fill="#0a0cbe" shape-rendering="crispEdges"/>
<rect x="235.80" y="600.00" width="9.75" height="10.93" fill="#0a0cbe" shape-rendering="crispEdges"/>
<rect x="136.50" y="610.88" width="10.15" height="10.93" fill="#1a36de" shape-rendering="crispEdges"/>
<rect x="146.60" y="610.88" width="10.05" height="10.93" fill="#0a0cbe" shape-rendering="crispEdges"/>
<rect x="156.60" y="610.88" width="9.95" height="10.93" fill="#0a0cbe" shape-rendering="crispEdges"/>
<rect x="166.50" y="610.88" width="9.75" height="10.93" fill="#a00a0a" shape-rendering="crispEdges"/>
<rect x="176.20" y="610.88" width="9.85" height="10.93" fill="#0a0cbe" shape-rendering="crispEdges"/>
<rect x="186.00" y="610.88" width="9.85" height="10.93" fill="#1a36de" shape-rendering="crispEdges"/>
<rect x="195.80" y="610.88" width="10.05" height="10.93" fill="#0a0cbe" shape-rendering="crispEdges"/>
<rect x="205.80" y="610.88" width="10.15" height="10.93" fill="#0a0cbe" shape-rendering="crispEdges"/>
<rect x="215.90" y="610.88" width="9.95" height="10.93" fill="#0a0cbe" shape-rendering="crispEdges"/>
<rect x="225.80" y="610.88" width="10.05" height="10.93" fill="#1a36de" shape-rendering="crispEdges"/>
<rect x="235.80" y="610.88" width="9.75" height="10.93" fill="#0a0cbe" shape-rendering="crispEdges"/>
<rect x="136.50" y="621.75" width="10.15" height="10.93" fill="#e83a2a" shape-rendering="crispEdges"/>
<rect x="146.60" y="621.75" width="10.05" height="10.93" fill="#c00c0c" shape-rendering="crispEdges"/>
<rect x="156.60" y="621.75" width="9.95" height="10.93" fill="#f4b868" shape-rendering="crispEdges"/>
<rect x="166.50" y="621.75" width="9.75" height="10.93" fill="#66bcee" shape-rendering="crispEdges"/>
<rect x="176.20" y="621.75" width="9.85" height="10.93" fill="#e83a2a" shape-rendering="crispEdges"/>
<rect x="186.00" y="621.75" width="9.85" height="10.93" fill="#a00a0a" shape-rendering="crispEdges"/>
<rect x="195.80" y="621.75" width="10.05" height="10.93" fill="#66bcee" shape-rendering="crispEdges"/>
<rect x="205.80" y="621.75" width="10.15" height="10.93" fill="#0a0cbe" shape-rendering="crispEdges"/>
<rect x="215.90" y="621.75" width="9.95" height="10.93" fill="#0a0cbe" shape-rendering="crispEdges"/>
<rect x="225.80" y="621.75" width="10.05" height="10.93" fill="#e41414" shape-rendering="crispEdges"/>
<rect x="235.80" y="621.75" width="9.75" height="10.93" fill="#0a0cbe" shape-rendering="crispEdges"/>
<rect x="136.50" y="632.62" width="10.15" height="10.93" fill="#0a0cbe" shape-rendering="crispEdges"/>
<rect x="146.60" y="632.62" width="10.05" height="10.93" fill="#f08848" shape-rendering="crispEdges"/>
<rect x="156.60" y="632.62" width="9.95" height="10.93" fill="#cff4f4" shape-rendering="crispEdges"/>
<rect x="166.50" y="632.62" width="9.75" height="10.93" fill="#a00a0a" shape-rendering="crispEdges"/>
<rect x="176.20" y="632.62" width="9.85" height="10.93" fill="#0a0cbe" shape-rendering="crispEdges"/>
<rect x="186.00" y="632.62" width="9.85" height="10.93" fill="#f0f4a0" shape-rendering="crispEdges"/>
<rect x="195.80" y="632.62" width="10.05" height="10.93" fill="#66bcee" shape-rendering="crispEdges"/>
<rect x="205.80" y="632.62" width="10.15" height="10.93" fill="#3c70f0" shape-rendering="crispEdges"/>
<rect x="215.90" y="632.62" width="9.95" height="10.93" fill="#3464ec" shape-rendering="crispEdges"/>
<rect x="225.80" y="632.62" width="10.05" height="10.93" fill="#e4f4c8" shape-rendering="crispEdges"/>
<rect x="235.80" y="632.62" width="9.75" height="10.93" fill="#4a94ee" shape-rendering="crispEdges"/>
<line x1="146.60" y1="556.50" x2="146.60" y2="643.50" stroke="#000" stroke-width="0.35" opacity="0.35"/>
<line x1="156.60" y1="556.50" x2="156.60" y2="643.50" stroke="#000" stroke-width="0.35" opacity="0.35"/>
<line x1="166.50" y1="556.50" x2="166.50" y2="643.50" stroke="#000" stroke-width="0.35" opacity="0.35"/>
<line x1="176.20" y1="556.50" x2="176.20" y2="643.50" stroke="#000" stroke-width="0.35" opacity="0.35"/>
<line x1="186.00" y1="556.50" x2="186.00" y2="643.50" stroke="#000" stroke-width="0.35" opacity="0.35"/>
<line x1="195.80" y1="556.50" x2="195.80" y2="643.50" stroke="#000" stroke-width="0.35" opacity="0.35"/>
<line x1="205.80" y1="556.50" x2="205.80" y2="643.50" stroke="#000" stroke-width="0.35" opacity="0.35"/>
<line x1="215.90" y1="556.50" x2="215.90" y2="643.50" stroke="#000" stroke-width="0.35" opacity="0.35"/>
<line x1="225.80" y1="556.50" x2="225.80" y2="643.50" stroke="#000" stroke-width="0.35" opacity="0.35"/>
<line x1="235.80" y1="556.50" x2="235.80" y2="643.50" stroke="#000" stroke-width="0.35" opacity="0.35"/>
<line x1="136.50" y1="567.38" x2="245.50" y2="567.38" stroke="#000" stroke-width="0.35" opacity="0.35"/>
<line x1="136.50" y1="578.25" x2="245.50" y2="578.25" stroke="#000" stroke-width="0.35" opacity="0.35"/>
<line x1="136.50" y1="589.12" x2="245.50" y2="589.12" stroke="#000" stroke-width="0.35" opacity="0.35"/>
<line x1="136.50" y1="600.00" x2="245.50" y2="600.00" stroke="#000" stroke-width="0.35" opacity="0.35"/>
<line x1="136.50" y1="610.88" x2="245.50" y2="610.88" stroke="#000" stroke-width="0.35" opacity="0.35"/>
<line x1="136.50" y1="621.75" x2="245.50" y2="621.75" stroke="#000" stroke-width="0.35" opacity="0.35"/>
<line x1="136.50" y1="632.62" x2="245.50" y2="632.62" stroke="#000" stroke-width="0.35" opacity="0.35"/>
<text x="134.6" y="564.5" font-size="7.42" text-anchor="end" textLength="14.0" lengthAdjust="spacingAndGlyphs" >CD4</text>
<text x="134.6" y="575.4" font-size="7.42" text-anchor="end" textLength="17.9" lengthAdjust="spacingAndGlyphs" >CD8a</text>
<text x="134.6" y="586.2" font-size="7.42" text-anchor="end" textLength="27.6" lengthAdjust="spacingAndGlyphs" >CD45RA</text>
<text x="134.6" y="597.1" font-size="7.42" text-anchor="end" textLength="19.1" lengthAdjust="spacingAndGlyphs" >CCR7</text>
<text x="134.6" y="608.0" font-size="7.42" text-anchor="end" textLength="23.0" lengthAdjust="spacingAndGlyphs" >CCD56</text>
<text x="134.6" y="618.9" font-size="7.42" text-anchor="end" textLength="17.9" lengthAdjust="spacingAndGlyphs" >CD25</text>
<text x="134.6" y="629.8" font-size="7.42" text-anchor="end" textLength="21.8" lengthAdjust="spacingAndGlyphs" >CD127</text>
<text x="134.6" y="640.6" font-size="7.42" text-anchor="end" textLength="17.9" lengthAdjust="spacingAndGlyphs" >CD95</text>
<text x="193.8" y="654.0" font-size="7.63" text-anchor="middle" textLength="44.0" lengthAdjust="spacingAndGlyphs" >Scaled median</text>
<text x="193.8" y="662.4" font-size="7.63" text-anchor="middle" textLength="32.0" lengthAdjust="spacingAndGlyphs" >expression</text>
<defs><linearGradient id="gG" x1="0" x2="1"><stop offset="0" stop-color="#00008a"/><stop offset="0.2" stop-color="#1030d8"/><stop offset="0.42" stop-color="#88e4f0"/><stop offset="0.66" stop-color="#f4f088"/><stop offset="0.86" stop-color="#e03020"/><stop offset="1" stop-color="#8c0000"/></linearGradient></defs>
<rect x="175.40" y="666.80" width="36.90" height="4.30" fill="url(#gG)" />
<text x="169.6" y="671.2" font-size="5.80" >0</text>
<text x="214.4" y="671.2" font-size="5.80" >1</text>
<text x="259.6" y="573.8" font-size="9.12" text-anchor="middle" font-weight="bold" textLength="21.6" lengthAdjust="spacingAndGlyphs" transform="rotate(-90 259.6 573.8)" >UMAP2</text>
<text x="318.6" y="652.2" font-size="9.12" text-anchor="middle" font-weight="bold" textLength="18.6" lengthAdjust="spacingAndGlyphs" >UMAP1</text>
<polygon points="278.6,511.2 281.9,509.1 288.6,509.5 292.0,508.5 296.7,509.1 299.4,511.8 300.8,516.5 300.1,521.9 298.1,523.9 291.3,524.9 288.6,523.9 286.0,523.3 282.6,521.9 281.2,523.9 279.9,523.3 279.2,520.6 281.2,517.2 279.2,515.2 278.1,513.2" fill="#0c0c3a" stroke="none" stroke-width="1" />
<polygon points="269.8,542.8 273.2,540.8 281.9,540.1 289.3,541.4 292.7,543.5 294.0,547.5 292.7,550.9 288.0,552.2 283.3,552.9 282.6,556.2 280.6,558.3 277.9,557.6 277.2,554.2 275.2,552.2 270.5,550.9 269.1,547.5" fill="#0c0c3a" stroke="none" stroke-width="1" />
<polygon points="306.8,548.8 308.8,548.2 310.5,550.9 309.5,554.2 307.5,554.2 306.1,552.2" fill="#0c0c3a" stroke="none" stroke-width="1" />
<polygon points="287.0,509.3 292.0,508.5 296.7,509.1 299.4,511.8 300.8,516.5 300.1,521.9 298.1,523.9 294.0,524.6 292.0,522.0 290.0,518.0 288.0,514.0" fill="#1a4a44" stroke="none" stroke-width="1" />
<path d="M292.8 512.6h0M300.0 516.7h0M299.0 522.0h0M288.4 511.9h0M293.7 520.9h0M298.7 511.7h0M298.6 517.4h0M293.5 523.3h0M299.6 521.2h0M296.8 509.5h0M293.4 513.2h0M295.7 514.3h0M289.3 512.9h0M294.3 524.3h0M293.1 520.2h0M297.7 514.6h0M294.1 509.2h0M293.0 514.1h0M288.9 513.7h0M293.3 518.9h0M293.3 515.1h0M291.1 515.2h0M299.3 517.4h0M292.6 513.3h0M291.4 518.2h0M298.0 521.2h0M297.5 511.0h0M300.0 514.0h0M290.6 517.0h0M298.4 511.7h0M289.2 514.2h0M295.9 516.4h0M297.9 510.5h0M292.6 512.1h0M292.7 509.3h0M287.9 512.3h0M289.7 514.2h0M294.7 520.8h0M291.4 511.5h0M290.7 509.7h0" stroke="#48d028" stroke-width="1.30" stroke-linecap="round" fill="none"/>
<path d="M298.6 521.3h0M291.0 513.0h0M297.5 510.0h0M295.7 521.9h0M293.8 523.6h0M297.4 519.9h0M290.2 513.4h0M294.5 510.5h0M292.1 516.3h0M298.7 520.4h0M299.8 518.7h0M293.7 514.6h0M298.7 514.4h0M288.3 512.5h0M296.8 513.7h0M293.1 517.0h0M295.3 509.1h0M292.9 518.5h0M296.2 521.3h0M299.5 521.0h0M298.8 515.5h0M294.5 515.0h0M296.7 521.7h0M292.1 510.6h0M296.5 514.4h0M288.9 514.5h0M300.6 517.3h0M296.6 510.4h0M297.9 518.8h0" stroke="#38c028" stroke-width="1.30" stroke-linecap="round" fill="none"/>
<path d="M296.2 518.9h0M292.8 518.1h0M297.3 521.8h0M297.0 515.4h0M294.4 519.3h0M299.2 520.6h0M295.9 510.6h0M295.1 520.3h0M298.5 516.8h0M293.5 512.2h0M296.8 512.3h0M297.1 516.6h0M288.3 510.2h0M296.2 518.5h0M298.2 514.5h0M296.0 512.0h0M296.8 513.6h0M295.7 521.1h0M291.9 513.9h0M295.4 513.7h0M293.0 511.0h0" stroke="#2a70c0" stroke-width="1.30" stroke-linecap="round" fill="none"/>
<path d="M296.3 520.2h0M294.5 515.3h0M293.9 511.9h0M294.4 512.1h0M291.2 513.1h0M292.8 513.1h0M289.7 512.1h0M293.8 522.7h0M296.2 522.9h0M297.8 510.2h0M296.0 522.1h0M294.9 514.9h0M297.8 511.0h0M290.1 512.8h0M288.1 514.1h0M294.6 518.9h0M291.5 509.6h0M294.7 514.7h0M292.8 517.6h0M296.6 515.4h0" stroke="#60e030" stroke-width="1.30" stroke-linecap="round" fill="none"/>
<path d="M285.4 515.3h0M287.6 509.1h0M286.7 511.3h0M288.6 518.1h0M290.0 518.9h0M287.9 516.8h0M289.6 522.0h0" stroke="#2a60c0" stroke-width="1.10" stroke-linecap="round" fill="none"/>
<path d="M286.8 512.1h0M290.0 521.3h0M285.4 512.5h0M285.4 520.3h0M286.7 516.2h0M284.3 511.0h0M285.3 519.9h0M288.6 522.0h0M289.3 523.3h0M285.1 522.0h0M285.1 514.8h0M286.8 518.9h0" stroke="#2a8a50" stroke-width="1.10" stroke-linecap="round" fill="none"/>
<path d="M284.7 510.1h0M285.5 515.0h0M286.9 519.9h0M286.7 521.9h0M286.0 511.3h0M284.8 519.5h0" stroke="#48d028" stroke-width="1.10" stroke-linecap="round" fill="none"/>
<path d="M277.1 543.4h0M289.1 549.8h0M283.0 546.0h0M279.0 547.3h0M271.0 544.4h0M283.4 551.7h0M278.2 551.2h0M280.9 541.7h0M281.7 546.8h0M291.1 544.9h0" stroke="#48d028" stroke-width="1.00" stroke-linecap="round" fill="none"/>
<path d="M269.8 546.5h0M279.4 540.3h0M289.0 546.0h0M278.2 541.4h0M288.1 548.1h0M277.7 544.8h0M275.5 552.4h0M271.4 543.6h0M289.7 545.6h0M288.3 545.1h0M289.4 545.8h0M278.7 544.3h0M270.9 544.3h0M277.0 547.8h0M271.2 550.1h0" stroke="#2a6a50" stroke-width="1.00" stroke-linecap="round" fill="none"/>
<path d="M307.0 549.9h0M307.5 553.5h0M308.4 551.5h0M308.7 550.4h0M309.7 553.5h0M309.8 551.1h0" stroke="#48d028" stroke-width="1.00" stroke-linecap="round" fill="none"/>
<circle cx="308.8" cy="517.7" r="2.0" fill="#0c0c3a"/>
<circle cx="267.8" cy="537.3" r="0.5" fill="#60d040"/>
<circle cx="278.3" cy="561.3" r="0.5" fill="#80e060"/>
<circle cx="297.3" cy="551.3" r="0.5" fill="#5060d0"/>
<circle cx="299.3" cy="529.3" r="0.5" fill="#80e060"/>
<circle cx="293.3" cy="519.3" r="0.5" fill="#60d040"/>
<line x1="263.30" y1="504.30" x2="263.30" y2="565.90" stroke="#000" stroke-width="1.4" />
<line x1="262.70" y1="565.30" x2="311.70" y2="565.30" stroke="#000" stroke-width="1.4" />
<text x="292.4" y="503.6" font-size="7.00" text-anchor="middle" >TBX21</text>
<polygon points="336.4,511.5 339.7,509.4 346.4,509.8 349.8,508.8 354.5,509.4 357.2,512.1 358.6,516.8 357.9,522.2 355.9,524.2 349.1,525.2 346.4,524.2 343.8,523.6 340.4,522.2 339.0,524.2 337.7,523.6 337.0,520.9 339.0,517.5 337.0,515.5 335.9,513.5" fill="#0c0c3a" stroke="none" stroke-width="1" />
<polygon points="327.6,543.1 331.0,541.1 339.7,540.4 347.1,541.7 350.5,543.8 351.8,547.8 350.5,551.2 345.8,552.5 341.1,553.2 340.4,556.5 338.4,558.6 335.7,557.9 335.0,554.5 333.0,552.5 328.3,551.2 326.9,547.8" fill="#0c0c3a" stroke="none" stroke-width="1" />
<polygon points="364.6,549.1 366.6,548.5 368.3,551.2 367.3,554.5 365.3,554.5 363.9,552.5" fill="#1a4a40" stroke="none" stroke-width="1" />
<path d="M353.0 513.8h0M350.9 523.3h0M356.8 513.7h0M339.6 519.4h0M352.2 515.4h0M348.4 511.2h0M343.5 521.6h0M356.1 520.9h0M340.1 519.4h0M349.3 520.5h0M349.1 520.1h0M347.0 520.6h0M349.2 515.6h0M343.3 520.1h0M352.8 519.9h0M341.4 522.0h0M351.2 509.5h0M356.6 513.0h0M353.5 516.3h0M346.9 511.7h0M340.1 516.3h0M342.4 517.5h0M350.9 513.1h0M345.0 515.4h0M352.2 522.1h0M354.1 515.0h0M340.9 517.1h0" stroke="#48d028" stroke-width="1.10" stroke-linecap="round" fill="none"/>
<path d="M345.7 520.9h0M350.6 519.5h0M338.5 513.7h0M344.8 518.3h0M343.0 512.7h0M355.4 513.2h0M350.7 519.9h0M355.0 511.4h0M338.8 511.9h0M352.9 520.4h0M351.4 510.9h0M336.9 512.9h0M349.3 517.7h0M351.0 514.3h0M346.6 519.7h0M339.0 510.8h0M350.5 514.4h0M356.9 515.0h0M349.6 522.1h0M354.5 523.2h0M340.8 511.9h0M346.2 522.1h0M344.2 513.9h0M354.7 514.5h0M348.4 524.4h0M351.5 519.3h0M350.5 520.2h0" stroke="#2a8a40" stroke-width="1.10" stroke-linecap="round" fill="none"/>
<path d="M351.8 512.4h0M340.1 510.1h0M353.0 510.7h0M348.6 513.0h0M350.5 513.2h0M350.2 522.1h0M344.3 511.4h0M355.1 516.1h0M345.0 515.8h0M340.4 520.5h0M347.2 520.7h0M354.4 511.7h0M337.6 514.8h0M354.2 517.5h0M348.2 517.7h0M350.7 521.0h0" stroke="#3a6ad0" stroke-width="1.10" stroke-linecap="round" fill="none"/>
<path d="M340.8 550.8h0M335.6 548.7h0M344.9 546.4h0M342.8 550.6h0M349.1 550.6h0M328.4 544.5h0M339.5 547.1h0M344.6 546.2h0M341.7 544.5h0M340.0 554.0h0M337.4 556.8h0M349.2 543.7h0M335.7 550.2h0M349.5 546.1h0M333.6 549.9h0M334.7 542.9h0M348.6 548.8h0M347.3 545.6h0M329.7 545.9h0M337.4 542.8h0M331.1 546.7h0" stroke="#3a6ad0" stroke-width="1.10" stroke-linecap="round" fill="none"/>
<path d="M329.2 543.7h0M347.2 547.8h0M346.0 551.1h0M338.3 543.7h0M336.7 555.5h0M333.7 542.1h0M349.7 544.6h0M331.8 544.4h0M335.7 541.8h0M334.4 542.6h0M332.9 552.2h0M349.2 549.7h0M349.2 549.9h0M328.2 546.4h0M334.3 552.3h0M332.2 544.3h0M339.2 552.3h0" stroke="#48d028" stroke-width="1.10" stroke-linecap="round" fill="none"/>
<path d="M338.9 549.8h0M330.8 544.0h0M337.3 550.7h0M337.7 549.4h0M331.1 543.9h0M347.3 550.4h0M336.8 542.0h0M338.3 544.5h0M338.9 545.1h0M336.1 544.7h0M332.1 544.3h0M337.3 556.6h0M343.5 544.6h0M335.7 547.7h0M333.9 552.5h0M333.9 547.6h0M346.0 545.7h0" stroke="#2a8a40" stroke-width="1.10" stroke-linecap="round" fill="none"/>
<path d="M366.8 552.4h0M366.4 548.7h0M365.1 552.9h0M365.0 549.8h0M366.2 553.6h0M365.4 553.4h0M365.9 549.7h0M366.6 550.1h0" stroke="#48d028" stroke-width="1.00" stroke-linecap="round" fill="none"/>
<circle cx="366.6" cy="518.0" r="1.8" fill="#1a4a50"/>
<circle cx="325.6" cy="537.6" r="0.5" fill="#60d040"/>
<circle cx="336.1" cy="561.6" r="0.5" fill="#80e060"/>
<circle cx="355.1" cy="551.6" r="0.5" fill="#5060d0"/>
<circle cx="357.1" cy="529.6" r="0.5" fill="#80e060"/>
<circle cx="351.1" cy="519.6" r="0.5" fill="#60d040"/>
<line x1="321.10" y1="504.60" x2="321.10" y2="566.20" stroke="#000" stroke-width="1.4" />
<line x1="320.50" y1="565.60" x2="369.50" y2="565.60" stroke="#000" stroke-width="1.4" />
<text x="348.9" y="503.4" font-size="7.00" text-anchor="middle" >TIGIT</text>
<polygon points="278.4,587.1 281.7,585.0 288.4,585.4 291.8,584.4 296.5,585.0 299.2,587.7 300.6,592.4 299.9,597.8 297.9,599.8 291.1,600.8 288.4,599.8 285.8,599.2 282.4,597.8 281.0,599.8 279.7,599.2 279.0,596.5 281.0,593.1 279.0,591.1 277.9,589.1" fill="#0c0c3a" stroke="none" stroke-width="1" />
<polygon points="269.6,618.7 273.0,616.7 281.7,616.0 289.1,617.3 292.5,619.4 293.8,623.4 292.5,626.8 287.8,628.1 283.1,628.8 282.4,632.1 280.4,634.2 277.7,633.5 277.0,630.1 275.0,628.1 270.3,626.8 268.9,623.4" fill="#b4e23c" stroke="none" stroke-width="1" />
<polygon points="306.6,624.7 308.6,624.1 310.3,626.8 309.3,630.1 307.3,630.1 305.9,628.1" fill="#0c0c3a" stroke="none" stroke-width="1" />
<polygon points="277.9,589.1 278.4,587.1 281.7,585.0 288.4,585.4 288.8,590.9 286.8,599.4 282.4,597.8 281.0,599.8 279.0,596.5 281.0,593.1 279.0,591.1" fill="#2a8a48" stroke="none" stroke-width="1" />
<path d="M285.9 597.3h0M283.8 595.7h0M284.9 594.9h0M281.8 587.0h0M280.6 597.6h0M285.2 591.8h0M282.2 595.5h0M286.0 587.0h0M282.4 594.7h0M286.4 592.2h0M287.7 587.2h0M286.0 597.5h0M282.0 590.5h0M282.2 596.7h0M285.1 598.6h0M287.6 585.7h0" stroke="#2a60b0" stroke-width="1.20" stroke-linecap="round" fill="none"/>
<path d="M279.2 588.0h0M288.4 592.3h0M283.0 586.4h0M284.8 594.4h0M282.1 591.2h0M283.2 592.5h0M285.5 596.4h0M285.1 598.7h0M283.8 591.4h0M286.1 591.0h0M281.6 598.5h0M280.8 591.3h0M285.5 598.4h0M283.9 594.8h0M284.0 587.5h0M278.7 589.8h0M287.4 592.7h0M278.7 587.7h0M284.0 594.5h0M286.5 589.8h0M285.4 596.6h0M285.4 592.8h0M285.8 594.2h0M282.7 585.8h0" stroke="#60e040" stroke-width="1.20" stroke-linecap="round" fill="none"/>
<path d="M284.3 594.5h0M280.9 595.1h0M281.7 585.3h0M282.5 593.1h0M285.4 595.0h0M284.2 589.7h0M283.4 598.2h0M286.3 586.6h0M284.0 590.1h0M283.5 588.2h0M281.7 586.9h0M287.7 593.3h0" stroke="#48d028" stroke-width="1.20" stroke-linecap="round" fill="none"/>
<path d="M282.7 586.7h0M280.8 596.9h0M285.9 590.9h0M286.9 598.2h0M279.7 591.4h0M284.9 593.6h0M287.0 588.5h0M283.8 590.4h0M283.3 591.7h0M280.8 591.8h0M280.3 587.9h0M281.0 586.6h0M288.2 588.4h0M285.5 587.8h0M283.1 596.3h0M284.9 588.3h0M280.3 596.5h0M288.5 588.7h0" stroke="#40c070" stroke-width="1.20" stroke-linecap="round" fill="none"/>
<path d="M279.4 619.6h0M289.3 626.1h0M281.0 628.6h0M276.0 620.5h0M288.0 625.8h0M279.8 631.3h0M277.9 632.9h0M278.2 616.8h0M284.7 616.8h0M287.8 627.2h0M292.3 626.7h0M276.0 623.9h0M273.3 622.8h0M273.8 617.9h0M279.7 619.9h0M274.7 621.0h0M291.7 621.5h0M277.5 624.3h0M274.5 627.2h0M277.0 627.7h0M288.0 618.5h0M289.0 624.8h0" stroke="#60e040" stroke-width="1.20" stroke-linecap="round" fill="none"/>
<path d="M291.3 622.3h0M280.9 632.5h0M276.6 617.7h0M290.6 623.3h0M283.2 628.4h0M286.7 626.9h0M287.9 621.1h0M282.1 624.7h0M279.1 622.3h0M272.5 623.7h0M293.1 624.1h0M278.1 619.2h0" stroke="#70d030" stroke-width="1.20" stroke-linecap="round" fill="none"/>
<path d="M282.7 626.8h0M270.8 621.1h0M280.1 625.0h0M285.0 621.4h0M273.7 619.3h0M271.6 618.3h0M289.0 620.0h0M272.7 625.4h0M283.2 621.0h0M277.8 620.6h0M274.9 623.1h0M279.0 629.5h0M288.8 622.4h0M281.3 623.0h0M292.8 622.2h0M287.4 619.2h0" stroke="#48d028" stroke-width="1.20" stroke-linecap="round" fill="none"/>
<path d="M286.6 625.5h0M293.0 621.3h0M275.6 624.2h0M282.5 623.0h0M289.9 627.5h0M277.4 621.6h0M278.9 621.5h0M284.5 618.0h0M288.0 625.0h0M288.4 621.8h0M290.2 618.9h0M274.7 624.2h0M270.9 624.7h0" stroke="#d0ec40" stroke-width="1.20" stroke-linecap="round" fill="none"/>
<path d="M278.0 624.3h0M272.1 620.0h0M271.7 626.5h0M286.0 625.4h0M282.7 627.2h0M277.6 632.6h0M275.1 617.0h0M282.1 628.6h0M288.0 621.7h0M274.3 627.6h0M285.2 616.9h0M291.8 622.1h0M279.2 624.9h0M288.3 619.9h0M286.6 616.9h0M286.0 617.3h0M283.4 627.2h0" stroke="#3aa060" stroke-width="1.20" stroke-linecap="round" fill="none"/>
<path d="M309.8 628.0h0M308.0 629.6h0M308.8 626.8h0M308.7 627.6h0M306.8 627.7h0M308.7 625.8h0" stroke="#48d028" stroke-width="1.00" stroke-linecap="round" fill="none"/>
<circle cx="308.6" cy="593.6" r="2.0" fill="#b8e640"/>
<circle cx="267.6" cy="613.2" r="0.5" fill="#60d040"/>
<circle cx="278.1" cy="637.2" r="0.5" fill="#80e060"/>
<circle cx="297.1" cy="627.2" r="0.5" fill="#5060d0"/>
<circle cx="299.1" cy="605.2" r="0.5" fill="#80e060"/>
<circle cx="293.1" cy="595.2" r="0.5" fill="#60d040"/>
<line x1="263.10" y1="580.20" x2="263.10" y2="641.80" stroke="#000" stroke-width="1.4" />
<line x1="262.50" y1="641.20" x2="311.50" y2="641.20" stroke="#000" stroke-width="1.4" />
<text x="293.4" y="576.4" font-size="7.00" text-anchor="middle" >CD28</text>
<polygon points="336.2,587.1 339.5,585.0 346.2,585.4 349.6,584.4 354.3,585.0 357.0,587.7 358.4,592.4 357.7,597.8 355.7,599.8 348.9,600.8 346.2,599.8 343.6,599.2 340.2,597.8 338.8,599.8 337.5,599.2 336.8,596.5 338.8,593.1 336.8,591.1 335.7,589.1" fill="#040418" stroke="none" stroke-width="1" />
<polygon points="327.4,618.7 330.8,616.7 339.5,616.0 346.9,617.3 350.3,619.4 351.6,623.4 350.3,626.8 345.6,628.1 340.9,628.8 340.2,632.1 338.2,634.2 335.5,633.5 334.8,630.1 332.8,628.1 328.1,626.8 326.7,623.4" fill="#000008" stroke="none" stroke-width="1" />
<polygon points="364.4,624.7 366.4,624.1 368.1,626.8 367.1,630.1 365.1,630.1 363.7,628.1" fill="#000010" stroke="none" stroke-width="1" />
<path d="M355.7 596.4h0M351.4 597.4h0M341.5 595.0h0M341.8 591.0h0M347.4 590.4h0M346.3 596.3h0M341.1 593.3h0" stroke="#3a5ad0" stroke-width="1.00" stroke-linecap="round" fill="none"/>
<path d="M346.5 593.9h0M353.0 590.6h0M341.4 594.7h0M352.1 588.6h0M340.7 597.3h0M338.8 598.1h0" stroke="#2a8a60" stroke-width="1.00" stroke-linecap="round" fill="none"/>
<path d="M355.2 595.9h0M354.5 587.4h0M340.8 586.4h0M346.4 591.9h0M345.1 592.7h0" stroke="#2030a0" stroke-width="1.00" stroke-linecap="round" fill="none"/>
<circle cx="366.4" cy="593.6" r="2.0" fill="#000010"/>
<circle cx="325.4" cy="613.2" r="0.5" fill="#60d040"/>
<circle cx="335.9" cy="637.2" r="0.5" fill="#80e060"/>
<circle cx="354.9" cy="627.2" r="0.5" fill="#5060d0"/>
<circle cx="356.9" cy="605.2" r="0.5" fill="#80e060"/>
<circle cx="350.9" cy="595.2" r="0.5" fill="#60d040"/>
<line x1="320.90" y1="580.20" x2="320.90" y2="641.80" stroke="#000" stroke-width="1.4" />
<line x1="320.30" y1="641.20" x2="369.30" y2="641.20" stroke="#000" stroke-width="1.4" />
<text x="343.2" y="576.2" font-size="7.00" text-anchor="middle" >GZMB</text>
<text x="336.2" y="660.6" font-size="7.42" textLength="34.2" lengthAdjust="spacingAndGlyphs" >Expression</text>
<defs><linearGradient id="gH" x1="0" x2="1"><stop offset="0" stop-color="#000008"/><stop offset="0.25" stop-color="#101070"/><stop offset="0.5" stop-color="#2060e8"/><stop offset="0.7" stop-color="#30d0e0"/><stop offset="0.85" stop-color="#60e040"/><stop offset="1" stop-color="#f0f020"/></linearGradient></defs>
<rect x="336.00" y="662.70" width="37.40" height="4.80" fill="url(#gH)" />
<text x="338.0" y="676.4" font-size="7.42" text-anchor="middle" textLength="11.0" lengthAdjust="spacingAndGlyphs" >Min</text>
<text x="370.4" y="676.4" font-size="7.42" text-anchor="middle" textLength="12.4" lengthAdjust="spacingAndGlyphs" >Max</text>
<text x="447.0" y="504.6" font-size="7.42" textLength="14.2" lengthAdjust="spacingAndGlyphs" >10kb</text>
<line x1="439.70" y1="507.30" x2="464.40" y2="507.30" stroke="#000" stroke-width="1.1" />
<text x="386.4" y="515.3" font-size="7.42" text-anchor="end" textLength="12.4" lengthAdjust="spacingAndGlyphs" >100</text>
<text x="386.4" y="527.8" font-size="7.00" text-anchor="end" >0</text>
<rect x="428.10" y="511.70" width="3.80" height="104.10" fill="#d2eff8" />
<polygon points="393.4,528.7 393.4,528.1 393.7,528.3 394.0,528.4 394.3,528.2 394.6,528.4 394.9,528.5 395.2,528.4 395.5,528.3 395.8,528.1 396.1,528.4 396.4,528.2 396.7,528.1 397.0,528.4 397.3,528.3 397.6,528.2 397.9,528.5 398.2,528.4 398.5,528.3 398.8,528.2 399.1,528.4 399.4,528.4 399.7,528.2 400.0,528.5 400.3,528.2 400.6,528.4 400.9,528.2 401.2,528.4 401.5,527.8 401.8,526.4 402.1,524.2 402.4,523.8 402.7,525.9 403.0,527.4 403.3,528.0 403.6,528.5 403.9,528.2 404.2,528.5 404.5,528.3 404.8,527.6 405.1,525.3 405.4,519.9 405.7,517.2 406.0,522.0 406.3,525.7 406.6,527.4 406.9,528.1 407.2,528.1 407.5,528.1 407.8,528.3 408.1,528.4 408.4,528.3 408.7,528.3 409.0,528.4 409.3,528.1 409.6,528.1 409.9,528.4 410.2,528.5 410.5,528.4 410.8,528.4 411.1,528.2 411.4,528.3 411.7,528.4 412.0,528.4 412.3,528.3 412.6,528.2 412.9,528.4 413.2,528.3 413.5,528.3 413.8,528.1 414.1,528.4 414.4,528.4 414.7,528.4 415.0,528.4 415.3,528.4 415.6,528.3 415.9,528.4 416.2,528.5 416.5,528.4 416.8,528.4 417.1,528.1 417.4,528.3 417.7,528.2 418.0,528.3 418.3,528.5 418.6,528.1 418.9,528.2 419.2,528.2 419.5,528.4 419.8,528.4 420.1,528.2 420.4,528.3 420.7,528.4 421.0,528.1 421.3,528.5 421.6,528.4 421.9,528.2 422.2,528.3 422.5,528.4 422.8,528.2 423.1,528.3 423.4,528.5 423.7,528.2 424.0,528.2 424.3,528.2 424.6,528.2 424.9,528.1 425.2,528.4 425.5,528.3 425.8,528.1 426.1,528.2 426.4,528.2 426.7,528.2 427.0,528.3 427.3,528.5 427.6,528.5 427.9,528.4 428.2,528.4 428.5,528.2 428.8,528.2 429.1,528.3 429.4,528.4 429.7,528.3 430.0,528.1 430.3,528.2 430.6,528.5 430.9,528.1 431.2,528.4 431.5,528.1 431.8,528.2 432.1,528.2 432.4,528.2 432.7,528.2 433.0,528.4 433.3,528.4 433.6,528.5 433.9,528.3 434.2,528.4 434.5,528.4 434.8,528.2 435.1,528.5 435.4,528.1 435.7,528.5 436.0,528.3 436.3,528.4 436.6,528.2 436.9,528.4 437.2,528.2 437.5,528.5 437.8,528.3 438.1,528.4 438.4,528.3 438.7,528.3 439.0,528.2 439.3,528.1 439.6,528.5 439.9,528.3 440.2,528.4 440.5,528.1 440.8,527.8 441.1,524.2 441.4,521.1 441.7,521.8 442.0,525.9 442.3,528.0 442.6,528.2 442.9,528.4 443.2,528.1 443.5,527.9 443.8,526.3 444.1,521.8 444.4,523.4 444.7,525.5 445.0,527.6 445.3,528.1 445.6,528.3 445.9,528.2 446.2,528.5 446.5,528.1 446.8,528.5 447.1,528.2 447.4,528.5 447.7,528.2 448.0,528.3 448.3,528.4 448.6,528.3 448.9,528.3 449.2,528.3 449.5,528.4 449.8,528.1 450.1,528.4 450.4,528.2 450.7,528.2 451.0,528.4 451.3,528.4 451.6,528.4 451.9,528.1 452.2,528.3 452.5,527.9 452.8,526.8 453.1,522.6 453.4,520.6 453.7,522.0 454.0,526.7 454.3,528.0 454.6,528.2 454.9,528.3 455.2,528.4 455.5,528.5 455.8,528.2 456.1,528.2 456.4,528.3 456.7,528.2 457.0,528.2 457.3,528.3 457.6,528.5 457.9,528.2 458.2,528.5 458.5,528.3 458.8,528.1 459.1,528.4 459.4,528.1 459.7,528.4 460.0,528.3 460.3,528.2 460.6,528.1 460.9,528.4 461.2,528.1 461.5,528.4 461.8,528.2 462.1,528.2 462.4,528.2 462.7,528.2 463.0,528.3 463.3,528.3 463.6,528.1 463.9,528.5 464.2,528.3 464.5,528.3 464.8,528.4 465.1,528.0 465.4,527.7 465.7,527.0 466.0,525.9 466.3,525.6 466.6,525.9 466.9,526.5 467.2,527.9 467.4,528.7" fill="#5ec2f0" stroke="none" stroke-width="1" />
<polyline points="391.4,512.9 389.6,512.9 389.6,528.1 391.4,528.1" fill="none" stroke="#333" stroke-width="0.8" />
<text x="469.8" y="522.9" font-size="7.42" textLength="28.9" lengthAdjust="spacingAndGlyphs" >CD4<tspan font-size="92%" baseline-shift="1.0">+</tspan> EM</text>
<polygon points="393.4,546.0 393.4,545.6 393.7,545.5 394.0,545.6 394.3,545.8 394.6,545.6 394.9,545.8 395.2,545.6 395.5,545.6 395.8,545.7 396.1,545.4 396.4,545.5 396.7,545.8 397.0,545.4 397.3,545.7 397.6,545.6 397.9,545.4 398.2,545.7 398.5,545.6 398.8,545.7 399.1,545.4 399.4,545.8 399.7,545.4 400.0,545.7 400.3,545.6 400.6,545.6 400.9,545.4 401.2,545.1 401.5,543.7 401.8,540.5 402.1,532.9 402.4,530.2 402.7,536.7 403.0,543.0 403.3,545.2 403.6,545.7 403.9,545.4 404.2,545.5 404.5,545.2 404.8,543.4 405.1,540.3 405.4,534.1 405.7,530.2 406.0,536.3 406.3,540.3 406.6,543.6 406.9,545.1 407.2,545.4 407.5,545.6 407.8,545.4 408.1,545.6 408.4,545.6 408.7,545.6 409.0,545.7 409.3,545.5 409.6,545.5 409.9,545.6 410.2,545.4 410.5,545.6 410.8,545.7 411.1,545.7 411.4,545.8 411.7,545.7 412.0,545.5 412.3,545.7 412.6,545.7 412.9,545.5 413.2,545.7 413.5,545.4 413.8,545.5 414.1,545.7 414.4,545.7 414.7,545.6 415.0,545.8 415.3,545.7 415.6,545.7 415.9,545.7 416.2,545.7 416.5,545.5 416.8,545.6 417.1,545.6 417.4,545.5 417.7,545.6 418.0,545.7 418.3,545.5 418.6,545.7 418.9,545.7 419.2,545.4 419.5,545.7 419.8,545.6 420.1,545.4 420.4,545.8 420.7,545.7 421.0,545.8 421.3,545.5 421.6,545.5 421.9,545.4 422.2,545.5 422.5,545.7 422.8,545.7 423.1,545.7 423.4,545.5 423.7,545.7 424.0,545.5 424.3,545.6 424.6,545.5 424.9,545.8 425.2,545.6 425.5,545.4 425.8,545.5 426.1,545.6 426.4,545.4 426.7,545.5 427.0,545.4 427.3,545.6 427.6,545.4 427.9,545.5 428.2,545.4 428.5,545.6 428.8,545.4 429.1,545.6 429.4,545.6 429.7,545.7 430.0,545.4 430.3,545.6 430.6,545.6 430.9,545.4 431.2,545.5 431.5,545.5 431.8,545.7 432.1,545.5 432.4,545.4 432.7,545.7 433.0,545.8 433.3,545.8 433.6,545.7 433.9,545.6 434.2,545.4 434.5,545.5 434.8,545.6 435.1,545.6 435.4,545.5 435.7,545.5 436.0,545.7 436.3,545.5 436.6,545.5 436.9,545.7 437.2,545.4 437.5,545.8 437.8,545.7 438.1,545.8 438.4,545.5 438.7,545.7 439.0,545.5 439.3,545.7 439.6,545.5 439.9,545.6 440.2,545.5 440.5,545.7 440.8,545.6 441.1,545.8 441.4,545.4 441.7,545.6 442.0,545.2 442.3,544.6 442.6,543.7 442.9,541.6 443.2,539.3 443.5,536.9 443.8,538.1 444.1,537.4 444.4,540.9 444.7,544.2 445.0,545.2 445.3,545.4 445.6,545.8 445.9,545.6 446.2,545.6 446.5,545.5 446.8,545.6 447.1,545.6 447.4,545.5 447.7,545.4 448.0,545.7 448.3,545.4 448.6,545.7 448.9,545.4 449.2,545.4 449.5,545.7 449.8,545.6 450.1,545.7 450.4,545.6 450.7,545.8 451.0,545.6 451.3,545.6 451.6,545.7 451.9,545.5 452.2,543.8 452.5,541.7 452.8,536.7 453.1,532.7 453.4,538.7 453.7,542.5 454.0,544.9 454.3,545.7 454.6,545.6 454.9,545.5 455.2,545.4 455.5,545.7 455.8,545.4 456.1,545.7 456.4,545.7 456.7,545.6 457.0,545.7 457.3,545.4 457.6,545.7 457.9,545.7 458.2,545.7 458.5,545.7 458.8,545.7 459.1,545.5 459.4,545.6 459.7,545.7 460.0,545.4 460.3,545.5 460.6,545.6 460.9,545.5 461.2,545.6 461.5,545.6 461.8,545.6 462.1,545.8 462.4,545.5 462.7,545.6 463.0,545.7 463.3,545.5 463.6,545.5 463.9,545.3 464.2,543.8 464.5,543.1 464.8,540.7 465.1,540.0 465.4,540.4 465.7,540.6 466.0,538.1 466.3,534.8 466.6,530.2 466.9,535.9 467.2,541.5 467.4,546.0" fill="#f4a472" stroke="none" stroke-width="1" />
<polyline points="391.4,530.5 389.6,530.5 389.6,545.4 391.4,545.4" fill="none" stroke="#333" stroke-width="0.8" />
<text x="469.8" y="540.4" font-size="7.42" textLength="28.9" lengthAdjust="spacingAndGlyphs" >CD8<tspan font-size="92%" baseline-shift="1.0">+</tspan> EM</text>
<polygon points="393.4,563.3 393.4,563.1 393.7,562.9 394.0,563.1 394.3,563.1 394.6,563.0 394.9,562.9 395.2,562.8 395.5,562.6 395.8,562.3 396.1,561.9 396.4,560.9 396.7,560.5 397.0,558.7 397.3,558.7 397.6,558.7 397.9,558.3 398.2,558.2 398.5,556.9 398.8,555.8 399.1,554.2 399.4,556.1 399.7,554.6 400.0,555.1 400.3,553.5 400.6,550.1 400.9,550.2 401.2,554.2 401.5,553.6 401.8,550.9 402.1,549.1 402.4,547.5 402.7,553.3 403.0,558.8 403.3,562.0 403.6,563.0 403.9,562.8 404.2,562.7 404.5,562.5 404.8,560.8 405.1,557.5 405.4,550.9 405.7,549.1 406.0,554.1 406.3,558.5 406.6,560.8 406.9,562.5 407.2,562.9 407.5,562.8 407.8,562.8 408.1,562.7 408.4,562.8 408.7,562.9 409.0,562.9 409.3,563.0 409.6,563.0 409.9,562.9 410.2,563.0 410.5,563.0 410.8,562.8 411.1,563.0 411.4,562.9 411.7,562.8 412.0,563.0 412.3,562.8 412.6,562.8 412.9,562.8 413.2,562.9 413.5,562.7 413.8,562.7 414.1,562.8 414.4,562.9 414.7,563.1 415.0,562.7 415.3,563.0 415.6,562.8 415.9,562.9 416.2,562.9 416.5,562.9 416.8,563.0 417.1,563.0 417.4,562.9 417.7,563.1 418.0,562.7 418.3,563.1 418.6,562.8 418.9,562.8 419.2,562.9 419.5,562.8 419.8,562.7 420.1,562.9 420.4,562.8 420.7,563.0 421.0,563.0 421.3,562.8 421.6,562.7 421.9,563.1 422.2,562.7 422.5,562.9 422.8,563.0 423.1,563.0 423.4,563.0 423.7,562.8 424.0,562.8 424.3,562.9 424.6,563.0 424.9,563.0 425.2,562.9 425.5,563.0 425.8,562.8 426.1,563.0 426.4,563.1 426.7,563.0 427.0,562.9 427.3,563.1 427.6,562.8 427.9,563.0 428.2,562.8 428.5,563.0 428.8,562.8 429.1,562.9 429.4,563.0 429.7,562.8 430.0,562.7 430.3,562.9 430.6,563.0 430.9,563.1 431.2,562.9 431.5,562.9 431.8,563.0 432.1,562.9 432.4,563.1 432.7,563.0 433.0,562.9 433.3,562.9 433.6,562.8 433.9,562.8 434.2,562.8 434.5,562.8 434.8,562.8 435.1,563.0 435.4,563.0 435.7,563.1 436.0,563.1 436.3,562.7 436.6,563.1 436.9,563.1 437.2,562.8 437.5,563.1 437.8,563.1 438.1,562.8 438.4,563.0 438.7,562.8 439.0,563.0 439.3,562.7 439.6,562.8 439.9,563.1 440.2,563.1 440.5,562.9 440.8,562.8 441.1,563.0 441.4,562.9 441.7,563.0 442.0,562.8 442.3,562.8 442.6,563.0 442.9,562.7 443.2,562.5 443.5,560.4 443.8,558.0 444.1,554.8 444.4,554.6 444.7,558.1 445.0,561.6 445.3,562.4 445.6,562.8 445.9,563.1 446.2,562.9 446.5,562.8 446.8,563.0 447.1,562.8 447.4,562.9 447.7,562.9 448.0,562.8 448.3,562.8 448.6,562.9 448.9,562.8 449.2,562.8 449.5,563.0 449.8,563.0 450.1,563.0 450.4,562.8 450.7,563.0 451.0,563.1 451.3,562.9 451.6,563.1 451.9,563.0 452.2,562.7 452.5,562.6 452.8,561.6 453.1,559.6 453.4,556.8 453.7,551.3 454.0,552.1 454.3,557.7 454.6,560.0 454.9,561.9 455.2,562.8 455.5,562.8 455.8,562.9 456.1,563.0 456.4,562.8 456.7,563.0 457.0,562.9 457.3,563.0 457.6,562.7 457.9,562.9 458.2,563.0 458.5,562.7 458.8,563.0 459.1,562.7 459.4,563.0 459.7,562.9 460.0,562.9 460.3,562.8 460.6,562.9 460.9,562.8 461.2,562.9 461.5,563.0 461.8,562.8 462.1,562.8 462.4,563.1 462.7,563.1 463.0,562.9 463.3,562.8 463.6,562.5 463.9,561.9 464.2,559.8 464.5,557.3 464.8,556.4 465.1,555.3 465.4,556.4 465.7,555.2 466.0,553.0 466.3,550.7 466.6,552.5 466.9,556.8 467.2,560.3 467.4,563.3" fill="#f2640e" stroke="none" stroke-width="1" />
<polyline points="391.4,547.8 389.6,547.8 389.6,562.7 391.4,562.7" fill="none" stroke="#333" stroke-width="0.8" />
<text x="469.8" y="557.6" font-size="7.42" textLength="40.2" lengthAdjust="spacingAndGlyphs" >CD8<tspan font-size="92%" baseline-shift="1.0">+</tspan> EM/NK</text>
<polygon points="393.4,580.5 393.4,579.9 393.7,580.1 394.0,580.2 394.3,580.1 394.6,580.3 394.9,580.1 395.2,580.1 395.5,579.9 395.8,580.2 396.1,580.2 396.4,580.0 396.7,579.9 397.0,580.1 397.3,579.9 397.6,580.0 397.9,580.2 398.2,580.1 398.5,580.3 398.8,580.1 399.1,579.9 399.4,580.0 399.7,580.1 400.0,580.2 400.3,580.1 400.6,580.2 400.9,580.2 401.2,579.8 401.5,578.7 401.8,575.5 402.1,571.6 402.4,572.2 402.7,574.9 403.0,578.5 403.3,579.8 403.6,580.2 403.9,580.0 404.2,579.9 404.5,579.8 404.8,579.0 405.1,576.1 405.4,571.6 405.7,566.5 406.0,568.2 406.3,573.8 406.6,578.1 406.9,579.6 407.2,580.2 407.5,580.0 407.8,580.1 408.1,580.1 408.4,580.3 408.7,580.2 409.0,579.9 409.3,580.3 409.6,580.1 409.9,579.9 410.2,580.2 410.5,580.0 410.8,580.0 411.1,580.1 411.4,579.9 411.7,580.0 412.0,580.0 412.3,580.3 412.6,580.1 412.9,580.0 413.2,580.1 413.5,580.2 413.8,580.1 414.1,580.3 414.4,580.0 414.7,580.0 415.0,580.3 415.3,580.1 415.6,580.0 415.9,580.1 416.2,580.2 416.5,580.0 416.8,580.1 417.1,579.9 417.4,580.3 417.7,580.1 418.0,580.0 418.3,580.1 418.6,580.0 418.9,580.2 419.2,580.1 419.5,579.9 419.8,580.1 420.1,580.1 420.4,579.9 420.7,580.2 421.0,580.0 421.3,580.3 421.6,580.2 421.9,580.3 422.2,580.2 422.5,580.1 422.8,580.1 423.1,580.1 423.4,579.9 423.7,580.1 424.0,580.2 424.3,579.9 424.6,580.2 424.9,580.0 425.2,580.1 425.5,580.1 425.8,580.1 426.1,580.0 426.4,579.9 426.7,580.3 427.0,580.2 427.3,580.1 427.6,580.0 427.9,580.2 428.2,580.1 428.5,580.0 428.8,580.0 429.1,579.5 429.4,577.6 429.7,576.1 430.0,577.4 430.3,579.5 430.6,579.9 430.9,580.3 431.2,580.2 431.5,580.1 431.8,580.1 432.1,579.9 432.4,580.0 432.7,580.1 433.0,580.2 433.3,579.9 433.6,580.3 433.9,580.0 434.2,579.9 434.5,579.9 434.8,580.1 435.1,580.0 435.4,579.9 435.7,580.1 436.0,580.2 436.3,580.0 436.6,580.0 436.9,580.0 437.2,580.2 437.5,580.0 437.8,580.1 438.1,580.2 438.4,580.2 438.7,580.2 439.0,580.0 439.3,580.1 439.6,580.0 439.9,579.8 440.2,578.8 440.5,577.5 440.8,575.8 441.1,576.6 441.4,577.4 441.7,575.5 442.0,575.2 442.3,575.6 442.6,577.1 442.9,574.9 443.2,574.9 443.5,574.8 443.8,578.1 444.1,577.9 444.4,573.9 444.7,573.9 445.0,577.4 445.3,579.3 445.6,580.1 445.9,580.1 446.2,580.0 446.5,580.3 446.8,580.2 447.1,580.2 447.4,580.2 447.7,580.0 448.0,580.2 448.3,580.1 448.6,580.2 448.9,580.3 449.2,580.3 449.5,580.2 449.8,580.1 450.1,580.2 450.4,579.9 450.7,580.3 451.0,580.1 451.3,580.2 451.6,579.6 451.9,578.5 452.2,575.4 452.5,574.2 452.8,572.9 453.1,569.2 453.4,568.6 453.7,574.9 454.0,578.5 454.3,579.7 454.6,579.9 454.9,579.1 455.2,577.8 455.5,577.7 455.8,578.0 456.1,579.4 456.4,579.8 456.7,580.1 457.0,580.1 457.3,580.1 457.6,580.1 457.9,580.0 458.2,580.2 458.5,580.1 458.8,580.3 459.1,580.0 459.4,579.2 459.7,578.5 460.0,577.2 460.3,577.8 460.6,579.5 460.9,579.9 461.2,580.1 461.5,580.3 461.8,580.3 462.1,580.2 462.4,580.1 462.7,580.2 463.0,580.2 463.3,580.2 463.6,579.9 463.9,579.2 464.2,578.2 464.5,575.9 464.8,572.9 465.1,571.0 465.4,572.6 465.7,572.9 466.0,567.7 466.3,568.3 466.6,564.8 466.9,570.6 467.2,575.7 467.4,580.5" fill="#e01410" stroke="none" stroke-width="1" />
<polyline points="391.4,565.1 389.6,565.1 389.6,579.9 391.4,579.9" fill="none" stroke="#333" stroke-width="0.8" />
<text x="469.8" y="574.9" font-size="7.42" textLength="30.2" lengthAdjust="spacingAndGlyphs" >CD8<tspan font-size="92%" baseline-shift="1.0">+</tspan> exh.</text>
<polygon points="393.4,597.6 393.4,597.1 393.7,597.2 394.0,597.0 394.3,597.3 394.6,597.2 394.9,597.1 395.2,597.2 395.5,597.2 395.8,597.0 396.1,597.0 396.4,597.1 396.7,597.2 397.0,597.3 397.3,597.2 397.6,597.1 397.9,597.1 398.2,597.0 398.5,597.1 398.8,597.1 399.1,597.2 399.4,597.1 399.7,597.1 400.0,597.3 400.3,597.3 400.6,597.3 400.9,597.3 401.2,597.4 401.5,596.7 401.8,595.8 402.1,594.1 402.4,593.6 402.7,595.4 403.0,596.9 403.3,597.2 403.6,597.3 403.9,597.3 404.2,597.2 404.5,597.2 404.8,596.3 405.1,594.9 405.4,590.3 405.7,589.4 406.0,589.3 406.3,593.8 406.6,596.6 406.9,597.1 407.2,597.1 407.5,597.0 407.8,597.4 408.1,597.2 408.4,597.3 408.7,597.1 409.0,597.3 409.3,597.3 409.6,597.1 409.9,597.1 410.2,597.1 410.5,597.2 410.8,597.1 411.1,597.0 411.4,597.1 411.7,597.3 412.0,597.2 412.3,597.3 412.6,597.3 412.9,597.2 413.2,597.4 413.5,597.2 413.8,597.3 414.1,597.2 414.4,597.3 414.7,597.2 415.0,597.2 415.3,597.4 415.6,597.0 415.9,597.2 416.2,597.3 416.5,597.3 416.8,597.2 417.1,597.3 417.4,597.0 417.7,597.1 418.0,597.2 418.3,597.1 418.6,597.1 418.9,597.2 419.2,597.3 419.5,597.1 419.8,597.0 420.1,597.2 420.4,597.2 420.7,597.3 421.0,597.3 421.3,597.2 421.6,597.0 421.9,597.3 422.2,597.1 422.5,597.3 422.8,597.4 423.1,597.3 423.4,597.1 423.7,597.3 424.0,597.1 424.3,597.3 424.6,597.4 424.9,597.3 425.2,597.2 425.5,597.3 425.8,597.4 426.1,597.1 426.4,597.4 426.7,597.1 427.0,597.3 427.3,597.2 427.6,597.3 427.9,597.4 428.2,597.2 428.5,597.0 428.8,597.4 429.1,597.1 429.4,597.4 429.7,597.3 430.0,597.0 430.3,597.3 430.6,597.1 430.9,597.2 431.2,597.3 431.5,597.2 431.8,597.4 432.1,597.3 432.4,597.4 432.7,597.2 433.0,597.2 433.3,597.2 433.6,597.2 433.9,597.0 434.2,597.1 434.5,597.2 434.8,597.1 435.1,597.2 435.4,597.1 435.7,597.2 436.0,597.3 436.3,597.1 436.6,597.3 436.9,597.2 437.2,597.2 437.5,597.3 437.8,597.3 438.1,597.1 438.4,597.1 438.7,597.0 439.0,597.2 439.3,597.0 439.6,597.0 439.9,597.2 440.2,597.2 440.5,597.3 440.8,597.0 441.1,597.0 441.4,597.4 441.7,597.3 442.0,597.2 442.3,597.1 442.6,597.0 442.9,596.3 443.2,595.1 443.5,592.5 443.8,592.9 444.1,594.1 444.4,594.8 444.7,596.2 445.0,596.8 445.3,597.0 445.6,597.3 445.9,597.3 446.2,597.1 446.5,597.2 446.8,597.4 447.1,597.3 447.4,597.1 447.7,597.0 448.0,597.3 448.3,597.1 448.6,597.1 448.9,597.1 449.2,597.1 449.5,597.3 449.8,597.2 450.1,597.0 450.4,597.3 450.7,597.0 451.0,597.3 451.3,597.4 451.6,597.2 451.9,597.2 452.2,597.2 452.5,596.5 452.8,595.1 453.1,593.6 453.4,593.5 453.7,595.4 454.0,596.9 454.3,597.2 454.6,597.1 454.9,597.1 455.2,597.2 455.5,597.1 455.8,597.0 456.1,597.3 456.4,597.1 456.7,597.1 457.0,597.0 457.3,597.1 457.6,597.1 457.9,597.4 458.2,597.3 458.5,597.3 458.8,597.2 459.1,597.1 459.4,597.1 459.7,597.4 460.0,597.1 460.3,597.0 460.6,597.3 460.9,597.4 461.2,597.3 461.5,597.4 461.8,597.1 462.1,597.0 462.4,597.0 462.7,597.3 463.0,597.3 463.3,597.0 463.6,597.3 463.9,597.2 464.2,597.2 464.5,596.3 464.8,595.5 465.1,594.1 465.4,592.3 465.7,590.6 466.0,589.4 466.3,589.1 466.6,590.9 466.9,594.4 467.2,596.5 467.4,597.6" fill="#f2a4b6" stroke="none" stroke-width="1" />
<polyline points="391.4,582.3 389.6,582.3 389.6,597.0 391.4,597.0" fill="none" stroke="#333" stroke-width="0.8" />
<text x="469.8" y="592.1" font-size="7.42" textLength="33.8" lengthAdjust="spacingAndGlyphs" >CD8<tspan font-size="92%" baseline-shift="1.0">+</tspan> naive</text>
<polygon points="393.4,615.2 393.4,614.6 393.7,614.8 394.0,614.7 394.3,614.8 394.6,614.6 394.9,614.9 395.2,614.7 395.5,614.9 395.8,615.0 396.1,614.6 396.4,614.7 396.7,614.6 397.0,614.9 397.3,614.7 397.6,614.7 397.9,614.7 398.2,614.9 398.5,614.8 398.8,614.9 399.1,614.7 399.4,614.9 399.7,614.8 400.0,614.9 400.3,614.9 400.6,614.9 400.9,614.8 401.2,614.6 401.5,614.4 401.8,612.7 402.1,608.5 402.4,607.8 402.7,611.8 403.0,614.1 403.3,614.6 403.6,615.0 403.9,614.7 404.2,614.8 404.5,614.9 404.8,614.6 405.1,613.8 405.4,609.1 405.7,605.2 406.0,609.2 406.3,613.8 406.6,614.6 406.9,614.7 407.2,614.6 407.5,614.9 407.8,614.8 408.1,614.8 408.4,614.8 408.7,614.7 409.0,614.7 409.3,614.9 409.6,614.8 409.9,614.6 410.2,614.8 410.5,615.0 410.8,614.6 411.1,614.6 411.4,614.7 411.7,614.6 412.0,614.7 412.3,614.7 412.6,615.0 412.9,614.8 413.2,614.7 413.5,615.0 413.8,614.7 414.1,614.6 414.4,614.9 414.7,614.8 415.0,614.9 415.3,614.8 415.6,614.9 415.9,614.7 416.2,615.0 416.5,614.7 416.8,614.8 417.1,615.0 417.4,614.9 417.7,614.9 418.0,614.8 418.3,614.9 418.6,614.9 418.9,614.6 419.2,614.6 419.5,614.9 419.8,614.7 420.1,614.8 420.4,614.8 420.7,614.7 421.0,614.6 421.3,614.7 421.6,615.0 421.9,615.0 422.2,614.9 422.5,614.7 422.8,615.0 423.1,614.9 423.4,614.7 423.7,614.8 424.0,614.8 424.3,614.9 424.6,614.7 424.9,614.9 425.2,614.8 425.5,614.7 425.8,615.0 426.1,614.9 426.4,615.0 426.7,614.6 427.0,614.8 427.3,614.7 427.6,615.0 427.9,615.0 428.2,614.9 428.5,614.7 428.8,614.7 429.1,614.6 429.4,614.8 429.7,614.6 430.0,614.9 430.3,614.7 430.6,614.7 430.9,614.8 431.2,614.7 431.5,614.7 431.8,614.8 432.1,614.8 432.4,614.6 432.7,614.7 433.0,614.7 433.3,614.7 433.6,614.9 433.9,614.8 434.2,614.8 434.5,614.9 434.8,614.7 435.1,614.7 435.4,614.6 435.7,614.7 436.0,614.9 436.3,614.9 436.6,614.7 436.9,614.8 437.2,614.8 437.5,614.8 437.8,614.8 438.1,614.7 438.4,615.0 438.7,614.9 439.0,614.7 439.3,614.8 439.6,614.9 439.9,615.0 440.2,614.7 440.5,614.7 440.8,614.0 441.1,612.7 441.4,609.7 441.7,610.8 442.0,612.7 442.3,614.4 442.6,614.6 442.9,614.4 443.2,612.3 443.5,611.7 443.8,612.5 444.1,614.3 444.4,614.6 444.7,614.7 445.0,615.0 445.3,614.7 445.6,615.0 445.9,614.8 446.2,614.9 446.5,615.0 446.8,614.7 447.1,614.6 447.4,614.9 447.7,615.0 448.0,614.9 448.3,614.9 448.6,614.9 448.9,614.9 449.2,614.7 449.5,614.8 449.8,614.9 450.1,614.7 450.4,614.9 450.7,615.0 451.0,615.0 451.3,614.6 451.6,614.6 451.9,614.6 452.2,614.6 452.5,614.4 452.8,613.6 453.1,611.3 453.4,608.5 453.7,612.8 454.0,614.2 454.3,614.8 454.6,614.9 454.9,614.9 455.2,614.9 455.5,614.7 455.8,614.6 456.1,614.9 456.4,614.6 456.7,614.9 457.0,614.8 457.3,614.8 457.6,614.8 457.9,615.0 458.2,614.7 458.5,615.0 458.8,614.7 459.1,614.8 459.4,615.0 459.7,614.8 460.0,614.7 460.3,614.9 460.6,614.8 460.9,614.7 461.2,614.8 461.5,614.8 461.8,614.7 462.1,614.9 462.4,614.7 462.7,614.7 463.0,615.0 463.3,614.6 463.6,614.9 463.9,615.0 464.2,614.7 464.5,614.8 464.8,614.8 465.1,615.0 465.4,614.9 465.7,614.3 466.0,613.6 466.3,612.5 466.6,613.1 466.9,613.7 467.2,614.6 467.4,615.2" fill="#bcecf6" stroke="none" stroke-width="1" />
<polyline points="391.4,599.4 389.6,599.4 389.6,614.6 391.4,614.6" fill="none" stroke="#333" stroke-width="0.8" />
<text x="469.8" y="609.4" font-size="7.42" textLength="47.2" lengthAdjust="spacingAndGlyphs" >CD4<tspan font-size="92%" baseline-shift="1.0">+</tspan> naive/CM</text>
<line x1="392.80" y1="511.70" x2="468.00" y2="511.70" stroke="#000" stroke-width="1.3" />
<line x1="392.80" y1="529.30" x2="468.00" y2="529.30" stroke="#000" stroke-width="1.3" />
<line x1="392.80" y1="546.60" x2="468.00" y2="546.60" stroke="#000" stroke-width="1.3" />
<line x1="392.80" y1="563.90" x2="468.00" y2="563.90" stroke="#000" stroke-width="1.3" />
<line x1="392.80" y1="581.10" x2="468.00" y2="581.10" stroke="#000" stroke-width="1.3" />
<line x1="392.80" y1="598.20" x2="468.00" y2="598.20" stroke="#000" stroke-width="1.3" />
<line x1="392.80" y1="615.80" x2="468.00" y2="615.80" stroke="#000" stroke-width="1.3" />
<line x1="393.40" y1="511.70" x2="393.40" y2="615.80" stroke="#000" stroke-width="1.3" />
<line x1="467.40" y1="511.70" x2="467.40" y2="615.80" stroke="#000" stroke-width="1.3" />
<rect x="393.6" y="622.6" width="73.8" height="15.4" fill="#fff" stroke="#111" stroke-width="1.2"/>
<rect x="400.80" y="625.00" width="1.20" height="11.00" fill="#1414b0" />
<rect x="402.50" y="625.00" width="1.00" height="11.00" fill="#1414b0" />
<rect x="404.00" y="625.00" width="1.00" height="11.00" fill="#1414b0" />
<rect x="405.50" y="625.00" width="1.10" height="11.00" fill="#1414b0" />
<rect x="407.00" y="625.00" width="1.70" height="11.00" fill="#1414b0" />
<rect x="422.10" y="625.00" width="1.10" height="11.00" fill="#1414b0" />
<rect x="430.40" y="625.00" width="1.00" height="11.00" fill="#1414b0" />
<rect x="432.30" y="625.00" width="1.30" height="11.00" fill="#1414b0" />
<rect x="436.80" y="625.00" width="1.10" height="11.00" fill="#1414b0" />
<rect x="439.70" y="625.00" width="0.90" height="11.00" fill="#1414b0" />
<rect x="441.50" y="625.00" width="0.90" height="11.00" fill="#1414b0" />
<rect x="443.20" y="625.00" width="0.90" height="11.00" fill="#1414b0" />
<rect x="444.70" y="625.00" width="1.10" height="11.00" fill="#1414b0" />
<rect x="452.00" y="625.00" width="1.40" height="11.00" fill="#1414b0" />
<rect x="454.30" y="625.00" width="2.00" height="11.00" fill="#1414b0" />
<rect x="459.20" y="625.00" width="1.00" height="11.00" fill="#1414b0" />
<rect x="461.00" y="625.00" width="1.10" height="11.00" fill="#1414b0" />
<rect x="463.50" y="625.00" width="1.50" height="11.00" fill="#1414b0" />
<rect x="465.50" y="625.00" width="1.50" height="11.00" fill="#1414b0" />
<text x="471.3" y="631.3" font-size="7.42" textLength="17.6" lengthAdjust="spacingAndGlyphs" >Peaks</text>
<rect x="430.4" y="644.1" width="27.9" height="12.0" rx="2.4" fill="#fff" stroke="#46c6f6" stroke-width="1.3"/>
<text x="444.4" y="652.5" font-size="7.42" text-anchor="middle" textLength="22.4" lengthAdjust="spacingAndGlyphs" >PDCD1</text>
<line x1="442.90" y1="656.10" x2="442.90" y2="659.00" stroke="#46c6f6" stroke-width="1.0" />
<rect x="420.60" y="655.80" width="3.20" height="9.00" fill="#46c6f6" />
<rect x="424.80" y="655.80" width="3.40" height="9.00" fill="#46c6f6" />
<rect x="428.00" y="658.60" width="15.00" height="3.50" fill="#46c6f6" />
<rect x="442.20" y="657.40" width="1.20" height="7.40" fill="#46c6f6" />
<polygon points="443.0,657.6 445.0,660.4 443.0,663.1" fill="#46c6f6" stroke="none" stroke-width="1" />
<rect x="0.75" y="0.75" width="518.5" height="682.5" fill="none" stroke="#000" stroke-width="1.5"/>
</svg></body></html>
